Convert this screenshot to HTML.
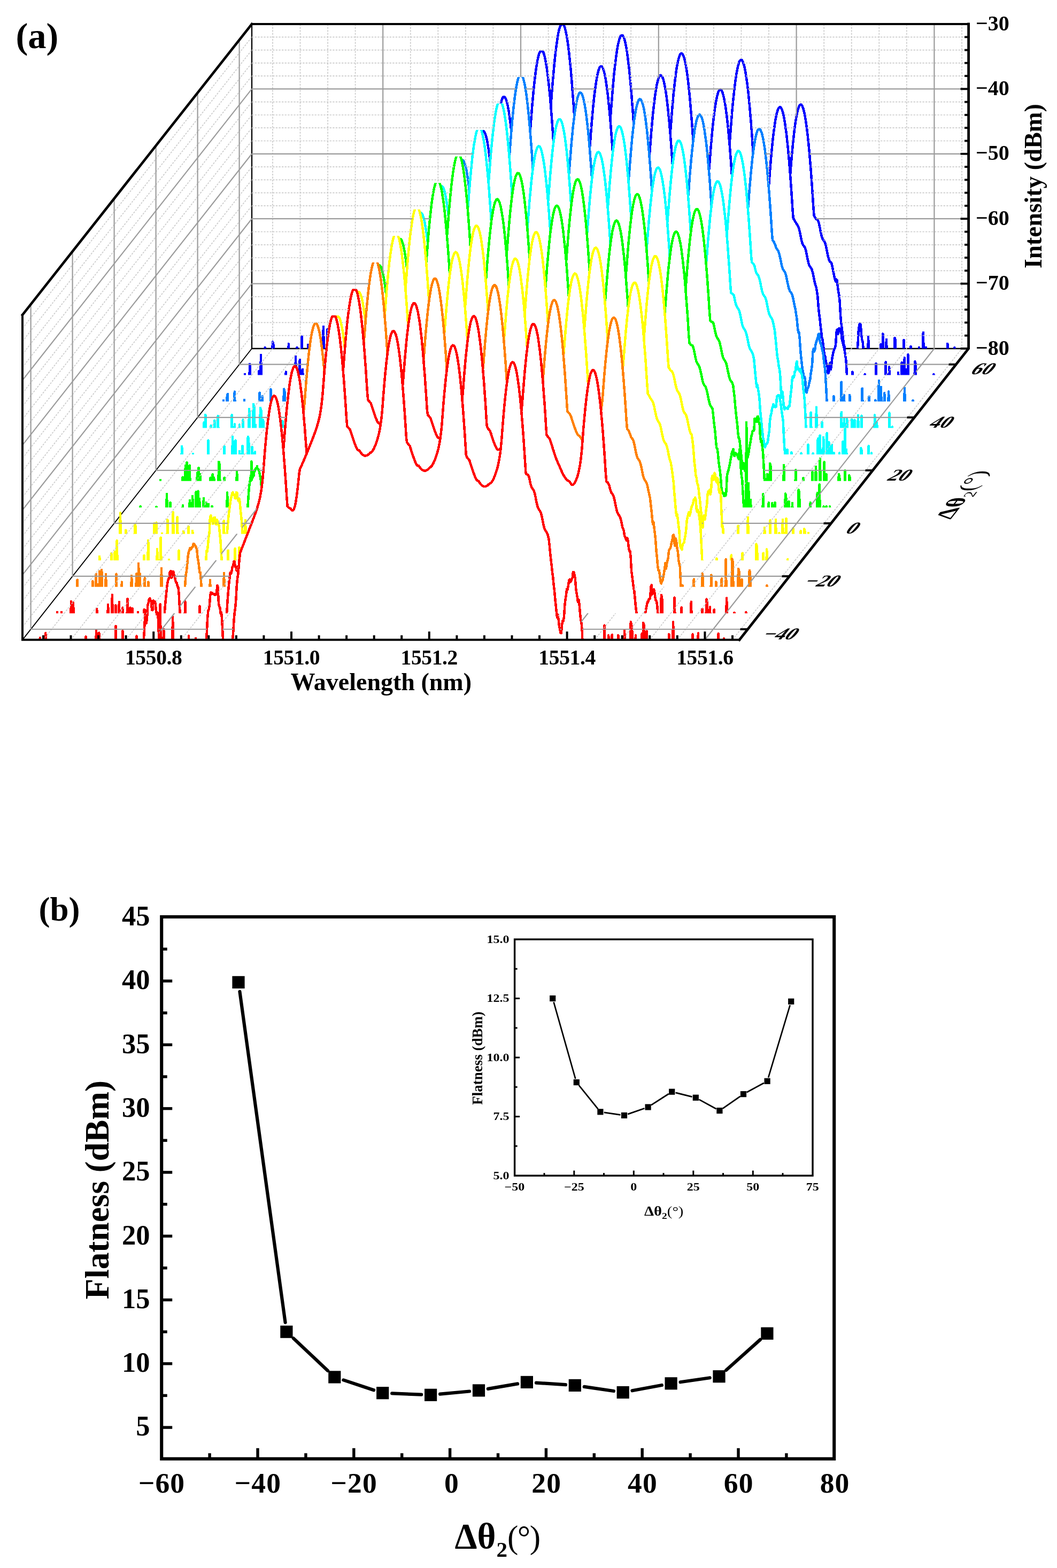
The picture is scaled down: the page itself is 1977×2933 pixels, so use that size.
<!DOCTYPE html>
<html><head><meta charset="utf-8"><title>Figure</title>
<style>html,body{margin:0;padding:0;background:#fff}svg{display:block}</style>
</head><body>
<svg width="1977" height="2933" viewBox="0 0 1977 2933">
<defs>
<clipPath id="c0"><rect x="0" y="589.80" width="1977" height="607.00"/></clipPath>
<path id="p0" d="M42.3,1221.1 73.5,1221.1 74.8,1192.9 76.1,1221.1 83.9,1221.1 85.2,1184.2 86.5,1221.1 159.3,1221.1 160.6,1190.6 161.9,1221.1 178.8,1221.1 180.1,1178.0 181.4,1221.1 184.0,1221.1 185.3,1183.7 186.6,1221.1 215.2,1221.1 216.5,1171.1 217.8,1221.1 228.2,1221.1 229.5,1180.3 230.8,1221.1 254.2,1221.1 255.5,1189.5 256.8,1221.1 267.2,1221.1 268.5,1201.4 269.8,1181.8 271.1,1154.7 272.4,1141.4 273.7,1165.8 275.0,1157.7 276.3,1132.3 277.6,1128.0 278.9,1120.9 280.2,1119.3 281.5,1124.1 282.8,1123.8 284.1,1141.2 285.4,1141.3 286.7,1123.5 288.0,1124.7 289.3,1124.8 290.6,1128.2 291.9,1142.3 293.2,1149.3 294.5,1145.8 295.8,1157.6 297.1,1190.7 298.4,1208.5 299.7,1129.8 301.0,1221.1 304.9,1221.1 306.2,1176.8 307.5,1221.1 321.8,1221.1 323.1,1153.9 324.4,1221.1 351.7,1221.1 353.0,1189.5 354.3,1221.1 364.7,1221.1 366.0,1194.1 367.3,1221.1 382.9,1221.1 384.2,1218.4 385.5,1203.9 386.8,1182.9 388.1,1156.9 389.4,1142.5 390.7,1139.4 392.0,1130.3 393.3,1112.8 394.6,1107.9 395.9,1111.3 397.2,1109.2 398.5,1111.2 399.8,1110.8 401.1,1113.0 402.4,1113.0 403.7,1110.7 405.0,1111.6 406.3,1095.0 407.6,1098.0 408.9,1128.6 410.2,1134.8 411.5,1137.3 412.8,1148.0 414.1,1145.6 415.4,1161.9 416.7,1189.3 418.0,1211.9 419.3,1221.1 431.0,1221.1 432.3,1214.5 433.6,1199.4 434.9,1198.4 436.2,1183.3 437.5,1160.6 438.8,1145.5 440.1,1136.9 441.4,1121.7 442.7,1097.0 444.0,1081.9 445.3,1074.6 446.6,1059.7 447.9,1044.7 449.2,1033.5 450.5,1030.6 451.8,1027.1 453.1,1023.7 454.4,1020.4 455.7,1017.1 457.0,1013.8 458.3,1010.5 459.6,1007.2 460.9,1003.8 462.2,1000.5 463.5,997.2 464.8,993.9 466.1,990.5 467.4,987.2 468.7,983.9 470.0,980.5 471.3,977.1 472.6,973.7 473.9,970.3 475.2,966.9 476.5,963.3 477.8,959.7 479.1,956.0 480.4,952.1 481.7,948.0 483.0,943.7 484.3,938.9 485.6,933.5 486.9,927.3 488.2,920.1 489.5,911.3 490.8,900.5 492.1,886.7 493.4,869.6 494.7,852.9 496.0,837.3 497.3,822.9 498.6,809.6 499.9,797.5 501.2,786.6 502.5,776.8 503.8,768.2 505.1,760.7 506.4,754.4 507.7,749.3 509.0,745.3 510.3,742.5 511.6,740.8 512.9,740.3 514.2,741.0 515.5,742.8 516.8,745.8 518.1,750.0 519.4,755.3 520.7,761.8 522.0,769.4 523.3,778.2 524.6,788.2 525.9,799.3 527.2,811.6 528.5,825.0 529.8,839.6 531.1,855.3 532.4,872.2 533.7,890.2 535.0,909.3 536.3,929.4 537.6,947.3 538.9,948.4 540.2,949.4 541.5,950.2 542.8,950.7 544.1,952.1 545.4,953.9 546.7,954.8 548.0,954.7 549.3,953.2 550.6,950.1 551.9,945.4 553.2,938.9 554.5,930.7 555.8,920.9 557.1,909.9 558.4,897.8 559.7,884.9 561.0,877.2 562.3,874.5 563.6,871.6 564.9,868.7 566.2,865.8 567.5,862.8 568.8,859.8 570.1,856.7 571.4,853.6 572.7,850.5 574.0,847.3 575.3,844.1 576.6,840.9 577.9,837.7 579.2,834.4 580.5,831.2 581.8,827.9 583.1,824.7 584.4,821.3 585.7,818.0 587.0,814.5 588.3,811.0 589.6,807.4 590.9,803.7 592.2,799.8 593.5,795.6 594.8,791.2 596.1,786.3 597.4,780.7 598.7,774.4 600.0,766.8 601.3,757.6 602.6,746.2 603.9,731.7 605.2,714.3 606.5,697.8 607.8,682.5 609.1,668.3 610.4,655.3 611.7,643.5 613.0,632.8 614.3,623.3 615.6,615.0 616.9,607.8 618.2,601.7 619.5,596.9 620.8,593.2 622.1,591.3 623.4,591.3 624.7,591.3 626.0,591.3 627.3,592.0 628.6,595.3 629.9,599.7 631.2,605.3 632.5,612.1 633.8,620.0 635.1,629.0 636.4,639.3 637.7,650.6 639.0,663.2 640.3,676.9 641.6,691.8 642.9,707.8 644.2,725.0 645.5,743.4 646.8,762.9 648.1,783.5 649.4,797.4 650.7,799.0 652.0,800.5 653.3,802.1 654.6,803.6 655.9,807.1 657.2,811.2 658.5,815.2 659.8,819.1 661.1,823.0 662.4,826.8 663.7,830.3 665.0,833.7 666.3,836.7 667.6,839.2 668.9,841.2 670.2,842.3 671.5,842.3 672.8,843.8 674.1,845.7 675.4,847.5 676.7,848.9 678.0,850.2 679.3,851.1 680.6,851.9 681.9,852.3 683.2,852.5 684.5,852.4 685.8,852.1 687.1,851.5 688.4,850.7 689.7,849.6 691.0,848.3 692.3,846.8 693.6,846.6 694.9,845.7 696.2,844.2 697.5,842.3 698.8,840.0 700.1,837.4 701.4,834.4 702.7,831.2 704.0,827.6 705.3,823.7 706.6,819.4 707.9,814.6 709.2,809.0 710.5,802.5 711.8,794.7 713.1,785.1 714.4,773.1 715.7,757.7 717.0,740.3 718.3,724.1 719.6,709.1 720.9,695.2 722.2,682.5 723.5,670.9 724.8,660.5 726.1,651.3 727.4,643.2 728.7,636.3 730.0,630.5 731.3,625.9 732.6,622.5 733.9,620.2 735.2,619.1 736.5,619.1 737.8,620.3 739.1,622.7 740.4,626.2 741.7,630.9 743.0,636.7 744.3,643.8 745.6,651.9 746.9,661.3 748.2,671.8 749.5,683.4 750.8,696.2 752.1,710.2 753.4,725.4 754.7,741.7 756.0,759.1 757.3,777.7 758.6,797.5 759.9,818.5 761.2,827.8 762.5,829.3 763.8,830.9 765.1,832.4 766.4,834.0 767.7,838.0 769.0,842.1 770.3,846.1 771.6,850.0 772.9,853.8 774.2,857.5 775.5,861.0 776.8,864.2 778.1,867.1 779.4,869.4 780.7,871.0 782.0,871.7 783.3,871.3 784.6,873.3 785.9,875.1 787.2,876.6 788.5,878.0 789.8,879.0 791.1,879.8 792.4,880.4 793.7,880.6 795.0,880.6 796.3,880.4 797.6,879.9 798.9,879.1 800.2,878.2 801.5,877.0 802.8,875.5 804.1,874.3 805.4,873.7 806.7,872.5 808.0,870.9 809.3,868.8 810.6,866.3 811.9,863.6 813.2,860.5 814.5,857.2 815.8,853.5 817.1,849.5 818.4,845.1 819.7,840.1 821.0,834.3 822.3,827.5 823.6,819.4 824.9,809.3 826.2,796.6 827.5,780.3 828.8,763.2 830.1,747.3 831.4,732.5 832.7,718.9 834.0,706.4 835.3,695.1 836.6,685.0 837.9,676.0 839.2,668.2 840.5,661.5 841.8,656.0 843.1,651.7 844.4,648.5 845.7,646.5 847.0,645.7 848.3,646.0 849.6,647.5 850.9,650.1 852.2,653.9 853.5,658.9 854.8,665.0 856.1,672.2 857.4,680.7 858.7,690.3 860.0,701.1 861.3,713.0 862.6,726.1 863.9,740.3 865.2,755.7 866.5,772.3 867.8,790.0 869.1,808.9 870.4,829.0 871.7,850.2 873.0,854.8 874.3,856.4 875.6,858.0 876.9,859.5 878.2,861.6 879.5,865.7 880.8,869.7 882.1,873.7 883.4,877.6 884.7,881.5 886.0,885.2 887.3,888.7 888.6,891.9 889.9,894.7 891.2,897.1 892.5,898.7 893.8,899.5 895.1,899.8 896.4,901.9 897.7,903.8 899.0,905.4 900.3,906.8 901.6,908.0 902.9,908.9 904.2,909.6 905.5,909.9 906.8,910.1 908.1,909.9 909.4,909.5 910.7,908.9 912.0,908.0 913.3,906.9 914.6,905.5 915.9,904.7 917.2,904.2 918.5,903.1 919.8,901.5 921.1,899.4 922.4,897.0 923.7,894.2 925.0,891.2 926.3,887.8 927.6,884.1 928.9,880.0 930.2,875.5 931.5,870.3 932.8,864.4 934.1,857.3 935.4,848.8 936.7,838.2 938.0,824.7 939.3,807.8 940.6,791.0 941.9,775.3 943.2,760.8 944.5,747.5 945.8,735.3 947.1,724.2 948.4,714.4 949.7,705.7 951.0,698.1 952.3,691.7 953.6,686.5 954.9,682.4 956.2,679.5 957.5,677.8 958.8,677.2 960.1,677.8 961.4,679.5 962.7,682.4 964.0,686.5 965.3,691.7 966.6,698.1 967.9,705.7 969.2,714.4 970.5,724.2 971.8,735.3 973.1,747.5 974.4,760.8 975.7,775.3 977.0,791.0 978.3,807.8 979.6,825.8 980.9,845.0 982.2,865.3 983.5,885.2 984.8,886.8 986.1,887.6 987.4,888.3 988.7,890.0 990.0,894.2 991.3,900.7 992.6,906.3 993.9,910.4 995.2,912.9 996.5,914.6 997.8,916.5 999.1,919.5 1000.4,924.0 1001.7,930.0 1003.0,936.6 1004.3,942.9 1005.6,947.9 1006.9,951.3 1008.2,953.4 1009.5,955.1 1010.8,957.3 1012.1,960.8 1013.4,966.0 1014.7,972.3 1016.0,978.9 1017.3,984.8 1018.6,989.2 1019.9,992.0 1021.2,993.8 1022.5,995.6 1023.8,998.2 1025.1,1002.4 1026.4,1008.0 1027.7,1019.5 1029.0,1033.5 1030.3,1045.8 1031.6,1056.7 1032.9,1069.1 1034.2,1078.5 1035.5,1092.8 1036.8,1102.9 1038.1,1117.9 1039.4,1130.6 1040.7,1142.9 1042.0,1155.0 1043.3,1149.7 1044.6,1157.9 1045.9,1171.2 1047.2,1177.0 1048.5,1183.7 1049.8,1184.3 1051.1,1169.1 1052.4,1161.4 1053.7,1162.2 1055.0,1153.3 1056.3,1132.6 1057.6,1120.7 1058.9,1112.9 1060.2,1101.6 1061.5,1103.0 1062.8,1096.2 1064.1,1086.2 1065.4,1083.8 1066.7,1089.1 1068.0,1087.5 1069.3,1083.5 1070.6,1081.1 1071.9,1069.9 1073.2,1069.9 1074.5,1075.8 1075.8,1081.1 1077.1,1099.7 1078.4,1108.8 1079.7,1116.8 1081.0,1126.1 1082.3,1121.6 1083.6,1130.6 1084.9,1147.0 1086.2,1159.0 1087.5,1165.0 1088.8,1180.9 1090.1,1216.5 1091.4,1221.1 1129.1,1221.1 1130.4,1169.6 1131.7,1221.1 1136.9,1221.1 1138.2,1188.4 1139.5,1221.1 1143.4,1221.1 1144.7,1187.4 1146.0,1221.1 1155.1,1221.1 1156.4,1188.4 1157.7,1221.1 1166.8,1221.1 1168.1,1179.5 1169.4,1221.1 1178.5,1221.1 1179.8,1163.3 1181.1,1168.1 1182.4,1181.5 1183.7,1221.1 1187.6,1221.1 1188.9,1188.4 1190.2,1221.1 1199.3,1221.1 1200.6,1185.4 1201.9,1221.1 1203.2,1164.7 1204.5,1169.5 1205.8,1221.1 1208.4,1221.1 1209.7,1180.5 1211.0,1221.1 1250.0,1221.1 1251.3,1186.4 1252.6,1221.1 1257.8,1221.1 1259.1,1163.3 1260.4,1221.1 1294.2,1221.1 1295.5,1186.4 1296.8,1221.1 1304.6,1221.1 1305.9,1184.4 1307.2,1221.1 1342.3,1221.1 1343.6,1185.4 1344.9,1221.1 1352.7,1221.1 1354.0,1194.3 1355.3,1221.1 1382.6,1221.1 L1382.6,1226.8 L42.3,1226.8Z"/>
<mask id="m0" maskUnits="userSpaceOnUse" x="0" y="0" width="1977" height="1300"><rect x="0" y="0" width="1977" height="1300" fill="#fff"/><use href="#p0" fill="#000" clip-path="url(#c0)"/></mask>
<clipPath id="c1"><rect x="0" y="540.27" width="1977" height="607.00"/></clipPath>
<path id="p1" d="M81.1,1171.6 105.8,1171.6 107.1,1145.2 108.4,1171.6 113.6,1171.6 114.9,1145.2 116.2,1171.6 131.8,1171.6 133.1,1125.2 134.4,1171.6 135.8,1171.6 137.0,1127.5 138.3,1171.6 179.9,1171.6 181.2,1139.0 182.6,1171.6 200.8,1171.6 202.1,1130.9 203.3,1171.6 208.6,1171.6 209.9,1112.6 211.1,1171.6 215.1,1171.6 216.4,1132.1 217.6,1171.6 221.6,1171.6 222.9,1125.9 224.1,1171.6 228.1,1171.6 229.4,1136.7 230.6,1171.6 237.1,1171.6 238.4,1119.9 239.8,1171.6 242.4,1171.6 243.6,1136.7 244.9,1171.6 246.2,1171.6 247.6,1138.3 248.9,1171.6 256.6,1171.6 257.9,1145.2 259.2,1171.6 268.4,1171.6 269.6,1140.1 270.9,1171.6 306.1,1171.6 307.4,1154.9 308.6,1135.3 309.9,1122.0 311.2,1108.7 312.6,1095.1 313.9,1086.9 315.1,1083.9 316.4,1079.6 317.8,1069.8 319.1,1068.1 320.4,1080.7 321.6,1080.4 322.9,1069.0 324.2,1069.1 325.6,1076.2 326.9,1077.4 328.1,1086.1 329.4,1089.6 330.8,1090.2 332.1,1097.2 333.4,1098.2 334.6,1110.0 335.9,1135.0 337.2,1152.8 338.6,1171.6 345.1,1171.6 346.3,1125.2 347.6,1171.6 372.3,1171.6 373.6,1133.7 374.9,1171.6 421.8,1171.6 423.1,1169.9 424.3,1144.4 425.6,1123.5 426.9,1106.8 428.2,1092.4 429.6,1080.4 430.8,1071.3 432.1,1072.9 433.4,1067.9 434.8,1059.8 436.1,1057.8 437.3,1050.5 438.6,1050.1 439.9,1059.9 441.2,1059.9 442.6,1067.3 443.8,1068.1 445.1,1059.5 446.4,1062.4 447.8,1054.4 449.1,1060.6 450.3,1076.0 451.6,1086.7 452.9,1097.6 454.2,1113.9 455.6,1129.6 456.8,1152.2 458.1,1171.6 469.8,1171.6 471.1,1168.6 472.4,1153.4 473.8,1151.4 475.1,1136.2 476.3,1100.5 477.6,1085.3 478.9,1086.1 480.2,1070.9 481.6,1050.6 482.8,1035.4 484.1,1027.6 485.4,1009.7 486.8,988.4 488.1,978.0 489.3,974.8 490.6,971.5 491.9,968.1 493.2,964.8 494.6,961.5 495.8,958.2 497.1,954.9 498.4,951.6 499.8,948.2 501.1,944.9 502.3,941.6 503.6,938.3 504.9,934.9 506.2,931.6 507.6,928.3 508.8,924.9 510.1,921.5 511.4,918.1 512.8,914.7 514.1,911.3 515.4,907.7 516.6,904.1 518.0,900.4 519.2,896.5 520.6,892.4 521.9,888.1 523.1,883.3 524.5,877.9 525.8,871.7 527.1,864.5 528.4,855.7 529.6,844.9 531.0,831.1 532.2,814.0 533.6,797.3 534.9,781.7 536.1,767.3 537.5,754.0 538.8,741.9 540.1,731.0 541.4,721.2 542.6,712.6 544.0,705.1 545.2,698.8 546.6,693.7 547.9,689.7 549.1,686.9 550.5,685.2 551.8,684.7 553.1,685.4 554.4,687.2 555.6,690.2 557.0,694.4 558.2,699.7 559.6,706.2 560.9,713.8 562.1,722.6 563.5,732.6 564.8,743.7 566.1,756.0 567.4,769.4 568.6,784.0 570.0,799.8 571.2,816.6 572.6,834.7 573.9,853.8 575.1,873.9 576.5,891.8 577.8,893.0 579.1,894.1 580.4,894.9 581.6,895.5 583.0,897.0 584.2,899.1 585.6,900.3 586.9,900.5 588.1,899.5 589.5,897.0 590.8,892.8 592.1,886.8 593.4,879.1 594.6,869.9 596.0,859.2 597.2,847.4 598.5,834.7 599.9,827.2 601.1,824.5 602.5,821.7 603.8,818.9 605.0,816.0 606.4,813.0 607.6,810.0 609.0,807.0 610.2,803.9 611.5,800.8 612.9,797.6 614.1,794.5 615.5,791.3 616.8,788.1 618.0,784.8 619.4,781.6 620.6,778.4 622.0,775.1 623.2,771.8 624.5,768.4 625.9,765.0 627.1,761.5 628.5,757.9 629.8,754.1 631.0,750.2 632.4,746.1 633.6,741.6 635.0,736.7 636.2,731.2 637.5,724.8 638.9,717.3 640.1,708.1 641.5,696.7 642.8,682.1 644.0,664.8 645.4,648.3 646.6,633.0 648.0,618.8 649.2,605.8 650.5,594.0 651.9,583.3 653.1,573.8 654.5,565.4 655.8,558.2 657.0,552.2 658.4,547.3 659.6,543.6 661.0,541.7 662.2,541.7 663.5,541.7 664.9,541.7 666.1,542.5 667.5,545.8 668.8,550.2 670.0,555.8 671.4,562.5 672.6,570.4 674.0,579.5 675.2,589.7 676.5,601.1 677.9,613.7 679.1,627.4 680.5,642.2 681.8,658.3 683.0,675.5 684.4,693.8 685.6,713.3 687.0,734.0 688.2,747.9 689.5,749.5 690.9,751.0 692.1,752.6 693.5,754.1 694.8,757.6 696.0,761.6 697.4,765.6 698.6,769.6 700.0,773.4 701.2,777.2 702.5,780.7 703.9,784.0 705.1,787.0 706.5,789.5 707.8,791.3 709.0,792.3 710.4,792.2 711.6,793.6 713.0,795.5 714.2,797.1 715.5,798.5 716.9,799.6 718.1,800.5 719.5,801.2 720.8,801.5 722.0,801.6 723.4,801.5 724.6,801.0 726.0,800.4 727.2,799.5 728.5,798.4 729.9,797.0 731.1,795.4 732.5,795.1 733.8,794.1 735.0,792.5 736.4,790.6 737.6,788.2 739.0,785.5 740.2,782.6 741.5,779.3 742.9,775.7 744.1,771.8 745.5,767.5 746.8,762.6 748.0,757.1 749.4,750.5 750.6,742.7 752.0,733.1 753.2,721.1 754.5,705.7 755.9,688.4 757.1,672.2 758.5,657.1 759.8,643.2 761.0,630.5 762.4,619.0 763.6,608.6 765.0,599.3 766.2,591.2 767.5,584.3 768.9,578.5 770.1,573.9 771.5,570.5 772.8,568.2 774.0,567.1 775.4,567.1 776.6,568.4 778.0,570.7 779.2,574.3 780.5,578.9 781.9,584.8 783.1,591.8 784.5,600.0 785.8,609.3 787.0,619.8 788.4,631.5 789.6,644.3 791.0,658.3 792.2,673.4 793.5,689.7 794.9,707.2 796.1,725.8 797.5,745.6 798.8,766.5 800.0,775.8 801.4,777.4 802.6,778.9 804.0,780.5 805.2,782.0 806.5,786.1 807.9,790.1 809.1,794.1 810.5,798.0 811.8,801.8 813.0,805.5 814.4,808.9 815.6,812.1 817.0,814.9 818.2,817.1 819.5,818.7 820.9,819.3 822.1,818.7 823.5,820.6 824.8,822.3 826.0,823.8 827.4,825.0 828.6,826.0 830.0,826.7 831.2,827.2 832.5,827.4 833.9,827.3 835.1,827.0 836.5,826.4 837.8,825.5 839.0,824.5 840.4,823.2 841.6,821.7 843.0,820.4 844.2,819.7 845.5,818.5 846.9,816.7 848.1,814.6 849.5,812.1 850.8,809.3 852.0,806.2 853.4,802.9 854.6,799.2 856.0,795.2 857.2,790.7 858.5,785.7 859.9,779.9 861.1,773.2 862.5,765.0 863.8,754.9 865.0,742.2 866.4,725.9 867.6,708.8 869.0,692.9 870.2,678.1 871.5,664.5 872.9,652.0 874.1,640.7 875.5,630.6 876.8,621.6 878.0,613.8 879.4,607.1 880.6,601.7 882.0,597.3 883.2,594.1 884.5,592.1 885.9,591.3 887.1,591.6 888.5,593.1 889.8,595.7 891.0,599.5 892.4,604.5 893.6,610.6 895.0,617.9 896.2,626.3 897.5,635.9 898.9,646.7 900.1,658.6 901.5,671.7 902.8,685.9 904.0,701.3 905.4,717.9 906.6,735.6 908.0,754.5 909.2,774.6 910.5,795.8 911.9,800.4 913.1,802.0 914.5,803.5 915.8,805.1 917.0,807.2 918.4,811.2 919.6,815.2 921.0,819.2 922.2,823.0 923.5,826.7 924.9,830.2 926.1,833.5 927.5,836.4 928.8,838.8 930.0,840.5 931.4,841.4 932.6,841.1 934.0,840.4 935.2,842.0 936.5,843.4 937.9,844.5 939.1,845.3 940.5,845.9 941.8,846.2 943.0,846.2 944.4,846.0 945.6,845.6 947.0,844.9 948.2,843.9 949.5,842.7 950.9,841.4 952.1,839.8 953.5,838.0 954.8,836.6 956.0,835.4 957.4,833.8 958.6,831.7 960.0,829.3 961.2,826.6 962.5,823.6 963.9,820.3 965.1,816.8 966.5,813.0 967.8,808.9 969.0,804.3 970.4,799.1 971.6,793.1 973.0,786.0 974.2,777.4 975.5,766.8 976.9,753.4 978.1,736.4 979.5,719.6 980.8,703.9 982.0,689.4 983.4,676.1 984.6,663.9 986.0,652.9 987.2,643.0 988.5,634.3 989.9,626.7 991.1,620.3 992.5,615.1 993.8,611.1 995.0,608.2 996.4,606.4 997.6,605.8 999.0,606.4 1000.2,608.2 1001.5,611.1 1002.9,615.1 1004.1,620.3 1005.5,626.7 1006.8,634.3 1008.0,643.0 1009.4,652.9 1010.6,663.9 1012.0,676.1 1013.2,689.4 1014.5,704.0 1015.9,719.6 1017.1,736.5 1018.5,754.5 1019.8,773.6 1021.0,793.9 1022.4,813.8 1023.6,815.4 1025.0,817.0 1026.2,818.6 1027.5,820.1 1028.9,822.9 1030.2,827.0 1031.5,831.1 1032.8,835.2 1034.0,839.2 1035.4,843.2 1036.7,847.2 1038.0,851.1 1039.2,854.9 1040.5,858.5 1041.9,861.9 1043.2,865.0 1044.5,867.7 1045.8,870.4 1047.0,873.6 1048.4,876.8 1049.7,879.7 1051.0,882.6 1052.2,885.3 1053.5,887.8 1054.9,890.1 1056.2,892.2 1057.5,894.1 1058.8,895.8 1060.0,897.2 1061.4,898.4 1062.7,899.3 1064.0,900.0 1065.2,900.4 1066.5,902.7 1067.9,905.1 1069.2,906.5 1070.5,907.0 1071.8,906.7 1073.0,905.7 1074.4,904.1 1075.7,902.0 1077.0,899.3 1078.2,896.2 1079.6,892.5 1080.9,888.2 1082.2,883.1 1083.5,877.1 1084.8,869.9 1086.1,861.1 1087.4,850.0 1088.7,835.8 1090.0,818.6 1091.2,802.0 1092.6,786.7 1093.9,772.4 1095.2,759.3 1096.5,747.4 1097.8,736.7 1099.1,727.1 1100.4,718.6 1101.7,711.3 1103.0,705.2 1104.2,700.3 1105.6,696.5 1106.9,693.8 1108.2,692.4 1109.5,692.1 1110.8,692.9 1112.1,694.9 1113.4,698.1 1114.7,702.4 1116.0,707.9 1117.3,714.6 1118.6,722.4 1119.9,731.4 1121.2,741.5 1122.5,752.8 1123.8,765.3 1125.1,778.9 1126.4,793.7 1127.7,809.6 1129.0,826.7 1130.3,845.0 1131.6,864.4 1132.9,885.0 1134.2,900.4 1135.5,901.8 1136.8,902.7 1138.1,904.6 1139.4,907.7 1140.7,913.1 1142.0,918.1 1143.3,921.2 1144.6,923.1 1145.9,924.8 1147.2,927.3 1148.5,931.2 1149.8,936.6 1151.1,943.1 1152.4,949.6 1153.7,955.2 1155.0,959.3 1156.3,961.9 1157.6,963.6 1158.9,965.4 1160.2,968.4 1161.5,972.9 1162.8,978.9 1164.1,985.7 1165.4,988.5 1166.7,992.4 1168.0,1001.9 1169.3,1004.1 1170.6,1008.2 1171.9,1010.7 1173.2,1006.3 1174.5,1010.9 1175.8,1023.3 1177.1,1030.1 1178.4,1030.7 1179.7,1042.4 1181.0,1067.9 1182.3,1076.9 1183.6,1088.0 1184.9,1097.8 1186.2,1104.9 1187.5,1117.7 1188.8,1132.6 1190.1,1143.5 1191.4,1152.6 1192.7,1162.7 1194.0,1167.7 1195.3,1171.6 1204.4,1171.6 1205.7,1165.8 1207.0,1147.3 1208.3,1139.6 1209.6,1132.9 1210.9,1126.2 1212.2,1126.1 1213.5,1120.6 1214.8,1120.8 1216.1,1118.9 1217.4,1097.3 1218.7,1094.1 1220.0,1111.5 1221.3,1109.2 1222.6,1102.5 1223.9,1105.2 1225.2,1115.3 1226.5,1122.7 1227.8,1124.1 1229.1,1131.4 1230.4,1148.0 1231.7,1157.8 1233.0,1166.7 1234.3,1171.6 1235.6,1171.6 1236.9,1112.7 1238.2,1117.6 1239.5,1171.6 1260.3,1171.6 1261.6,1117.6 1262.9,1171.6 1273.3,1171.6 1274.6,1136.4 1275.9,1171.6 1291.5,1171.6 1292.8,1125.6 1294.1,1171.6 1312.3,1171.6 1313.6,1138.8 1314.9,1171.6 1320.1,1171.6 1321.4,1120.6 1322.7,1125.5 1324.0,1171.6 1326.6,1171.6 1327.9,1135.4 1329.2,1171.6 1334.4,1171.6 1335.7,1140.4 1337.0,1171.6 1357.8,1171.6 1359.1,1118.6 1360.4,1171.6 1372.1,1171.6 1373.4,1145.8 1374.7,1171.6 1394.2,1171.6 1395.5,1145.3 1396.8,1171.6 1421.5,1171.6 L1421.5,1177.3 L81.1,1177.3Z"/>
<mask id="m1" maskUnits="userSpaceOnUse" x="0" y="0" width="1977" height="1300"><rect x="0" y="0" width="1977" height="1300" fill="#fff"/><use href="#p1" fill="#000" clip-path="url(#c1)"/></mask>
<clipPath id="c2"><rect x="0" y="490.75" width="1977" height="607.00"/></clipPath>
<path id="p2" d="M120.0,1122.0 143.4,1122.0 144.7,1084.7 146.0,1122.0 172.0,1122.0 173.3,1087.0 174.6,1122.0 178.5,1122.0 179.8,1073.7 181.1,1122.0 185.0,1122.0 186.3,1068.7 187.6,1122.0 188.9,1122.0 190.2,1065.9 191.5,1122.0 196.7,1122.0 198.0,1073.7 199.3,1122.0 216.2,1122.0 217.5,1073.7 218.8,1122.0 226.6,1122.0 227.9,1088.6 229.2,1122.0 244.8,1122.0 246.1,1076.7 247.4,1122.0 253.9,1122.0 255.2,1073.2 256.5,1122.0 257.8,1122.0 259.1,1053.7 260.4,1122.0 261.7,1073.2 263.0,1122.0 269.5,1122.0 270.8,1081.3 272.1,1122.0 276.0,1122.0 277.3,1088.6 278.6,1122.0 300.7,1122.0 302.0,1062.9 303.3,1122.0 344.9,1122.0 346.2,1094.5 347.5,1074.9 348.8,1069.5 350.1,1056.3 351.4,1041.9 352.7,1033.8 354.0,1029.4 355.3,1025.1 356.6,1028.0 357.9,1026.3 359.2,1023.1 360.5,1022.9 361.8,1017.2 363.1,1017.3 364.4,1020.1 365.7,1021.3 367.0,1024.7 368.3,1028.2 369.6,1042.7 370.9,1049.7 372.2,1059.6 373.5,1071.3 374.8,1070.7 376.1,1088.5 377.4,1108.9 378.7,1122.0 391.7,1122.0 393.0,1084.7 394.3,1122.0 417.7,1122.0 419.0,1072.1 420.3,1122.0 461.9,1122.0 463.2,1100.1 464.5,1079.2 465.8,1070.4 467.1,1056.0 468.4,1035.2 469.7,1026.1 471.0,1016.9 472.3,1011.9 473.6,1009.9 474.9,1007.8 476.2,1016.3 477.5,1015.9 478.8,1003.6 480.1,1003.6 481.4,1006.0 482.7,1006.9 484.0,1014.7 485.3,1017.6 486.6,1018.8 487.9,1024.9 489.2,1020.4 490.5,1031.0 491.8,1057.8 493.1,1073.9 494.4,1091.3 495.7,1113.1 497.0,1122.0 506.1,1122.0 507.4,1121.1 508.7,1106.0 510.0,1094.8 511.3,1079.7 512.6,1068.6 513.9,1053.5 515.2,1031.3 516.5,1016.1 517.8,997.1 519.1,982.0 520.4,962.4 521.7,950.0 523.0,939.1 524.3,924.9 525.6,909.7 526.9,898.2 528.2,894.9 529.5,891.6 530.8,888.3 532.1,885.0 533.4,881.6 534.7,878.3 536.0,875.0 537.3,871.7 538.6,868.4 539.9,865.0 541.2,861.7 542.5,858.4 543.8,855.1 545.1,851.7 546.4,848.4 547.7,845.0 549.0,841.7 550.3,838.3 551.6,834.8 552.9,831.4 554.2,827.9 555.5,824.2 556.8,820.5 558.1,816.7 559.4,812.6 560.7,808.2 562.0,803.4 563.3,798.0 564.6,791.9 565.9,784.6 567.2,775.9 568.5,765.0 569.8,751.3 571.1,734.2 572.4,717.4 573.7,701.8 575.0,687.4 576.3,674.1 577.6,662.0 578.9,651.1 580.2,641.3 581.5,632.7 582.8,625.2 584.1,618.9 585.4,613.8 586.7,609.8 588.0,607.0 589.3,605.4 590.6,604.9 591.9,605.5 593.2,607.4 594.5,610.4 595.8,614.5 597.1,619.8 598.4,626.3 599.7,633.9 601.0,642.7 602.3,652.7 603.6,663.8 604.9,676.1 606.2,689.5 607.5,704.1 608.8,719.9 610.1,736.8 611.4,754.8 612.7,774.0 614.0,794.3 615.3,812.4 616.6,813.7 617.9,815.0 619.2,816.1 620.5,817.1 621.8,819.1 623.1,821.9 624.4,824.2 625.7,825.8 627.0,826.4 628.3,825.8 629.6,823.9 630.9,820.3 632.2,815.0 633.5,807.9 634.8,799.2 636.1,789.0 637.4,777.6 638.7,770.8 640.0,768.4 641.3,766.0 642.6,763.4 643.9,760.7 645.2,758.0 646.5,755.2 647.8,752.3 649.1,749.3 650.4,746.4 651.7,743.3 653.0,740.3 654.3,737.2 655.6,734.0 656.9,730.9 658.2,727.7 659.5,724.5 660.8,721.3 662.1,718.1 663.4,714.7 664.7,711.3 666.0,707.9 667.3,704.3 668.6,700.6 669.9,696.7 671.2,692.6 672.5,688.1 673.8,683.2 675.1,677.7 676.4,671.3 677.7,663.8 679.0,654.6 680.3,643.1 681.6,628.6 682.9,611.2 684.2,594.7 685.5,579.4 686.8,565.3 688.1,552.3 689.4,540.4 690.7,529.8 692.0,520.2 693.3,511.9 694.6,504.7 695.9,498.7 697.2,493.8 698.5,490.1 699.8,487.6 701.1,486.2 702.4,485.9 703.7,486.9 705.0,489.0 706.3,492.2 707.6,496.7 708.9,502.2 710.2,509.0 711.5,516.9 712.8,526.0 714.1,536.2 715.4,547.6 716.7,560.1 718.0,573.8 719.3,588.7 720.6,604.7 721.9,621.9 723.2,640.3 724.5,659.8 725.8,680.5 727.1,694.4 728.4,695.9 729.7,697.5 731.0,699.0 732.3,700.6 733.6,704.1 734.9,708.1 736.2,712.2 737.5,716.1 738.8,720.0 740.1,723.8 741.4,727.4 742.7,730.9 744.0,734.0 745.3,736.7 746.6,738.8 747.9,740.1 749.2,740.5 750.5,742.2 751.8,744.2 753.1,746.1 754.4,747.8 755.7,749.2 757.0,750.3 758.3,751.2 759.6,751.9 760.9,752.2 762.2,752.3 763.5,752.2 764.8,751.8 766.1,751.1 767.4,750.2 768.7,749.1 770.0,747.7 771.3,747.7 772.6,747.0 773.9,745.7 775.2,744.0 776.5,741.8 777.8,739.2 779.1,736.4 780.4,733.2 781.7,729.7 783.0,725.8 784.3,721.5 785.6,716.7 786.9,711.1 788.2,704.6 789.5,696.8 790.8,687.2 792.1,675.2 793.4,659.8 794.7,642.5 796.0,626.3 797.3,611.2 798.6,597.4 799.9,584.6 801.2,573.1 802.5,562.7 803.8,553.4 805.1,545.3 806.4,538.4 807.7,532.7 809.0,528.1 810.3,524.6 811.6,522.3 812.9,521.2 814.2,521.3 815.5,522.5 816.8,524.8 818.1,528.4 819.4,533.1 820.7,538.9 822.0,545.9 823.3,554.1 824.6,563.4 825.9,573.9 827.2,585.6 828.5,598.4 829.8,612.4 831.1,627.5 832.4,643.8 833.7,661.3 835.0,679.9 836.3,699.7 837.6,720.6 838.9,729.9 840.2,731.5 841.5,733.0 842.8,734.5 844.1,736.1 845.4,740.1 846.7,744.1 848.0,748.1 849.3,751.9 850.6,755.6 851.9,759.2 853.2,762.5 854.5,765.4 855.8,767.9 857.1,769.7 858.4,770.7 859.7,770.5 861.0,769.1 862.3,770.6 863.6,772.0 864.9,773.0 866.2,773.8 867.5,774.4 868.8,774.7 870.1,774.7 871.4,774.5 872.7,774.0 874.0,773.3 875.3,772.3 876.6,771.1 877.9,769.7 879.2,768.1 880.5,766.3 881.8,764.6 883.1,763.5 884.4,761.9 885.7,759.8 887.0,757.4 888.3,754.7 889.6,751.8 890.9,748.6 892.2,745.1 893.5,741.4 894.8,737.3 896.1,732.8 897.4,727.8 898.7,722.0 900.0,715.2 901.3,707.0 902.6,696.9 903.9,684.2 905.2,667.9 906.5,650.8 907.8,634.9 909.1,620.1 910.4,606.5 911.7,594.0 913.0,582.7 914.3,572.6 915.6,563.6 916.9,555.8 918.2,549.1 919.5,543.6 920.8,539.3 922.1,536.1 923.4,534.1 924.7,533.3 926.0,533.6 927.3,535.1 928.6,537.7 929.9,541.5 931.2,546.4 932.5,552.6 933.8,559.8 935.1,568.3 936.4,577.9 937.7,588.6 939.0,600.6 940.3,613.7 941.6,627.9 942.9,643.3 944.2,659.9 945.5,677.6 946.8,696.5 948.1,716.5 949.4,737.7 950.7,742.4 952.0,744.0 953.3,745.5 954.6,747.1 955.9,749.2 957.2,753.3 958.5,757.3 959.8,761.3 961.1,765.2 962.4,769.0 963.7,772.7 965.0,776.1 966.3,779.3 967.6,782.0 968.9,784.3 970.2,785.8 971.5,786.3 972.8,786.4 974.1,788.4 975.4,790.2 976.7,791.7 978.0,793.0 979.3,794.0 980.6,794.8 981.9,795.4 983.2,795.6 984.5,795.6 985.8,795.3 987.1,794.8 988.4,794.1 989.7,793.1 991.0,791.8 992.3,790.4 993.6,789.5 994.9,788.8 996.2,787.6 997.5,785.8 998.8,783.7 1000.1,781.2 1001.4,778.4 1002.7,775.3 1004.0,771.9 1005.3,768.1 1006.6,764.0 1007.9,759.5 1009.2,754.3 1010.5,748.4 1011.8,741.3 1013.1,732.7 1014.4,722.1 1015.7,708.7 1017.0,691.8 1018.3,674.9 1019.6,659.3 1020.9,644.8 1022.2,631.4 1023.5,619.2 1024.8,608.2 1026.1,598.3 1027.4,589.6 1028.7,582.1 1030.0,575.7 1031.3,570.4 1032.6,566.4 1033.9,563.5 1035.2,561.7 1036.5,561.2 1037.8,561.7 1039.1,563.5 1040.4,566.4 1041.7,570.4 1043.0,575.7 1044.3,582.1 1045.6,589.6 1046.9,598.3 1048.2,608.2 1049.5,619.2 1050.8,631.4 1052.1,644.8 1053.4,659.3 1054.7,675.0 1056.0,691.8 1057.3,709.8 1058.6,728.9 1059.9,749.3 1061.2,769.2 1062.5,770.7 1063.8,772.3 1065.1,773.8 1066.4,775.4 1067.7,778.1 1069.0,782.1 1070.3,786.2 1071.6,790.2 1072.9,794.1 1074.2,797.9 1075.5,801.5 1076.8,805.0 1078.1,808.2 1079.4,811.0 1080.7,813.2 1082.0,814.7 1083.3,815.3 1084.6,816.1 1085.9,818.2 1087.2,820.1 1088.5,821.7 1089.8,823.1 1091.1,824.3 1092.4,825.2 1093.7,825.8 1095.0,826.2 1096.3,826.3 1097.6,826.1 1098.9,825.7 1100.2,825.0 1101.5,824.1 1102.8,823.0 1104.1,821.6 1105.4,821.2 1106.7,820.6 1108.0,819.4 1109.3,817.7 1110.6,815.5 1111.9,813.0 1113.2,810.2 1114.5,807.1 1115.8,803.7 1117.1,799.9 1118.4,795.7 1119.7,791.1 1121.0,785.8 1122.3,779.6 1123.6,772.2 1124.9,763.3 1126.2,752.1 1127.5,737.8 1128.8,720.6 1130.1,704.0 1131.4,688.6 1132.7,674.4 1134.0,661.3 1135.3,649.3 1136.6,638.6 1137.9,629.0 1139.2,620.5 1140.5,613.3 1141.8,607.1 1143.1,602.2 1144.4,598.4 1145.7,595.8 1147.0,594.3 1148.3,594.0 1149.6,594.8 1150.9,596.8 1152.2,600.0 1153.5,604.3 1154.8,609.8 1156.1,616.5 1157.4,624.3 1158.7,633.3 1160.0,643.4 1161.3,654.7 1162.6,667.2 1163.9,680.8 1165.2,695.6 1166.5,711.5 1167.8,728.6 1169.1,746.9 1170.4,766.3 1171.7,786.9 1173.0,802.3 1174.3,803.8 1175.6,805.5 1176.9,808.2 1178.2,811.2 1179.5,815.3 1180.8,818.2 1182.1,819.9 1183.4,821.8 1184.7,824.7 1186.0,829.3 1187.3,835.2 1188.6,841.8 1189.9,848.1 1191.2,853.2 1192.5,856.6 1193.8,858.8 1195.1,860.4 1196.4,862.6 1197.7,866.1 1199.0,871.2 1200.3,877.6 1201.6,884.2 1202.9,890.1 1204.2,894.5 1205.5,897.4 1206.8,899.2 1208.1,901.0 1209.4,903.6 1210.7,907.7 1212.0,913.4 1213.3,920.0 1214.6,926.4 1215.9,931.5 1217.2,944.0 1218.5,954.8 1219.8,968.9 1221.1,980.4 1222.4,976.6 1223.7,988.6 1225.0,998.3 1226.3,1012.0 1227.6,1031.3 1228.9,1043.0 1230.2,1058.9 1231.5,1066.9 1232.8,1066.8 1234.1,1076.5 1235.4,1087.6 1236.7,1091.5 1238.0,1087.2 1239.3,1085.5 1240.6,1079.0 1241.9,1072.9 1243.2,1063.3 1244.5,1053.1 1245.8,1063.8 1247.1,1054.8 1248.4,1048.8 1249.7,1043.9 1251.0,1030.5 1252.3,1027.6 1253.6,1026.0 1254.9,1022.0 1256.2,1013.8 1257.5,1009.5 1258.8,1001.1 1260.1,1000.4 1261.4,1016.5 1262.7,1021.1 1264.0,1007.5 1265.3,1014.2 1266.6,1025.9 1267.9,1032.1 1269.2,1047.6 1270.5,1055.0 1271.8,1060.2 1273.1,1089.0 1274.4,1115.5 1275.7,1122.0 1277.0,1095.3 1278.3,1122.0 1296.5,1122.0 1297.8,1083.5 1299.1,1122.0 1312.1,1122.0 1313.4,1072.6 1314.7,1077.5 1316.0,1122.0 1329.0,1122.0 1330.3,1075.6 1331.6,1122.0 1338.1,1122.0 1339.4,1088.4 1340.7,1122.0 1348.5,1122.0 1349.8,1082.5 1351.1,1122.0 1356.3,1122.0 1357.6,1046.3 1358.9,1122.0 1368.0,1122.0 1369.3,1045.5 1370.6,1050.4 1371.9,1122.0 1379.7,1122.0 1381.0,1063.7 1382.3,1068.6 1383.6,1122.0 1386.2,1122.0 1387.5,1083.5 1388.8,1122.0 1400.5,1122.0 1401.8,1066.7 1403.1,1071.5 1404.4,1122.0 1433.0,1122.0 1434.3,1095.3 1435.6,1122.0 1460.3,1122.0 L1460.3,1127.7 L120.0,1127.7Z"/>
<mask id="m2" maskUnits="userSpaceOnUse" x="0" y="0" width="1977" height="1300"><rect x="0" y="0" width="1977" height="1300" fill="#fff"/><use href="#p2" fill="#000" clip-path="url(#c2)"/></mask>
<clipPath id="c3"><rect x="0" y="441.22" width="1977" height="607.00"/></clipPath>
<path id="p3" d="M158.9,1072.5 184.9,1072.5 186.2,1041.1 187.5,1072.5 207.0,1072.5 208.3,1035.4 209.6,1072.5 213.5,1072.5 214.8,1031.9 216.1,1072.5 217.4,1072.5 218.7,1010.8 220.0,1072.5 268.1,1072.5 269.4,1038.8 270.7,1072.5 275.9,1072.5 277.2,1010.8 278.5,1072.5 292.8,1072.5 294.1,1026.9 295.4,1072.5 299.2,1072.5 300.6,1005.5 301.9,1072.5 314.9,1072.5 316.2,1046.8 317.5,1072.5 333.1,1072.5 334.4,1029.6 335.7,1072.5 383.8,1072.5 385.1,1049.8 386.4,1030.2 387.7,1031.6 389.0,1018.4 390.2,1005.4 391.6,997.3 392.9,968.3 394.2,964.0 395.5,971.7 396.8,970.0 398.1,979.5 399.4,979.2 400.7,967.8 402.0,967.9 403.2,980.0 404.6,981.1 405.9,972.3 407.2,975.7 408.5,977.8 409.8,984.8 411.1,998.7 412.4,1010.5 413.7,1033.5 415.0,1051.3 416.3,1069.0 417.6,1072.5 425.4,1072.5 426.7,1029.6 428.0,1072.5 438.4,1072.5 439.7,1026.2 441.0,1072.5 446.2,1072.5 447.5,1023.9 448.8,1072.5 451.4,1072.5 452.7,1031.9 454.0,1072.5 500.8,1072.5 502.1,1048.9 503.4,1028.0 504.7,1010.5 506.0,996.1 507.3,980.6 508.6,971.5 509.9,961.0 511.2,956.0 512.5,954.0 513.8,952.0 515.0,956.7 516.4,956.3 517.7,960.1 519.0,960.1 520.2,958.7 521.5,959.5 522.9,965.1 524.2,968.1 525.5,964.8 526.8,971.0 528.0,991.5 529.4,1002.2 530.7,995.7 532.0,1012.1 533.2,1034.0 534.5,1057.0 535.9,1072.5 551.5,1072.5 552.8,1060.7 554.0,1031.3 555.4,1016.2 556.7,1008.2 558.0,993.0 559.2,991.4 560.5,976.2 561.9,962.1 563.2,946.9 564.5,922.9 565.8,908.7 567.0,898.4 568.4,886.0 569.7,881.1 571.0,878.2 572.2,874.9 573.5,871.6 574.9,868.3 576.2,865.0 577.5,861.6 578.8,858.3 580.0,855.0 581.4,851.7 582.7,848.4 584.0,845.0 585.2,841.7 586.5,838.4 587.9,835.0 589.2,831.7 590.5,828.3 591.8,824.9 593.0,821.5 594.4,818.0 595.7,814.5 597.0,810.9 598.2,807.1 599.5,803.2 600.9,799.1 602.2,794.7 603.5,789.9 604.8,784.5 606.0,778.2 607.4,770.9 608.7,762.0 610.0,751.0 611.2,736.9 612.5,719.7 613.9,703.1 615.2,687.6 616.5,673.2 617.8,660.1 619.0,648.0 620.4,637.2 621.7,627.5 623.0,619.0 624.2,611.6 625.5,605.4 626.9,600.3 628.2,596.5 629.5,593.7 630.8,592.2 632.0,591.8 633.4,592.5 634.7,594.4 636.0,597.5 637.2,601.8 638.5,607.2 639.9,613.7 641.2,621.5 642.5,630.4 643.8,640.4 645.0,651.6 646.4,664.0 647.7,677.5 649.0,692.2 650.2,708.0 651.5,724.9 652.9,742.9 654.2,762.0 655.5,781.9 656.8,797.8 658.1,798.5 659.4,799.0 660.7,799.1 662.0,798.7 663.2,799.0 664.6,799.1 665.9,797.9 667.2,795.2 668.5,790.8 669.8,784.6 671.1,776.8 672.4,767.3 673.7,756.6 675.0,744.7 676.2,731.9 677.6,724.3 678.9,721.6 680.2,718.8 681.5,715.9 682.8,713.0 684.1,710.0 685.4,707.0 686.7,704.0 688.0,700.9 689.2,697.8 690.6,694.6 691.9,691.5 693.2,688.3 694.5,685.0 695.8,681.8 697.1,678.5 698.4,675.3 699.7,672.0 701.0,668.6 702.2,665.3 703.6,661.9 704.9,658.4 706.2,654.8 707.5,651.1 708.8,647.2 710.1,643.0 711.4,638.6 712.7,633.7 714.0,628.2 715.2,621.8 716.6,614.2 717.9,605.1 719.2,593.6 720.5,579.1 721.8,561.7 723.1,545.2 724.4,529.9 725.7,515.7 727.0,502.7 728.2,490.9 729.6,480.2 730.9,470.7 732.2,462.4 733.5,455.2 734.8,449.1 736.1,444.3 737.4,440.6 738.7,438.0 740.0,436.6 741.2,436.4 742.6,437.4 743.9,439.5 745.2,442.7 746.5,447.1 747.8,452.7 749.1,459.5 750.4,467.4 751.7,476.4 753.0,486.7 754.2,498.1 755.6,510.6 756.9,524.3 758.2,539.2 759.5,555.2 760.8,572.4 762.1,590.8 763.4,610.3 764.7,630.9 766.0,644.8 767.2,646.4 768.6,648.0 769.9,649.5 771.2,651.1 772.5,654.6 773.8,658.6 775.1,662.6 776.4,666.6 777.7,670.5 779.0,674.3 780.2,677.9 781.6,681.3 782.9,684.4 784.2,687.1 785.5,689.3 786.8,690.6 788.1,691.0 789.4,692.6 790.7,694.7 792.0,696.6 793.2,698.2 794.6,699.6 795.9,700.8 797.2,701.7 798.5,702.3 799.8,702.7 801.1,702.8 802.4,702.7 803.7,702.2 805.0,701.6 806.2,700.7 807.6,699.6 808.9,698.2 810.2,698.2 811.5,697.5 812.8,696.2 814.1,694.4 815.4,692.3 816.7,689.7 818.0,686.8 819.2,683.6 820.6,680.1 821.9,676.3 823.2,672.0 824.5,667.1 825.8,661.6 827.1,655.1 828.4,647.3 829.7,637.7 831.0,625.7 832.2,610.3 833.6,593.0 834.9,576.8 836.2,561.7 837.5,547.8 838.8,535.1 840.1,523.5 841.4,513.1 842.7,503.9 844.0,495.8 845.2,488.9 846.6,483.1 847.9,478.5 849.2,475.1 850.5,472.8 851.8,471.7 853.1,471.7 854.4,472.9 855.7,475.3 857.0,478.8 858.2,483.5 859.6,489.4 860.9,496.4 862.2,504.6 863.5,513.9 864.8,524.4 866.1,536.1 867.4,548.9 868.7,562.8 870.0,578.0 871.2,594.3 872.6,611.7 873.9,630.4 875.2,650.1 876.5,671.1 877.8,680.4 879.1,681.9 880.4,683.5 881.7,685.0 883.0,686.5 884.2,690.6 885.6,694.6 886.9,698.5 888.2,702.4 889.5,706.1 890.8,709.7 892.1,713.0 893.4,715.9 894.7,718.4 896.0,720.2 897.2,721.1 898.6,721.0 899.9,719.5 901.2,721.1 902.5,722.4 903.8,723.5 905.1,724.3 906.4,724.9 907.7,725.2 909.0,725.2 910.2,725.0 911.6,724.5 912.9,723.7 914.2,722.8 915.5,721.6 916.8,720.2 918.1,718.6 919.4,716.8 920.7,715.1 922.0,714.0 923.2,712.3 924.6,710.3 925.9,707.9 927.2,705.2 928.5,702.3 929.8,699.1 931.1,695.6 932.4,691.9 933.7,687.8 935.0,683.3 936.2,678.2 937.6,672.5 938.9,665.7 940.2,657.5 941.5,647.4 942.8,634.7 944.1,618.4 945.4,601.3 946.7,585.3 948.0,570.6 949.2,556.9 950.6,544.5 951.9,533.2 953.2,523.0 954.5,514.1 955.8,506.2 957.1,499.6 958.4,494.1 959.7,489.8 961.0,486.6 962.2,484.6 963.6,483.7 964.9,484.1 966.2,485.5 967.5,488.2 968.8,492.0 970.1,496.9 971.4,503.0 972.7,510.3 974.0,518.8 975.2,528.4 976.6,539.1 977.9,551.0 979.2,564.1 980.5,578.4 981.8,593.8 983.1,610.4 984.4,628.1 985.7,647.0 987.0,667.0 988.2,688.2 989.6,692.9 990.9,694.5 992.2,696.0 993.5,697.6 994.8,699.7 996.1,703.7 997.4,707.8 998.7,711.8 1000.0,715.7 1001.2,719.5 1002.6,723.1 1003.9,726.6 1005.2,729.7 1006.5,732.5 1007.8,734.7 1009.1,736.2 1010.4,736.8 1011.7,736.9 1013.0,738.9 1014.2,740.6 1015.6,742.2 1016.9,743.5 1018.2,744.5 1019.5,745.3 1020.8,745.8 1022.1,746.1 1023.4,746.1 1024.7,745.8 1026.0,745.3 1027.2,744.5 1028.6,743.5 1029.8,742.3 1031.2,740.9 1032.5,739.9 1033.8,739.3 1035.1,738.0 1036.3,736.3 1037.7,734.1 1039.0,731.6 1040.2,728.8 1041.6,725.7 1042.8,722.3 1044.2,718.6 1045.5,714.5 1046.8,710.0 1048.1,704.8 1049.3,698.8 1050.7,691.8 1052.0,683.2 1053.2,672.6 1054.6,659.2 1055.8,642.2 1057.2,625.4 1058.5,609.7 1059.8,595.2 1061.1,581.9 1062.3,569.7 1063.7,558.7 1065.0,548.8 1066.2,540.1 1067.6,532.5 1068.8,526.1 1070.2,520.9 1071.5,516.9 1072.8,514.0 1074.1,512.2 1075.3,511.6 1076.7,512.2 1078.0,514.0 1079.2,516.9 1080.6,520.9 1081.8,526.1 1083.2,532.5 1084.5,540.1 1085.8,548.8 1087.1,558.7 1088.3,569.7 1089.7,581.9 1091.0,595.2 1092.2,609.8 1093.6,625.4 1094.8,642.3 1096.2,660.3 1097.5,679.4 1098.8,699.7 1100.1,719.6 1101.3,721.2 1102.7,722.7 1104.0,724.3 1105.2,725.8 1106.6,728.5 1107.8,732.5 1109.2,736.5 1110.5,740.4 1111.8,744.3 1113.1,748.0 1114.3,751.5 1115.7,754.7 1117.0,757.6 1118.2,759.9 1119.6,761.6 1120.8,762.3 1122.2,761.9 1123.5,762.0 1124.8,763.6 1126.1,765.0 1127.3,766.1 1128.7,766.9 1130.0,767.5 1131.2,767.9 1132.6,768.0 1133.8,767.8 1135.2,767.3 1136.5,766.6 1137.8,765.7 1139.1,764.6 1140.3,763.2 1141.7,761.6 1143.0,759.9 1144.2,758.8 1145.6,757.6 1146.8,755.9 1148.2,753.8 1149.5,751.3 1150.8,748.6 1152.1,745.6 1153.3,742.3 1154.7,738.7 1156.0,734.9 1157.2,730.6 1158.6,725.9 1159.8,720.6 1161.2,714.4 1162.5,707.0 1163.8,698.0 1165.1,686.8 1166.3,672.5 1167.7,655.3 1169.0,638.7 1170.2,623.3 1171.6,609.0 1172.8,596.0 1174.2,584.0 1175.5,573.3 1176.8,563.7 1178.1,555.2 1179.3,548.0 1180.7,541.8 1182.0,536.9 1183.2,533.1 1184.6,530.4 1185.8,529.0 1187.2,528.7 1188.5,529.5 1189.8,531.5 1191.1,534.7 1192.3,539.0 1193.7,544.5 1195.0,551.2 1196.2,559.0 1197.6,568.0 1198.8,578.1 1200.2,589.4 1201.5,601.9 1202.8,615.5 1204.1,630.3 1205.3,646.2 1206.7,663.3 1208.0,681.6 1209.2,701.0 1210.6,721.6 1211.8,737.0 1213.2,738.6 1214.5,741.0 1215.8,743.6 1217.1,745.6 1218.3,747.8 1219.7,749.5 1221.0,751.7 1222.2,755.2 1223.6,760.4 1224.8,766.7 1226.2,773.3 1227.5,779.2 1228.8,783.6 1230.1,786.5 1231.3,788.4 1232.7,790.1 1234.0,792.7 1235.2,796.9 1236.6,802.5 1237.8,809.1 1239.2,815.5 1240.5,820.9 1241.8,824.8 1243.1,827.1 1244.3,828.8 1245.7,830.8 1247.0,834.0 1248.2,838.7 1249.6,844.8 1250.8,851.5 1252.2,857.6 1253.5,862.4 1254.8,865.7 1256.1,874.3 1257.3,882.6 1258.7,893.0 1260.0,904.2 1261.2,921.9 1262.6,937.1 1263.8,951.8 1265.2,964.6 1266.5,961.9 1267.8,971.4 1269.1,983.2 1270.3,990.9 1271.7,1016.4 1273.0,1024.4 1274.2,1022.5 1275.6,1028.4 1276.8,1017.4 1278.2,1016.1 1279.5,1015.1 1280.8,1006.7 1282.1,1000.7 1283.3,990.6 1284.7,973.5 1286.0,966.5 1287.2,962.4 1288.6,958.2 1289.8,964.5 1291.2,959.7 1292.5,952.7 1293.8,946.9 1295.1,945.2 1296.3,941.8 1297.7,934.1 1299.0,935.5 1300.2,930.7 1301.6,935.4 1302.8,953.1 1304.2,957.8 1305.5,953.6 1306.8,958.5 1308.1,968.0 1309.3,976.7 1310.7,995.2 1312.0,1022.3 1313.2,1045.9 1314.6,1071.1 1315.8,1072.5 1339.2,1072.5 1340.6,1044.7 1341.8,1072.5 1366.6,1072.5 1367.8,1038.4 1369.2,1072.5 1387.3,1072.5 1388.7,1034.5 1390.0,1072.5 1413.3,1072.5 1414.7,1017.7 1416.0,1022.5 1417.2,1072.5 1426.3,1072.5 1427.7,1034.5 1429.0,1072.5 1432.8,1072.5 1434.2,1027.5 1435.5,1072.5 1471.8,1072.5 1473.2,1046.3 1474.5,1072.5 1499.2,1072.5 L1499.2,1078.2 L158.9,1078.2Z"/>
<mask id="m3" maskUnits="userSpaceOnUse" x="0" y="0" width="1977" height="1300"><rect x="0" y="0" width="1977" height="1300" fill="#fff"/><use href="#p3" fill="#000" clip-path="url(#c3)"/></mask>
<clipPath id="c4"><rect x="0" y="391.69" width="1977" height="607.00"/></clipPath>
<path id="p4" d="M197.7,1023.0 223.7,1023.0 225.0,959.3 226.3,1023.0 234.1,1023.0 235.4,991.5 236.7,1023.0 251.0,1023.0 252.3,980.0 253.6,984.8 254.9,1023.0 287.4,1023.0 288.7,978.8 290.0,1023.0 291.3,1023.0 292.6,977.7 293.9,1023.0 301.7,1023.0 303.0,997.7 304.3,1023.0 312.1,1023.0 313.4,972.4 314.7,1023.0 322.5,1023.0 323.8,958.2 325.1,1023.0 330.3,1023.0 331.6,967.4 332.9,1023.0 342.0,1023.0 343.3,993.8 344.6,1023.0 351.1,1023.0 352.4,984.6 353.7,1023.0 358.9,1023.0 360.2,993.1 361.5,1023.0 394.0,1023.0 395.3,973.1 396.6,1023.0 401.8,1023.0 403.1,973.1 404.4,1023.0 407.0,1023.0 408.3,983.4 409.6,1023.0 417.4,1023.0 418.7,974.2 420.0,1023.0 422.6,1023.0 423.9,1010.8 425.2,991.2 426.5,975.6 427.8,962.3 429.1,951.5 430.4,943.3 431.7,933.3 433.0,929.0 434.3,922.4 435.6,920.8 436.9,925.6 438.2,925.3 439.5,932.2 440.8,932.3 442.1,920.9 443.4,922.1 444.7,933.4 446.0,936.9 447.3,932.4 448.6,939.4 449.9,955.0 451.2,966.7 452.5,982.2 453.8,999.9 455.1,1023.0 457.7,1023.0 459.0,973.1 460.3,1023.0 539.6,1023.0 540.9,997.4 542.2,976.4 543.5,965.1 544.8,950.7 546.1,919.1 547.4,910.0 548.7,915.0 550.0,910.0 551.3,921.0 552.6,918.9 553.9,914.6 555.2,914.2 556.5,904.6 557.8,904.6 559.1,897.6 560.4,898.5 561.7,907.6 563.0,910.5 564.3,924.5 565.6,930.7 566.9,930.7 568.2,941.4 569.5,958.7 570.8,975.1 572.1,994.3 573.4,1017.3 574.7,1023.0 590.3,1023.0 591.6,1015.9 592.9,1001.9 594.2,986.7 595.5,960.8 596.8,945.6 598.1,943.7 599.4,928.5 600.7,905.2 602.0,890.0 603.3,885.2 604.6,868.7 605.9,854.5 607.2,841.4 608.5,836.3 609.8,832.7 611.1,829.1 612.4,825.7 613.7,822.4 615.0,819.1 616.3,815.8 617.6,812.4 618.9,809.1 620.2,805.8 621.5,802.5 622.8,799.2 624.1,795.8 625.4,792.5 626.7,789.1 628.0,785.8 629.3,782.4 630.6,779.0 631.9,775.6 633.2,772.1 634.5,768.6 635.8,765.0 637.1,761.2 638.4,757.4 639.7,753.2 641.0,748.8 642.3,744.0 643.6,738.6 644.9,732.4 646.2,725.0 647.5,716.1 648.8,705.1 650.1,691.1 651.4,673.8 652.7,657.2 654.0,641.7 655.3,627.3 656.6,614.2 657.9,602.2 659.2,591.3 660.5,581.6 661.8,573.1 663.1,565.7 664.4,559.5 665.7,554.5 667.0,550.6 668.3,547.8 669.6,546.3 670.9,545.9 672.2,546.6 673.5,548.6 674.8,551.6 676.1,555.9 677.4,561.3 678.7,567.9 680.0,575.6 681.3,584.5 682.6,594.5 683.9,605.7 685.2,618.1 686.5,631.6 687.8,646.3 689.1,662.1 690.4,679.0 691.7,697.0 693.0,716.0 694.3,735.9 695.6,751.7 696.9,752.4 698.2,752.8 699.5,752.8 700.8,752.3 702.1,752.4 703.4,752.3 704.7,750.8 706.0,747.8 707.3,743.1 708.6,736.6 709.9,728.4 711.2,718.7 712.5,707.7 713.8,695.7 715.1,682.7 716.4,675.1 717.7,672.3 719.0,669.5 720.3,666.6 721.6,663.7 722.9,660.7 724.2,657.6 725.5,654.6 726.8,651.5 728.1,648.3 729.4,645.2 730.7,642.0 732.0,638.8 733.3,635.6 734.6,632.3 735.9,629.1 737.2,625.8 738.5,622.5 739.8,619.1 741.1,615.8 742.4,612.4 743.7,608.9 745.0,605.3 746.3,601.5 747.6,597.6 748.9,593.5 750.2,589.1 751.5,584.2 752.8,578.6 754.1,572.3 755.4,564.7 756.7,555.5 758.0,544.1 759.3,529.5 760.6,512.2 761.9,495.7 763.2,480.4 764.5,466.2 765.8,453.2 767.1,441.4 768.4,430.7 769.7,421.2 771.0,412.8 772.3,405.6 773.6,399.6 774.9,394.8 776.2,391.0 777.5,388.5 778.8,387.1 780.1,386.9 781.4,387.8 782.7,389.9 784.0,393.2 785.3,397.6 786.6,403.2 787.9,409.9 789.2,417.8 790.5,426.9 791.8,437.1 793.1,448.5 794.4,461.1 795.7,474.8 797.0,489.7 798.3,505.7 799.6,522.9 800.9,541.2 802.2,560.8 803.5,581.4 804.8,595.3 806.1,596.9 807.4,598.4 808.7,600.0 810.0,601.5 811.3,605.0 812.6,609.1 813.9,613.1 815.2,617.1 816.5,621.0 817.8,624.8 819.1,628.4 820.4,631.8 821.7,634.9 823.0,637.6 824.3,639.7 825.6,641.1 826.9,641.4 828.2,643.1 829.5,645.2 830.8,647.1 832.1,648.7 833.4,650.1 834.7,651.3 836.0,652.2 837.3,652.8 838.6,653.2 839.9,653.3 841.2,653.1 842.5,652.7 843.8,652.1 845.1,651.2 846.4,650.0 847.7,648.7 849.0,648.7 850.3,648.0 851.6,646.7 852.9,644.9 854.2,642.7 855.5,640.2 856.8,637.3 858.1,634.1 859.4,630.6 860.7,626.7 862.0,622.4 863.3,617.6 864.6,612.1 865.9,605.6 867.2,597.8 868.5,588.2 869.8,576.2 871.1,560.8 872.4,543.4 873.7,527.2 875.0,512.2 876.3,498.3 877.6,485.6 878.9,474.0 880.2,463.6 881.5,454.4 882.8,446.3 884.1,439.4 885.4,433.6 886.7,429.0 888.0,425.6 889.3,423.3 890.6,422.2 891.9,422.2 893.2,423.4 894.5,425.8 895.8,429.3 897.1,434.0 898.4,439.9 899.7,446.9 901.0,455.0 902.3,464.4 903.6,474.9 904.9,486.5 906.2,499.3 907.5,513.3 908.8,528.5 910.1,544.8 911.4,562.2 912.7,580.8 914.0,600.6 915.3,621.5 916.6,630.9 917.9,632.4 919.2,634.0 920.5,635.5 921.8,637.0 923.1,641.1 924.4,645.1 925.7,649.0 927.0,652.9 928.3,656.6 929.6,660.1 930.9,663.4 932.2,666.4 933.5,668.8 934.8,670.7 936.1,671.6 937.4,671.5 938.7,670.0 940.0,671.6 941.3,672.9 942.6,674.0 943.9,674.8 945.2,675.3 946.5,675.6 947.8,675.7 949.1,675.4 950.4,674.9 951.7,674.2 953.0,673.2 954.3,672.0 955.6,670.6 956.9,669.0 958.2,667.3 959.5,665.6 960.8,664.4 962.1,662.8 963.4,660.8 964.7,658.4 966.0,655.7 967.3,652.7 968.6,649.5 969.9,646.1 971.2,642.3 972.5,638.3 973.8,633.8 975.1,628.7 976.4,622.9 977.7,616.1 979.0,607.9 980.3,597.8 981.6,585.1 982.9,568.8 984.2,551.7 985.5,535.8 986.8,521.0 988.1,507.4 989.4,495.0 990.7,483.7 992.0,473.5 993.3,464.5 994.6,456.7 995.9,450.1 997.2,444.6 998.5,440.2 999.8,437.1 1001.1,435.1 1002.4,434.2 1003.7,434.5 1005.0,436.0 1006.3,438.6 1007.6,442.4 1008.9,447.4 1010.2,453.5 1011.5,460.8 1012.8,469.2 1014.1,478.8 1015.4,489.6 1016.7,501.5 1018.0,514.6 1019.3,528.9 1020.6,544.3 1021.9,560.8 1023.2,578.6 1024.5,597.4 1025.8,617.5 1027.1,638.7 1028.4,643.4 1029.7,644.9 1031.0,646.5 1032.3,648.0 1033.6,650.2 1034.9,654.2 1036.2,658.3 1037.5,662.2 1038.8,666.1 1040.1,670.0 1041.4,673.6 1042.7,677.1 1044.0,680.3 1045.3,683.1 1046.6,685.4 1047.9,686.9 1049.2,687.5 1050.5,687.7 1051.8,689.7 1053.1,691.5 1054.4,693.1 1055.7,694.4 1057.0,695.5 1058.3,696.3 1059.6,696.9 1060.9,697.2 1062.2,697.2 1063.5,697.0 1064.8,696.5 1066.1,695.8 1067.4,694.9 1068.7,693.7 1070.0,692.3 1071.3,691.4 1072.6,690.8 1073.9,689.6 1075.2,687.9 1076.5,685.7 1077.8,683.3 1079.1,680.5 1080.4,677.4 1081.7,674.0 1083.0,670.3 1084.3,666.2 1085.6,661.6 1086.9,656.5 1088.2,650.5 1089.5,643.5 1090.8,634.9 1092.1,624.3 1093.4,610.8 1094.7,593.9 1096.0,577.1 1097.3,561.4 1098.6,546.9 1099.9,533.6 1101.2,521.4 1102.5,510.3 1103.8,500.5 1105.1,491.8 1106.4,484.2 1107.7,477.8 1109.0,472.6 1110.3,468.5 1111.6,465.6 1112.9,463.9 1114.2,463.3 1115.5,463.9 1116.8,465.6 1118.1,468.5 1119.4,472.6 1120.7,477.8 1122.0,484.2 1123.3,491.8 1124.6,500.5 1125.9,510.3 1127.2,521.4 1128.5,533.6 1129.8,546.9 1131.1,561.4 1132.4,577.1 1133.7,594.0 1135.0,611.9 1136.3,631.1 1137.6,651.4 1138.9,671.3 1140.2,672.9 1141.5,674.4 1142.8,676.0 1144.1,677.5 1145.4,680.2 1146.7,684.2 1148.0,688.2 1149.3,692.1 1150.6,695.9 1151.9,699.6 1153.2,703.1 1154.5,706.3 1155.8,709.2 1157.1,711.5 1158.4,713.1 1159.7,713.8 1161.0,713.3 1162.3,713.3 1163.6,714.8 1164.9,716.2 1166.2,717.3 1167.5,718.1 1168.8,718.6 1170.1,718.9 1171.4,719.0 1172.7,718.7 1174.0,718.3 1175.3,717.5 1176.6,716.6 1177.9,715.4 1179.2,714.0 1180.5,712.4 1181.8,710.6 1183.1,709.5 1184.4,708.2 1185.7,706.5 1187.0,704.3 1188.3,701.9 1189.6,699.1 1190.9,696.1 1192.2,692.8 1193.5,689.2 1194.8,685.4 1196.1,681.1 1197.4,676.4 1198.7,671.1 1200.0,664.8 1201.3,657.5 1202.6,648.5 1203.9,637.3 1205.2,623.0 1206.5,605.7 1207.8,589.2 1209.1,573.8 1210.4,559.5 1211.7,546.4 1213.0,534.5 1214.3,523.7 1215.6,514.1 1216.9,505.7 1218.2,498.4 1219.5,492.3 1220.8,487.3 1222.1,483.6 1223.4,480.9 1224.7,479.4 1226.0,479.1 1227.3,480.0 1228.6,482.0 1229.9,485.2 1231.2,489.5 1232.5,495.0 1233.8,501.6 1235.1,509.5 1236.4,518.4 1237.7,528.6 1239.0,539.9 1240.3,552.3 1241.6,566.0 1242.9,580.7 1244.2,596.7 1245.5,613.8 1246.8,632.1 1248.1,651.5 1249.4,672.1 1250.7,687.5 1252.0,689.2 1253.3,691.7 1254.6,693.5 1255.9,694.0 1257.2,695.2 1258.5,697.6 1259.8,701.8 1261.1,707.4 1262.4,714.0 1263.7,720.4 1265.0,725.8 1266.3,729.7 1267.6,732.1 1268.9,733.7 1270.2,735.7 1271.5,738.9 1272.8,743.6 1274.1,749.7 1275.4,756.3 1276.7,762.5 1278.0,767.3 1279.3,770.6 1280.6,772.6 1281.9,774.2 1283.2,776.6 1284.5,780.3 1285.8,785.7 1287.1,792.1 1288.4,798.6 1289.7,804.4 1291.0,808.6 1292.3,811.3 1293.6,813.0 1294.9,821.5 1296.2,831.9 1297.5,847.7 1298.8,865.0 1300.1,875.1 1301.4,889.5 1302.7,893.3 1304.0,904.0 1305.3,906.0 1306.6,914.4 1307.9,927.0 1309.2,936.2 1310.5,951.0 1311.8,960.9 1313.1,981.7 1314.4,986.9 1315.7,967.2 1317.0,963.8 1318.3,972.1 1319.6,963.2 1320.9,951.8 1322.2,943.6 1323.5,924.2 1324.8,918.8 1326.1,921.2 1327.4,915.8 1328.7,924.9 1330.0,918.1 1331.3,895.4 1332.6,889.7 1333.9,897.9 1335.2,896.7 1336.5,884.7 1337.8,887.2 1339.1,899.0 1340.4,902.3 1341.7,893.9 1343.0,896.7 1344.3,916.3 1345.6,921.8 1346.9,915.4 1348.2,926.3 1349.5,958.6 1350.8,986.3 1352.1,984.5 1353.4,1009.7 1354.7,1023.0 1379.4,1023.0 1380.7,983.7 1382.0,1023.0 1397.6,1023.0 1398.9,967.7 1400.2,1023.0 1428.8,1023.0 1430.1,987.2 1431.4,1023.0 1439.2,1023.0 1440.5,973.4 1441.8,1023.0 1449.6,1023.0 1450.9,972.2 1452.2,1023.0 1456.1,1023.0 1457.4,997.0 1458.7,1023.0 1462.6,1023.0 1463.9,972.2 1465.2,1023.0 1469.1,1023.0 1470.4,969.9 1471.7,1023.0 1482.1,1023.0 1483.4,988.3 1484.7,1023.0 1496.4,1023.0 1497.7,992.9 1499.0,1023.0 1502.9,1023.0 1504.2,989.5 1505.5,994.3 1506.8,1023.0 1510.7,1023.0 1512.0,997.0 1513.3,1023.0 1538.0,1023.0 L1538.0,1028.7 L197.7,1028.7Z"/>
<mask id="m4" maskUnits="userSpaceOnUse" x="0" y="0" width="1977" height="1300"><rect x="0" y="0" width="1977" height="1300" fill="#fff"/><use href="#p4" fill="#000" clip-path="url(#c4)"/></mask>
<clipPath id="c5"><rect x="0" y="342.16" width="1977" height="607.00"/></clipPath>
<path id="p5" d="M236.6,973.4 261.2,973.4 262.6,947.2 263.9,973.4 291.2,973.4 292.4,947.8 293.8,973.4 310.7,973.4 312.0,923.7 313.2,973.4 317.2,973.4 318.5,939.8 319.8,973.4 340.6,973.4 341.9,945.5 343.2,973.4 353.6,973.4 354.9,935.7 356.2,973.4 358.8,973.4 360.1,927.9 361.4,973.4 365.2,973.4 366.6,920.3 367.9,973.4 369.1,973.4 370.5,918.7 371.8,973.4 373.1,932.9 374.4,973.4 379.6,973.4 380.9,931.8 382.1,973.4 384.8,973.4 386.1,939.8 387.4,973.4 388.6,973.4 390.0,943.2 391.2,973.4 395.1,973.4 396.5,947.2 397.8,973.4 423.8,973.4 425.1,921.4 426.4,973.4 461.5,973.4 462.8,956.7 464.1,937.1 465.4,918.3 466.6,905.1 468.0,897.7 469.2,889.5 470.6,898.3 471.9,894.0 473.1,891.8 474.5,890.1 475.8,880.2 477.1,879.9 478.4,875.7 479.6,875.8 481.0,875.8 482.2,876.9 483.6,878.6 484.9,882.1 486.2,888.5 487.5,895.4 488.8,908.1 490.1,919.9 491.4,927.2 492.7,944.9 494.0,973.4 577.2,973.4 578.5,970.5 579.8,963.8 581.0,942.8 582.4,907.1 583.7,892.8 585.0,890.9 586.2,881.8 587.5,877.3 588.9,872.3 590.2,848.0 591.5,846.0 592.8,841.2 594.0,840.8 595.4,862.7 596.7,862.7 598.0,849.8 599.2,850.7 600.5,856.6 601.9,859.5 603.2,862.3 604.5,868.5 605.8,887.2 607.0,897.9 608.4,909.8 609.7,926.2 611.0,943.3 612.2,966.3 613.5,973.4 629.2,973.4 630.5,970.0 631.8,961.6 633.0,946.4 634.4,923.6 635.7,908.5 637.0,882.7 638.2,867.6 639.5,871.1 640.9,856.0 642.2,822.4 643.5,809.3 644.8,799.4 646.0,789.1 647.4,786.3 648.7,782.9 650.0,779.5 651.2,776.2 652.5,772.9 653.9,769.5 655.2,766.2 656.5,762.9 657.8,759.6 659.0,756.3 660.4,753.0 661.7,749.6 663.0,746.3 664.2,743.0 665.5,739.6 666.9,736.3 668.2,732.9 669.5,729.5 670.8,726.1 672.0,722.6 673.4,719.1 674.7,715.4 676.0,711.7 677.2,707.8 678.5,703.7 679.9,699.3 681.2,694.5 682.5,689.1 683.8,682.8 685.0,675.5 686.4,666.6 687.7,655.5 689.0,641.5 690.2,624.3 691.5,607.7 692.9,592.2 694.2,577.8 695.5,564.6 696.8,552.6 698.0,541.8 699.4,532.1 700.7,523.6 702.0,516.2 703.2,510.0 704.5,504.9 705.9,501.0 707.2,498.3 708.5,496.8 709.8,496.4 711.0,497.1 712.4,499.0 713.7,502.1 715.0,506.4 716.2,511.8 717.5,518.3 718.9,526.1 720.2,534.9 721.5,545.0 722.8,556.2 724.0,568.6 725.4,582.1 726.7,596.7 728.0,612.6 729.2,629.5 730.5,647.5 731.9,666.5 733.2,686.4 734.5,702.2 735.8,702.9 737.0,703.3 738.4,703.3 739.7,702.8 741.0,702.9 742.2,702.8 743.5,701.3 744.9,698.3 746.2,693.6 747.5,687.1 748.8,678.9 750.0,669.2 751.4,658.2 752.7,646.1 754.0,633.2 755.2,625.6 756.5,622.8 757.9,620.0 759.2,617.1 760.5,614.1 761.8,611.1 763.0,608.1 764.4,605.0 765.7,601.9 767.0,598.8 768.2,595.6 769.5,592.5 770.9,589.3 772.2,586.0 773.5,582.8 774.8,579.5 776.0,576.2 777.4,572.9 778.7,569.6 780.0,566.3 781.2,562.8 782.5,559.3 783.9,555.7 785.2,552.0 786.5,548.1 787.8,544.0 789.0,539.5 790.4,534.6 791.7,529.1 793.0,522.7 794.2,515.2 795.5,506.0 796.9,494.6 798.2,480.0 799.5,462.6 800.8,446.2 802.0,430.8 803.4,416.7 804.7,403.7 806.0,391.9 807.2,381.2 808.5,371.7 809.9,363.3 811.2,356.1 812.5,350.1 813.8,345.2 815.0,341.5 816.4,339.0 817.7,337.6 819.0,337.4 820.2,338.3 821.5,340.4 822.9,343.7 824.2,348.1 825.5,353.7 826.8,360.4 828.0,368.3 829.4,377.4 830.7,387.6 832.0,399.0 833.2,411.5 834.5,425.3 835.9,440.1 837.2,456.2 838.5,473.4 839.8,491.7 841.0,511.2 842.4,531.9 843.7,545.8 845.0,547.4 846.2,548.9 847.5,550.5 848.9,552.0 850.2,555.5 851.5,559.6 852.8,563.6 854.0,567.5 855.4,571.4 856.7,575.2 858.0,578.9 859.2,582.3 860.5,585.4 861.9,588.1 863.2,590.2 864.5,591.5 865.8,591.9 867.0,593.6 868.4,595.7 869.7,597.5 871.0,599.2 872.2,600.6 873.5,601.7 874.9,602.6 876.2,603.3 877.5,603.6 878.8,603.8 880.0,603.6 881.4,603.2 882.7,602.5 884.0,601.6 885.2,600.5 886.5,599.1 887.9,599.1 889.2,598.4 890.5,597.2 891.8,595.4 893.0,593.2 894.4,590.6 895.7,587.8 897.0,584.6 898.2,581.1 899.5,577.2 900.9,572.9 902.2,568.1 903.5,562.5 904.8,556.0 906.0,548.2 907.4,538.7 908.7,526.6 910.0,511.2 911.2,493.9 912.5,477.7 913.9,462.7 915.2,448.8 916.5,436.1 917.8,424.5 919.0,414.1 920.4,404.8 921.7,396.8 923.0,389.8 924.2,384.1 925.5,379.5 926.9,376.0 928.2,373.8 929.5,372.6 930.8,372.7 932.0,373.9 933.4,376.3 934.7,379.8 936.0,384.5 937.2,390.3 938.5,397.3 939.9,405.5 941.2,414.8 942.5,425.3 943.8,437.0 945.0,449.8 946.4,463.8 947.7,478.9 949.0,495.2 950.2,512.7 951.5,531.3 952.9,551.1 954.2,572.0 955.5,581.3 956.8,582.9 958.0,584.4 959.4,586.0 960.7,587.5 962.0,591.5 963.2,595.5 964.5,599.5 965.9,603.3 967.2,607.1 968.5,610.6 969.8,613.9 971.0,616.8 972.4,619.3 973.7,621.1 975.0,622.1 976.2,622.0 977.5,620.5 978.9,622.1 980.2,623.4 981.5,624.5 982.8,625.3 984.0,625.8 985.4,626.1 986.7,626.1 988.0,625.9 989.2,625.4 990.5,624.7 991.9,623.7 993.2,622.5 994.5,621.1 995.8,619.5 997.0,617.7 998.4,616.0 999.7,614.9 1001.0,613.3 1002.2,611.2 1003.5,608.8 1004.9,606.1 1006.2,603.2 1007.5,600.0 1008.8,596.5 1010.0,592.8 1011.4,588.7 1012.7,584.2 1014.0,579.2 1015.2,573.4 1016.5,566.6 1017.9,558.4 1019.2,548.3 1020.5,535.6 1021.8,519.3 1023.0,502.2 1024.4,486.3 1025.7,471.5 1027.0,457.9 1028.2,445.4 1029.5,434.1 1030.9,424.0 1032.2,415.0 1033.5,407.2 1034.8,400.5 1036.0,395.0 1037.4,390.7 1038.7,387.5 1040.0,385.5 1041.2,384.7 1042.5,385.0 1043.9,386.5 1045.2,389.1 1046.5,392.9 1047.8,397.9 1049.0,404.0 1050.4,411.3 1051.7,419.7 1053.0,429.3 1054.2,440.1 1055.5,452.0 1056.9,465.1 1058.2,479.3 1059.5,494.7 1060.8,511.3 1062.0,529.0 1063.4,547.9 1064.7,568.0 1066.0,589.2 1067.2,593.8 1068.5,595.4 1069.9,597.0 1071.2,598.5 1072.5,600.6 1073.8,604.7 1075.0,608.7 1076.4,612.7 1077.7,616.6 1079.0,620.4 1080.2,624.1 1081.5,627.5 1082.9,630.7 1084.2,633.5 1085.5,635.7 1086.8,637.2 1088.0,637.7 1089.4,637.8 1090.7,639.8 1092.0,641.6 1093.2,643.1 1094.5,644.4 1095.9,645.5 1097.2,646.2 1098.5,646.8 1099.8,647.0 1101.0,647.0 1102.4,646.8 1103.7,646.2 1105.0,645.5 1106.2,644.5 1107.5,643.3 1108.9,641.8 1110.2,640.9 1111.5,640.2 1112.8,639.0 1114.0,637.2 1115.4,635.1 1116.7,632.6 1118.0,629.8 1119.2,626.7 1120.5,623.3 1121.9,619.6 1123.2,615.5 1124.5,610.9 1125.8,605.7 1127.0,599.8 1128.4,592.7 1129.7,584.2 1131.0,573.5 1132.2,560.1 1133.5,543.2 1134.9,526.4 1136.2,510.7 1137.5,496.2 1138.8,482.8 1140.0,470.6 1141.4,459.6 1142.7,449.7 1144.0,441.0 1145.2,433.5 1146.5,427.1 1147.9,421.9 1149.2,417.8 1150.5,414.9 1151.8,413.2 1153.0,412.6 1154.4,413.2 1155.7,414.9 1157.0,417.8 1158.2,421.9 1159.5,427.1 1160.9,433.5 1162.2,441.0 1163.5,449.7 1164.8,459.6 1166.0,470.6 1167.4,482.8 1168.7,496.2 1170.0,510.7 1171.2,526.4 1172.5,543.2 1173.9,561.2 1175.2,580.4 1176.5,600.7 1177.8,620.6 1179.0,622.1 1180.4,623.7 1181.7,625.2 1183.0,626.8 1184.2,629.5 1185.5,633.5 1186.9,637.5 1188.2,641.4 1189.5,645.3 1190.8,649.0 1192.0,652.6 1193.4,655.9 1194.7,658.8 1196.0,661.2 1197.2,663.0 1198.5,664.0 1199.9,663.8 1201.2,664.1 1202.5,665.8 1203.8,667.3 1205.0,668.5 1206.4,669.5 1207.7,670.3 1209.0,670.7 1210.2,670.9 1211.5,670.9 1212.9,670.5 1214.2,670.0 1215.5,669.2 1216.8,668.1 1218.0,666.9 1219.4,665.4 1220.7,663.7 1222.0,662.8 1223.2,661.7 1224.5,660.1 1225.9,658.1 1227.2,655.7 1228.5,653.0 1229.8,650.0 1231.0,646.8 1232.4,643.2 1233.7,639.4 1235.0,635.2 1236.2,630.5 1237.5,625.1 1238.9,618.9 1240.2,611.6 1241.5,602.6 1242.8,591.4 1244.0,577.1 1245.4,559.8 1246.7,543.3 1248.0,527.9 1249.2,513.6 1250.5,500.5 1251.9,488.6 1253.2,477.9 1254.5,468.3 1255.8,459.8 1257.0,452.5 1258.4,446.4 1259.7,441.5 1261.0,437.7 1262.2,435.0 1263.5,433.6 1264.8,433.2 1266.2,434.1 1267.5,436.1 1268.8,439.3 1270.0,443.6 1271.3,449.1 1272.7,455.8 1274.0,463.6 1275.2,472.5 1276.5,482.7 1277.8,494.0 1279.2,506.4 1280.5,520.1 1281.8,534.9 1283.0,550.8 1284.3,567.9 1285.7,586.2 1287.0,605.6 1288.2,626.2 1289.5,641.6 1290.8,643.4 1292.2,645.2 1293.5,646.0 1294.8,645.9 1296.0,647.7 1297.3,652.1 1298.7,658.2 1300.0,664.9 1301.2,671.0 1302.5,675.9 1303.8,679.1 1305.2,681.1 1306.5,682.8 1307.8,685.1 1309.0,688.9 1310.3,694.2 1311.7,700.6 1313.0,707.2 1314.2,712.9 1315.5,717.1 1316.8,719.8 1318.2,721.6 1319.5,723.4 1320.8,726.2 1322.0,730.6 1323.3,736.4 1324.7,743.0 1326.0,749.4 1327.2,754.6 1328.5,758.2 1329.8,760.4 1331.2,762.1 1332.5,764.2 1333.8,774.2 1335.0,786.6 1336.3,797.1 1337.7,809.0 1339.0,825.3 1340.2,837.1 1341.5,839.4 1342.8,848.3 1344.2,863.6 1345.5,872.9 1346.8,881.9 1348.0,893.2 1349.3,911.1 1350.7,920.8 1352.0,921.6 1353.2,924.1 1354.5,928.0 1355.8,922.6 1357.2,927.3 1358.5,919.2 1359.8,890.6 1361.0,884.1 1362.3,880.2 1363.7,874.4 1365.0,868.7 1366.2,861.2 1367.5,854.4 1368.8,846.7 1370.2,844.2 1371.5,840.2 1372.8,852.6 1374.0,853.0 1375.3,846.9 1376.7,848.6 1378.0,849.9 1379.2,851.0 1380.5,856.2 1381.8,858.7 1383.2,840.5 1384.5,847.9 1385.8,878.1 1387.0,890.3 1388.3,898.5 1389.7,924.9 1391.0,945.8 1392.2,971.0 1393.5,973.4 1394.8,973.4 1396.2,790.2 1397.5,973.4 1398.8,973.4 1400.0,904.2 1401.3,973.4 1402.7,973.4 1404.0,935.2 1405.2,973.4 1426.0,973.4 1427.3,924.0 1428.7,973.4 1436.5,973.4 1437.8,940.1 1439.0,973.4 1443.0,973.4 1444.2,941.2 1445.5,973.4 1448.2,973.4 1449.5,940.1 1450.8,973.4 1467.7,973.4 1469.0,923.6 1470.2,928.4 1471.5,973.4 1474.2,973.4 1475.5,937.8 1476.8,973.4 1480.7,973.4 1482.0,941.2 1483.2,973.4 1492.3,973.4 1493.7,916.0 1495.0,920.9 1496.2,973.4 1514.5,973.4 1515.8,940.1 1517.0,973.4 1527.5,973.4 1528.8,921.7 1530.0,973.4 1531.3,973.4 1532.7,906.1 1534.0,973.4 1539.2,973.4 1540.5,947.4 1541.8,973.4 1544.3,973.4 1545.7,947.0 1547.0,973.4 1550.8,973.4 1552.2,947.4 1553.5,973.4 1576.8,973.4 L1576.8,979.2 L236.6,979.2Z"/>
<mask id="m5" maskUnits="userSpaceOnUse" x="0" y="0" width="1977" height="1300"><rect x="0" y="0" width="1977" height="1300" fill="#fff"/><use href="#p5" fill="#000" clip-path="url(#c5)"/></mask>
<clipPath id="c6"><rect x="0" y="292.64" width="1977" height="607.00"/></clipPath>
<path id="p6" d="M275.4,923.9 298.8,923.9 300.1,898.2 301.4,923.9 340.4,923.9 341.7,892.5 343.0,923.9 345.6,923.9 346.9,870.7 348.2,923.9 349.5,864.9 350.8,923.9 353.4,923.9 354.7,870.7 356.0,923.9 367.7,923.9 369.0,884.4 370.3,923.9 371.6,874.8 372.9,923.9 374.2,886.7 375.5,923.9 392.4,923.9 393.7,893.6 395.0,923.9 396.3,923.9 397.6,887.2 398.9,923.9 400.2,893.6 401.5,923.9 408.0,923.9 409.3,863.8 410.6,868.6 411.9,923.9 418.4,923.9 419.7,893.6 421.0,923.9 441.8,923.9 443.1,881.0 444.4,923.9 469.1,923.9 470.4,863.3 471.7,923.9 479.5,923.9 480.8,871.8 482.1,923.9 499.0,923.9 500.3,918.9 501.6,908.5 502.9,888.9 504.2,876.9 505.5,863.6 506.8,840.6 508.1,832.5 509.4,842.4 510.7,838.1 512.0,840.8 513.3,839.1 514.6,831.0 515.9,830.8 517.2,832.8 518.5,832.9 519.8,821.5 521.1,822.7 522.4,835.9 523.7,839.4 525.0,842.7 526.3,849.7 527.6,866.2 528.9,877.9 530.2,877.9 531.5,895.6 532.8,912.5 534.1,923.9 617.3,923.9 618.6,906.6 619.9,885.7 621.2,852.0 622.5,837.6 623.8,823.8 625.1,814.8 626.4,824.7 627.7,819.7 629.0,812.1 630.3,810.1 631.6,804.5 632.9,804.0 634.2,815.5 635.5,815.6 636.8,801.2 638.1,802.1 639.4,816.9 640.7,819.8 642.0,810.4 643.3,816.6 644.6,834.4 645.9,845.2 647.2,859.4 648.5,875.8 649.8,897.9 651.1,920.9 652.4,923.9 668.0,923.9 669.3,920.0 670.6,892.0 671.9,876.9 673.2,873.2 674.5,858.0 675.8,834.7 677.1,819.5 678.4,809.0 679.7,793.8 681.0,776.7 682.3,762.6 683.6,756.1 684.9,742.6 686.2,738.4 687.5,734.2 688.8,729.9 690.1,726.7 691.4,723.3 692.7,720.0 694.0,716.7 695.3,713.4 696.6,710.1 697.9,706.7 699.2,703.4 700.5,700.1 701.8,696.8 703.1,693.4 704.4,690.1 705.7,686.7 707.0,683.4 708.3,680.0 709.6,676.5 710.9,673.1 712.2,669.5 713.5,665.9 714.8,662.2 716.1,658.3 717.4,654.2 718.7,649.8 720.0,644.9 721.3,639.5 722.6,633.3 723.9,625.9 725.2,617.1 726.5,606.0 727.8,592.0 729.1,574.8 730.4,558.1 731.7,542.6 733.0,528.3 734.3,515.1 735.6,503.1 736.9,492.3 738.2,482.6 739.5,474.0 740.8,466.7 742.1,460.5 743.4,455.4 744.7,451.5 746.0,448.8 747.3,447.2 748.6,446.8 749.9,447.6 751.2,449.5 752.5,452.6 753.8,456.8 755.1,462.2 756.4,468.8 757.7,476.5 759.0,485.4 760.3,495.5 761.6,506.7 762.9,519.0 764.2,532.5 765.5,547.2 766.8,563.0 768.1,580.0 769.4,598.0 770.7,617.0 772.0,636.8 773.3,652.7 774.6,653.4 775.9,653.8 777.2,653.8 778.5,653.3 779.8,653.4 781.1,653.2 782.4,651.8 783.7,648.8 785.0,644.0 786.3,637.6 787.6,629.4 788.9,619.7 790.2,608.7 791.5,596.6 792.8,583.7 794.1,576.0 795.4,573.3 796.7,570.5 798.0,567.6 799.3,564.6 800.6,561.6 801.9,558.6 803.2,555.5 804.5,552.4 805.8,549.3 807.1,546.1 808.4,542.9 809.7,539.7 811.0,536.5 812.3,533.3 813.6,530.0 814.9,526.7 816.2,523.4 817.5,520.1 818.8,516.7 820.1,513.3 821.4,509.8 822.7,506.2 824.0,502.5 825.3,498.6 826.6,494.5 827.9,490.0 829.2,485.1 830.5,479.6 831.8,473.2 833.1,465.7 834.4,456.5 835.7,445.0 837.0,430.5 838.3,413.1 839.6,396.6 840.9,381.3 842.2,367.2 843.5,354.2 844.8,342.3 846.1,331.6 847.4,322.1 848.7,313.8 850.0,306.6 851.3,300.6 852.6,295.7 853.9,292.0 855.2,289.4 856.5,288.1 857.8,287.8 859.1,288.8 860.4,290.9 861.7,294.1 863.0,298.6 864.3,304.1 865.6,310.9 866.9,318.8 868.2,327.9 869.5,338.1 870.8,349.5 872.1,362.0 873.4,375.7 874.7,390.6 876.0,406.6 877.3,423.8 878.6,442.2 879.9,461.7 881.2,482.4 882.5,496.3 883.8,497.8 885.1,499.4 886.4,500.9 887.7,502.5 889.0,506.0 890.3,510.0 891.6,514.1 892.9,518.0 894.2,521.9 895.5,525.7 896.8,529.4 898.1,532.8 899.4,535.9 900.7,538.6 902.0,540.7 903.3,542.1 904.6,542.5 905.9,544.2 907.2,546.3 908.5,548.2 909.8,549.9 911.1,551.3 912.4,552.5 913.7,553.4 915.0,554.0 916.3,554.4 917.6,554.6 918.9,554.4 920.2,554.0 921.5,553.4 922.8,552.5 924.1,551.4 925.4,550.1 926.7,550.1 928.0,549.4 929.3,548.2 930.6,546.4 931.9,544.2 933.2,541.7 934.5,538.8 935.8,535.6 937.1,532.1 938.4,528.3 939.7,524.0 941.0,519.2 942.3,513.6 943.6,507.1 944.9,499.3 946.2,489.7 947.5,477.7 948.8,462.3 950.1,445.0 951.4,428.8 952.7,413.7 954.0,399.9 955.3,387.1 956.6,375.6 957.9,365.2 959.2,355.9 960.5,347.8 961.8,340.9 963.1,335.2 964.4,330.6 965.7,327.1 967.0,324.8 968.3,323.7 969.6,323.8 970.9,325.0 972.2,327.3 973.5,330.9 974.8,335.6 976.1,341.4 977.4,348.4 978.7,356.6 980.0,365.9 981.3,376.4 982.6,388.1 983.9,400.9 985.2,414.9 986.5,430.0 987.8,446.3 989.1,463.8 990.4,482.4 991.7,502.2 993.0,523.1 994.3,532.4 995.6,534.0 996.9,535.5 998.2,537.0 999.5,538.6 1000.8,542.6 1002.1,546.6 1003.4,550.5 1004.7,554.4 1006.0,558.1 1007.3,561.7 1008.6,564.9 1009.9,567.9 1011.2,570.3 1012.5,572.1 1013.8,573.1 1015.1,572.9 1016.4,571.4 1017.7,572.9 1019.0,574.2 1020.3,575.3 1021.6,576.1 1022.9,576.6 1024.2,576.9 1025.5,576.9 1026.8,576.6 1028.1,576.1 1029.4,575.4 1030.7,574.4 1032.0,573.2 1033.3,571.7 1034.6,570.1 1035.9,568.3 1037.2,566.6 1038.5,565.5 1039.8,563.8 1041.1,561.8 1042.4,559.3 1043.7,556.6 1045.0,553.7 1046.3,550.5 1047.6,547.0 1048.9,543.3 1050.2,539.2 1051.5,534.7 1052.8,529.7 1054.1,523.9 1055.4,517.1 1056.7,508.9 1058.0,498.8 1059.3,486.1 1060.6,469.8 1061.9,452.7 1063.2,436.8 1064.5,422.0 1065.8,408.4 1067.1,395.9 1068.4,384.6 1069.7,374.5 1071.0,365.5 1072.3,357.7 1073.6,351.0 1074.9,345.5 1076.2,341.2 1077.5,338.0 1078.8,336.0 1080.1,335.2 1081.4,335.5 1082.7,336.9 1084.0,339.6 1085.3,343.4 1086.6,348.3 1087.9,354.5 1089.2,361.7 1090.5,370.2 1091.8,379.8 1093.1,390.5 1094.4,402.5 1095.7,415.6 1097.0,429.8 1098.3,445.2 1099.6,461.8 1100.9,479.5 1102.2,498.4 1103.5,518.4 1104.8,539.6 1106.1,544.3 1107.4,545.9 1108.7,547.4 1110.0,549.0 1111.3,551.1 1112.6,555.2 1113.9,559.2 1115.2,563.2 1116.5,567.1 1117.8,570.9 1119.1,574.5 1120.4,578.0 1121.7,581.2 1123.0,583.9 1124.3,586.2 1125.6,587.6 1126.9,588.2 1128.2,588.3 1129.5,590.3 1130.8,592.1 1132.1,593.6 1133.4,594.9 1134.7,595.9 1136.0,596.7 1137.3,597.2 1138.6,597.5 1139.9,597.5 1141.2,597.2 1142.5,596.7 1143.8,595.9 1145.1,594.9 1146.4,593.7 1147.7,592.3 1149.0,591.3 1150.3,590.7 1151.6,589.4 1152.9,587.7 1154.2,585.6 1155.5,583.1 1156.8,580.2 1158.1,577.1 1159.4,573.7 1160.7,570.0 1162.0,565.9 1163.3,561.4 1164.6,556.2 1165.9,550.2 1167.2,543.2 1168.5,534.6 1169.8,524.0 1171.1,510.6 1172.4,493.7 1173.7,476.8 1175.0,461.2 1176.3,446.7 1177.6,433.3 1178.9,421.1 1180.2,410.1 1181.5,400.2 1182.8,391.5 1184.1,384.0 1185.4,377.6 1186.7,372.3 1188.0,368.3 1189.3,365.4 1190.6,363.6 1191.9,363.0 1193.2,363.6 1194.5,365.4 1195.8,368.3 1197.1,372.3 1198.4,377.6 1199.7,384.0 1201.0,391.5 1202.3,400.2 1203.6,410.1 1204.9,421.1 1206.2,433.3 1207.5,446.7 1208.8,461.2 1210.1,476.8 1211.4,493.7 1212.7,511.7 1214.0,530.8 1215.3,551.1 1216.6,571.0 1217.9,572.6 1219.2,574.2 1220.5,575.7 1221.8,577.3 1223.1,580.0 1224.4,584.0 1225.7,588.0 1227.0,592.0 1228.3,595.9 1229.6,599.7 1230.9,603.3 1232.2,606.7 1233.5,609.8 1234.8,612.4 1236.1,614.5 1237.4,615.8 1238.7,616.1 1240.0,616.7 1241.3,618.6 1242.6,620.4 1243.9,621.8 1245.2,623.1 1246.5,624.1 1247.8,624.8 1249.1,625.2 1250.4,625.4 1251.7,625.4 1253.0,625.1 1254.3,624.5 1255.6,623.7 1256.9,622.6 1258.2,621.3 1259.5,619.8 1260.8,619.2 1262.1,618.4 1263.4,617.0 1264.7,615.2 1266.0,612.9 1267.3,610.4 1268.6,607.5 1269.9,604.3 1271.2,600.8 1272.5,597.0 1273.8,592.9 1275.1,588.2 1276.4,582.8 1277.7,576.7 1279.0,569.3 1280.3,560.3 1281.6,549.1 1282.9,534.9 1284.2,517.6 1285.5,501.0 1286.8,485.6 1288.1,471.4 1289.4,458.3 1290.7,446.4 1292.0,435.6 1293.3,426.0 1294.6,417.6 1295.9,410.3 1297.2,404.2 1298.5,399.2 1299.8,395.4 1301.1,392.8 1302.4,391.3 1303.7,391.0 1305.0,391.8 1306.3,393.9 1307.6,397.0 1308.9,401.4 1310.2,406.9 1311.5,413.5 1312.8,421.3 1314.1,430.3 1315.4,440.4 1316.7,451.7 1318.0,464.2 1319.3,477.8 1320.6,492.6 1321.9,508.6 1323.2,525.7 1324.5,543.9 1325.8,563.4 1327.1,583.9 1328.4,599.4 1329.7,601.0 1331.0,602.1 1332.3,602.4 1333.6,603.0 1334.9,606.6 1336.2,612.8 1337.5,619.3 1338.8,625.1 1340.1,629.3 1341.4,632.0 1342.7,633.8 1344.0,635.6 1345.3,638.4 1346.6,642.8 1347.9,648.6 1349.2,655.2 1350.5,661.5 1351.8,666.7 1353.1,670.4 1354.4,672.6 1355.7,674.3 1357.0,676.4 1358.3,679.7 1359.6,684.7 1360.9,690.9 1362.2,697.5 1363.5,703.5 1364.8,708.2 1366.1,711.2 1367.4,713.1 1368.7,714.8 1370.0,717.3 1371.3,721.3 1372.6,732.7 1373.9,743.4 1375.2,759.7 1376.5,771.9 1377.8,784.6 1379.1,794.3 1380.4,810.4 1381.7,819.4 1383.0,821.2 1384.3,832.5 1385.6,843.8 1386.9,856.0 1388.2,869.1 1389.5,877.0 1390.8,866.4 1392.1,868.6 1393.4,881.0 1394.7,877.5 1396.0,863.1 1397.3,856.8 1398.6,855.0 1399.9,848.9 1401.2,840.6 1402.5,832.8 1403.8,826.2 1405.1,817.0 1406.4,812.7 1407.7,806.0 1409.0,806.2 1410.3,804.3 1411.6,782.9 1412.9,783.4 1414.2,789.2 1415.5,788.8 1416.8,779.3 1418.1,779.3 1419.4,790.0 1420.7,794.0 1422.0,817.6 1423.3,827.0 1424.6,823.9 1425.9,835.6 1427.2,847.5 1428.5,871.7 1429.8,896.6 1431.1,921.8 1432.4,923.9 1433.7,923.9 1435.0,887.0 1436.3,923.9 1438.9,923.9 1440.2,866.8 1441.5,871.7 1442.8,923.9 1464.9,923.9 1466.2,869.8 1467.5,923.9 1487.0,923.9 1488.3,879.0 1489.6,923.9 1501.3,923.9 1502.6,893.9 1503.9,923.9 1518.2,923.9 1519.5,882.4 1520.8,923.9 1524.7,923.9 1526.0,872.8 1527.3,923.9 1532.5,923.9 1533.8,858.3 1535.1,923.9 1540.3,923.9 1541.6,864.1 1542.9,923.9 1544.2,923.9 1545.5,887.0 1546.8,923.9 1567.6,923.9 1568.9,887.0 1570.2,891.9 1571.5,923.9 1579.3,923.9 1580.6,880.1 1581.9,923.9 1587.1,923.9 1588.4,889.3 1589.7,894.2 1591.0,923.9 1615.7,923.9 L1615.7,929.6 L275.4,929.6Z"/>
<mask id="m6" maskUnits="userSpaceOnUse" x="0" y="0" width="1977" height="1300"><rect x="0" y="0" width="1977" height="1300" fill="#fff"/><use href="#p6" fill="#000" clip-path="url(#c6)"/></mask>
<clipPath id="c7"><rect x="0" y="243.11" width="1977" height="607.00"/></clipPath>
<path id="p7" d="M314.2,874.4 338.9,874.4 340.2,835.1 341.6,874.4 359.8,874.4 361.1,848.8 362.4,874.4 388.4,874.4 389.6,823.6 390.9,874.4 418.2,874.4 419.6,835.1 420.9,874.4 433.9,874.4 435.1,816.7 436.4,874.4 439.1,874.4 440.4,823.6 441.6,874.4 446.9,874.4 448.1,844.2 449.5,874.4 452.1,874.4 453.4,833.9 454.6,874.4 462.5,874.4 463.8,816.7 465.1,821.6 466.4,874.4 470.2,874.4 471.6,836.2 472.9,874.4 475.5,874.4 476.8,845.4 478.1,874.4 539.1,874.4 540.5,852.8 541.8,833.3 543.0,830.2 544.4,816.9 545.6,788.9 547.0,780.8 548.2,781.4 549.5,777.1 550.9,773.6 552.1,771.9 553.5,794.0 554.8,793.7 556.0,784.6 557.4,784.7 558.6,779.7 560.0,780.8 561.2,781.4 562.5,784.9 563.9,784.5 565.1,791.5 566.5,806.4 567.8,818.2 569.0,838.3 570.4,856.1 571.7,873.1 573.0,874.4 656.2,874.4 657.5,848.8 658.8,827.9 660.0,799.1 661.4,784.8 662.7,787.9 664.0,778.9 665.2,778.5 666.5,773.6 667.9,753.7 669.2,751.6 670.5,760.1 671.8,759.7 673.0,759.9 674.4,759.9 675.7,759.4 677.0,760.3 678.2,752.9 679.5,755.8 680.9,771.7 682.2,777.9 683.5,781.9 684.8,792.6 686.0,801.4 687.4,817.8 688.7,842.8 690.0,865.8 691.2,874.4 705.5,874.4 706.9,874.2 708.2,859.1 709.5,855.1 710.8,840.0 712.0,822.5 713.4,807.4 714.7,788.4 716.0,773.2 717.2,747.8 718.5,732.7 719.9,726.1 721.2,712.5 722.5,704.5 723.8,692.8 725.0,687.4 726.4,684.4 727.7,681.3 729.0,678.3 730.2,675.0 731.5,671.7 732.9,668.4 734.2,665.1 735.5,661.8 736.8,658.4 738.0,655.1 739.4,651.8 740.7,648.5 742.0,645.1 743.2,641.8 744.5,638.4 745.9,635.0 747.2,631.6 748.5,628.2 749.8,624.7 751.0,621.2 752.4,617.6 753.7,613.9 755.0,610.0 756.2,605.9 757.5,601.5 758.9,596.6 760.2,591.2 761.5,585.0 762.8,577.6 764.0,568.7 765.4,557.7 766.7,543.7 768.0,526.5 769.2,509.8 770.5,494.3 771.9,480.0 773.2,466.8 774.5,454.8 775.8,443.9 777.0,434.2 778.4,425.7 779.7,418.3 781.0,412.1 782.2,407.1 783.5,403.2 784.9,400.5 786.2,398.9 787.5,398.5 788.8,399.3 790.0,401.2 791.4,404.3 792.7,408.5 794.0,413.9 795.2,420.5 796.5,428.2 797.9,437.1 799.2,447.1 800.5,458.4 801.8,470.7 803.0,484.2 804.4,498.9 805.7,514.7 807.0,531.6 808.2,549.6 809.5,568.7 810.9,588.5 812.2,604.3 813.5,605.0 814.8,605.4 816.0,605.3 817.4,604.8 818.7,604.8 820.0,604.6 821.2,603.1 822.5,599.9 823.9,595.1 825.2,588.5 826.5,580.2 827.8,570.5 829.1,559.4 830.4,547.2 831.6,534.3 833.0,526.6 834.2,523.8 835.6,521.0 836.9,518.1 838.1,515.1 839.5,512.1 840.8,509.1 842.1,506.0 843.4,502.9 844.6,499.8 846.0,496.6 847.2,493.4 848.6,490.2 849.9,487.0 851.1,483.8 852.5,480.5 853.8,477.2 855.1,473.9 856.4,470.6 857.6,467.2 859.0,463.8 860.2,460.3 861.6,456.7 862.9,453.0 864.1,449.1 865.5,444.9 866.8,440.5 868.1,435.6 869.4,430.0 870.6,423.7 872.0,416.1 873.2,406.9 874.6,395.5 875.9,381.0 877.1,363.6 878.5,347.1 879.8,331.8 881.1,317.6 882.4,304.6 883.6,292.8 885.0,282.1 886.2,272.6 887.6,264.3 888.9,257.1 890.1,251.0 891.5,246.2 892.8,242.5 894.1,239.9 895.4,238.5 896.6,238.3 898.0,239.2 899.2,241.3 900.6,244.6 901.9,249.0 903.1,254.6 904.5,261.4 905.8,269.3 907.1,278.3 908.4,288.6 909.6,299.9 911.0,312.5 912.2,326.2 913.6,341.1 914.9,357.1 916.1,374.3 917.5,392.7 918.8,412.2 920.1,432.8 921.4,446.7 922.6,448.3 924.0,449.9 925.2,451.4 926.6,452.9 927.9,456.4 929.1,460.5 930.5,464.5 931.8,468.5 933.1,472.4 934.4,476.2 935.6,479.8 937.0,483.2 938.2,486.3 939.6,489.0 940.9,491.1 942.1,492.5 943.5,492.9 944.8,494.5 946.1,496.6 947.4,498.5 948.6,500.1 950.0,501.5 951.2,502.7 952.6,503.6 953.9,504.2 955.1,504.6 956.5,504.7 957.8,504.5 959.1,504.1 960.4,503.5 961.6,502.6 963.0,501.4 964.2,500.1 965.6,500.1 966.9,499.4 968.1,498.1 969.5,496.3 970.8,494.1 972.1,491.6 973.4,488.7 974.6,485.5 976.0,482.0 977.2,478.2 978.6,473.9 979.9,469.0 981.1,463.5 982.5,457.0 983.8,449.2 985.1,439.6 986.4,427.6 987.6,412.2 989.0,394.9 990.2,378.7 991.6,363.6 992.9,349.7 994.1,337.0 995.5,325.4 996.8,315.0 998.1,305.8 999.4,297.7 1000.6,290.8 1002.0,285.0 1003.2,280.4 1004.6,277.0 1005.9,274.7 1007.1,273.6 1008.5,273.6 1009.8,274.8 1011.1,277.2 1012.4,280.7 1013.6,285.4 1015.0,291.3 1016.2,298.3 1017.6,306.5 1018.9,315.8 1020.1,326.3 1021.5,337.9 1022.8,350.8 1024.1,364.7 1025.3,379.9 1026.7,396.2 1028.0,413.6 1029.2,432.3 1030.6,452.0 1031.8,473.0 1033.2,482.3 1034.5,483.8 1035.8,485.4 1037.1,486.9 1038.3,488.4 1039.7,492.5 1041.0,496.5 1042.2,500.4 1043.6,504.2 1044.8,508.0 1046.2,511.5 1047.5,514.8 1048.8,517.7 1050.1,520.1 1051.3,521.9 1052.7,522.8 1054.0,522.6 1055.2,521.0 1056.6,522.6 1057.8,523.8 1059.2,524.9 1060.5,525.6 1061.8,526.2 1063.1,526.4 1064.3,526.4 1065.7,526.1 1067.0,525.6 1068.2,524.8 1069.6,523.8 1070.8,522.6 1072.2,521.1 1073.5,519.5 1074.8,517.7 1076.1,516.0 1077.3,514.8 1078.7,513.1 1080.0,511.1 1081.2,508.6 1082.6,505.9 1083.8,503.0 1085.2,499.8 1086.5,496.3 1087.8,492.6 1089.1,488.5 1090.3,484.0 1091.7,478.9 1093.0,473.1 1094.2,466.3 1095.6,458.1 1096.8,448.1 1098.2,435.3 1099.5,419.0 1100.8,402.0 1102.1,386.0 1103.3,371.2 1104.7,357.6 1106.0,345.2 1107.2,333.9 1108.6,323.7 1109.8,314.7 1111.2,306.9 1112.5,300.3 1113.8,294.8 1115.1,290.4 1116.3,287.3 1117.7,285.3 1119.0,284.4 1120.2,284.7 1121.6,286.2 1122.8,288.8 1124.2,292.6 1125.5,297.6 1126.8,303.7 1128.1,311.0 1129.3,319.4 1130.7,329.0 1132.0,339.8 1133.2,351.7 1134.6,364.8 1135.8,379.1 1137.2,394.5 1138.5,411.0 1139.8,428.8 1141.1,447.7 1142.3,467.7 1143.7,488.9 1145.0,493.6 1146.2,495.1 1147.6,496.7 1148.8,498.2 1150.2,500.4 1151.5,504.4 1152.8,508.5 1154.1,512.4 1155.3,516.4 1156.7,520.2 1158.0,523.8 1159.2,527.3 1160.6,530.5 1161.8,533.3 1163.2,535.6 1164.5,537.1 1165.8,537.7 1167.1,537.9 1168.3,539.9 1169.7,541.7 1171.0,543.3 1172.2,544.6 1173.6,545.7 1174.8,546.5 1176.2,547.1 1177.5,547.4 1178.8,547.4 1180.1,547.2 1181.3,546.7 1182.7,546.0 1184.0,545.1 1185.2,543.9 1186.6,542.5 1187.8,541.6 1189.2,541.0 1190.5,539.8 1191.8,538.1 1193.1,535.9 1194.3,533.5 1195.7,530.7 1197.0,527.6 1198.2,524.2 1199.6,520.5 1200.8,516.4 1202.2,511.8 1203.5,506.7 1204.8,500.7 1206.1,493.7 1207.3,485.1 1208.7,474.5 1210.0,461.0 1211.2,444.1 1212.6,427.3 1213.8,411.6 1215.2,397.1 1216.5,383.8 1217.8,371.6 1219.1,360.5 1220.3,350.7 1221.7,342.0 1223.0,334.4 1224.2,328.0 1225.6,322.8 1226.8,318.7 1228.2,315.8 1229.5,314.1 1230.8,313.5 1232.1,314.1 1233.3,315.8 1234.7,318.7 1236.0,322.8 1237.2,328.0 1238.6,334.4 1239.8,342.0 1241.2,350.7 1242.5,360.6 1243.8,371.6 1245.1,383.8 1246.3,397.1 1247.7,411.6 1249.0,427.3 1250.2,444.2 1251.6,462.2 1252.8,481.3 1254.2,501.6 1255.5,521.5 1256.8,523.1 1258.1,524.6 1259.3,526.2 1260.7,527.7 1262.0,530.4 1263.2,534.5 1264.6,538.5 1265.8,542.4 1267.2,546.3 1268.5,550.1 1269.8,553.7 1271.1,557.0 1272.3,560.1 1273.7,562.7 1275.0,564.7 1276.2,565.8 1277.6,566.0 1278.8,566.5 1280.2,568.3 1281.5,570.0 1282.8,571.4 1284.1,572.6 1285.3,573.5 1286.7,574.1 1288.0,574.5 1289.2,574.6 1290.6,574.4 1291.8,574.0 1293.2,573.4 1294.5,572.5 1295.8,571.3 1297.1,570.0 1298.3,568.5 1299.7,567.7 1301.0,566.8 1302.2,565.3 1303.6,563.4 1304.8,561.2 1306.2,558.5 1307.5,555.6 1308.8,552.4 1310.1,548.9 1311.3,545.1 1312.7,540.9 1314.0,536.2 1315.2,530.9 1316.6,524.7 1317.8,517.3 1319.2,508.4 1320.5,497.2 1321.8,482.9 1323.1,465.6 1324.3,449.1 1325.7,433.7 1327.0,419.4 1328.2,406.3 1329.6,394.4 1330.8,383.7 1332.2,374.1 1333.5,365.6 1334.8,358.3 1336.1,352.2 1337.3,347.3 1338.7,343.5 1340.0,340.8 1341.2,339.4 1342.5,339.0 1343.9,339.9 1345.2,341.9 1346.5,345.1 1347.8,349.4 1349.0,354.9 1350.4,361.6 1351.7,369.4 1353.0,378.3 1354.2,388.5 1355.5,399.8 1356.9,412.2 1358.2,425.9 1359.5,440.7 1360.8,456.6 1362.0,473.7 1363.4,492.0 1364.7,511.4 1366.0,532.0 1367.2,547.4 1368.5,548.9 1369.9,549.6 1371.2,550.4 1372.5,552.4 1373.8,557.6 1375.0,564.0 1376.4,569.2 1377.7,572.9 1379.0,575.1 1380.2,576.8 1381.5,578.8 1382.9,582.2 1384.2,587.1 1385.5,593.4 1386.8,600.0 1388.0,606.0 1389.4,610.6 1390.7,613.7 1392.0,615.6 1393.2,617.3 1394.5,619.8 1395.9,623.7 1397.2,629.3 1398.5,635.8 1399.8,642.3 1401.0,647.8 1402.4,651.8 1403.7,654.3 1405.0,656.0 1406.2,657.9 1407.5,660.9 1408.9,665.5 1410.2,671.5 1411.5,685.4 1412.8,700.5 1414.0,712.7 1415.4,724.1 1416.7,719.9 1418.0,728.7 1419.2,735.3 1420.5,746.0 1421.9,767.1 1423.2,780.2 1424.5,794.0 1425.8,805.7 1427.0,817.7 1428.4,824.0 1429.7,833.6 1431.0,836.7 1432.2,832.5 1433.5,829.9 1434.9,829.7 1436.2,825.4 1437.5,814.4 1438.8,807.5 1440.0,787.4 1441.4,777.7 1442.7,773.4 1444.0,764.5 1445.2,760.8 1446.5,756.3 1447.9,760.5 1449.2,759.5 1450.5,761.4 1451.8,760.2 1453.0,742.0 1454.4,739.9 1455.7,739.0 1457.0,739.6 1458.2,743.8 1459.5,750.0 1460.9,760.2 1462.2,769.9 1463.5,778.4 1464.8,788.1 1466.0,816.0 1467.4,839.1 1468.7,853.2 1470.0,874.4 1471.2,874.4 1472.5,841.1 1473.9,874.4 1479.0,874.4 1480.4,846.2 1481.7,874.4 1497.2,874.4 1498.5,847.5 1499.9,874.4 1510.2,874.4 1511.5,831.5 1512.9,874.4 1519.4,874.4 1520.7,848.0 1522.0,874.4 1528.5,874.4 1529.8,820.4 1531.0,874.4 1532.4,874.4 1533.7,814.7 1535.0,874.4 1538.9,874.4 1540.2,818.1 1541.5,874.4 1545.4,874.4 1546.7,810.1 1548.0,874.4 1549.2,874.4 1550.5,827.3 1551.9,874.4 1554.5,874.4 1555.8,831.9 1557.0,874.4 1558.4,874.4 1559.7,846.8 1561.0,874.4 1568.8,874.4 1570.0,847.5 1571.4,874.4 1575.2,874.4 1576.5,826.2 1577.9,874.4 1579.2,874.4 1580.5,802.1 1581.8,874.4 1583.0,841.1 1584.4,874.4 1609.0,874.4 1610.4,838.3 1611.7,843.2 1613.0,874.4 1623.4,874.4 1624.7,833.8 1626.0,874.4 1628.5,874.4 1629.9,847.5 1631.2,874.4 1654.5,874.4 L1654.5,880.1 L314.2,880.1Z"/>
<mask id="m7" maskUnits="userSpaceOnUse" x="0" y="0" width="1977" height="1300"><rect x="0" y="0" width="1977" height="1300" fill="#fff"/><use href="#p7" fill="#000" clip-path="url(#c7)"/></mask>
<clipPath id="c8"><rect x="0" y="193.58" width="1977" height="607.00"/></clipPath>
<path id="p8" d="M353.1,824.9 380.4,824.9 381.7,790.0 383.0,824.9 384.3,775.8 385.6,824.9 393.4,824.9 394.7,795.8 396.0,824.9 399.9,824.9 401.2,786.6 402.5,824.9 406.4,824.9 407.7,778.1 409.0,824.9 432.4,824.9 433.7,776.2 435.0,824.9 437.6,824.9 438.9,793.5 440.2,824.9 446.7,824.9 448.0,794.6 449.3,824.9 453.2,824.9 454.5,785.4 455.8,824.9 464.9,824.9 466.2,764.8 467.5,824.9 472.7,824.9 474.0,756.0 475.3,760.9 476.6,824.9 477.9,794.6 479.2,824.9 485.7,824.9 487.0,762.9 488.3,767.8 489.6,824.9 490.9,824.9 492.2,785.4 493.5,824.9 527.3,824.9 528.6,787.6 529.9,824.9 566.3,824.9 567.6,755.6 568.9,824.9 578.0,824.9 579.3,809.3 580.6,789.8 581.9,771.1 583.2,757.8 584.5,748.9 585.8,740.7 587.1,740.0 588.4,735.7 589.7,738.7 591.0,737.1 592.3,730.2 593.6,730.0 594.9,724.7 596.2,724.8 597.5,726.5 598.8,727.7 600.1,736.9 601.4,740.3 602.7,730.4 604.0,737.4 605.3,752.3 606.6,764.1 607.9,788.6 609.2,806.4 610.5,810.5 611.8,824.9 695.0,824.9 696.3,794.5 697.6,773.5 698.9,752.3 700.2,737.9 701.5,740.1 702.8,731.0 704.1,717.2 705.4,712.3 706.7,711.6 708.0,709.6 709.3,711.6 710.6,711.2 711.9,707.0 713.2,707.0 714.5,703.1 715.8,703.9 717.1,726.6 718.4,729.5 719.7,714.8 721.0,721.0 722.3,734.5 723.6,745.2 724.9,757.7 726.2,774.1 727.5,804.6 728.8,824.9 745.7,824.9 747.0,812.2 748.3,820.3 749.6,805.1 750.9,778.7 752.2,763.6 753.5,744.4 754.8,729.2 756.1,723.8 757.4,708.7 758.7,681.4 760.0,666.5 761.3,658.4 762.6,644.7 763.9,639.0 765.2,635.3 766.5,631.6 767.8,628.2 769.1,624.9 770.4,621.6 771.7,618.3 773.0,614.9 774.3,611.6 775.6,608.3 776.9,605.0 778.2,601.7 779.5,598.3 780.8,595.0 782.1,591.6 783.4,588.3 784.7,584.9 786.0,581.5 787.3,578.1 788.6,574.6 789.9,571.1 791.2,567.5 792.5,563.7 793.8,559.9 795.1,555.7 796.4,551.3 797.7,546.5 799.0,541.1 800.3,534.8 801.6,527.5 802.9,518.6 804.2,507.6 805.5,493.6 806.8,476.3 808.1,459.7 809.4,444.2 810.7,429.8 812.0,416.7 813.3,404.7 814.6,393.8 815.9,384.1 817.2,375.6 818.5,368.2 819.8,362.0 821.1,357.0 822.4,353.1 823.7,350.3 825.0,348.8 826.3,348.4 827.6,349.1 828.9,351.1 830.2,354.1 831.5,358.4 832.8,363.8 834.1,370.4 835.4,378.1 836.7,387.0 838.0,397.0 839.3,408.2 840.6,420.6 841.9,434.1 843.2,448.8 844.5,464.6 845.8,481.5 847.1,499.5 848.4,518.5 849.7,538.4 851.0,554.2 852.3,554.9 853.6,555.3 854.9,555.3 856.2,554.7 857.5,554.8 858.8,554.6 860.1,553.1 861.4,550.1 862.7,545.3 864.0,538.8 865.3,530.5 866.6,520.8 867.9,509.7 869.2,497.6 870.5,484.7 871.8,477.0 873.1,474.3 874.4,471.4 875.7,468.5 877.0,465.6 878.3,462.6 879.6,459.6 880.9,456.5 882.2,453.4 883.5,450.2 884.8,447.1 886.1,443.9 887.4,440.7 888.7,437.5 890.0,434.2 891.3,431.0 892.6,427.7 893.9,424.3 895.2,421.0 896.5,417.7 897.8,414.3 899.1,410.8 900.4,407.2 901.7,403.4 903.0,399.5 904.3,395.4 905.6,390.9 906.9,386.0 908.2,380.5 909.5,374.1 910.8,366.6 912.1,357.4 913.4,346.0 914.7,331.4 916.0,314.1 917.3,297.6 918.6,282.3 919.9,268.1 921.2,255.1 922.5,243.3 923.8,232.6 925.1,223.1 926.4,214.7 927.7,207.5 929.0,201.5 930.3,196.6 931.6,192.9 932.9,190.4 934.2,189.0 935.5,188.8 936.8,189.7 938.1,191.8 939.4,195.1 940.7,199.5 942.0,205.1 943.3,211.8 944.6,219.7 945.9,228.8 947.2,239.0 948.5,250.4 949.8,263.0 951.1,276.7 952.4,291.5 953.7,307.6 955.0,324.8 956.3,343.1 957.6,362.6 958.9,383.3 960.2,397.2 961.5,398.8 962.8,400.3 964.1,401.9 965.4,403.4 966.7,406.9 968.0,411.0 969.3,415.0 970.6,419.0 971.9,422.8 973.2,426.6 974.5,430.2 975.8,433.6 977.1,436.7 978.4,439.4 979.7,441.5 981.0,442.8 982.3,443.1 983.6,444.7 984.9,446.7 986.2,448.6 987.5,450.2 988.8,451.5 990.1,452.6 991.4,453.5 992.7,454.1 994.0,454.4 995.3,454.5 996.6,454.3 997.9,453.8 999.2,453.1 1000.5,452.2 1001.8,451.0 1003.1,449.7 1004.4,449.6 1005.7,448.8 1007.0,447.5 1008.3,445.7 1009.6,443.5 1010.9,440.9 1012.2,438.0 1013.5,434.8 1014.8,431.3 1016.1,427.4 1017.4,423.1 1018.7,418.3 1020.0,412.7 1021.3,406.2 1022.6,398.4 1023.9,388.9 1025.2,376.8 1026.5,361.5 1027.8,344.1 1029.1,327.9 1030.4,312.9 1031.7,299.0 1033.0,286.3 1034.3,274.7 1035.6,264.3 1036.9,255.0 1038.2,247.0 1039.5,240.0 1040.8,234.3 1042.1,229.7 1043.4,226.2 1044.7,224.0 1046.0,222.8 1047.3,222.9 1048.6,224.1 1049.9,226.5 1051.2,230.0 1052.5,234.7 1053.8,240.5 1055.1,247.5 1056.4,255.7 1057.7,265.0 1059.0,275.5 1060.3,287.2 1061.6,300.0 1062.9,314.0 1064.2,329.1 1065.5,345.4 1066.8,362.9 1068.1,381.5 1069.4,401.3 1070.7,422.2 1072.0,431.5 1073.3,433.1 1074.6,434.6 1075.9,436.2 1077.2,437.7 1078.5,441.7 1079.8,445.7 1081.1,449.7 1082.4,453.6 1083.7,457.3 1085.0,460.8 1086.3,464.2 1087.6,467.1 1088.9,469.6 1090.2,471.5 1091.5,472.5 1092.8,472.5 1094.1,471.1 1095.4,472.7 1096.7,474.1 1098.0,475.2 1099.3,476.0 1100.6,476.6 1101.9,477.0 1103.2,477.0 1104.5,476.8 1105.8,476.4 1107.1,475.7 1108.4,474.8 1109.7,473.6 1111.0,472.2 1112.3,470.7 1113.6,468.9 1114.9,467.3 1116.2,466.2 1117.5,464.6 1118.8,462.5 1120.1,460.2 1121.4,457.5 1122.7,454.6 1124.0,451.4 1125.3,447.9 1126.6,444.2 1127.9,440.1 1129.2,435.6 1130.5,430.6 1131.8,424.8 1133.1,418.0 1134.4,409.8 1135.7,399.7 1137.0,387.0 1138.3,370.7 1139.6,353.6 1140.9,337.7 1142.2,322.9 1143.5,309.3 1144.8,296.8 1146.1,285.5 1147.4,275.4 1148.7,266.4 1150.0,258.6 1151.3,252.0 1152.6,246.5 1153.9,242.1 1155.2,239.0 1156.5,237.0 1157.8,236.1 1159.1,236.4 1160.4,237.9 1161.7,240.5 1163.0,244.3 1164.3,249.3 1165.6,255.4 1166.9,262.7 1168.2,271.1 1169.5,280.7 1170.8,291.5 1172.1,303.4 1173.4,316.5 1174.7,330.7 1176.0,346.2 1177.3,362.7 1178.6,380.4 1179.9,399.3 1181.2,419.4 1182.5,440.6 1183.8,445.3 1185.1,446.8 1186.4,448.4 1187.7,449.9 1189.0,452.0 1190.3,456.1 1191.6,460.1 1192.9,464.1 1194.2,468.0 1195.5,471.8 1196.8,475.5 1198.1,478.9 1199.4,482.0 1200.7,484.8 1202.0,487.0 1203.3,488.4 1204.6,488.9 1205.9,488.9 1207.2,490.9 1208.5,492.6 1209.8,494.1 1211.1,495.4 1212.4,496.4 1213.7,497.1 1215.0,497.6 1216.3,497.8 1217.6,497.7 1218.9,497.4 1220.2,496.9 1221.5,496.1 1222.8,495.0 1224.1,493.8 1225.4,492.3 1226.7,491.3 1228.0,490.6 1229.3,489.3 1230.6,487.6 1231.9,485.4 1233.2,482.9 1234.5,480.0 1235.8,476.9 1237.1,473.5 1238.4,469.8 1239.7,465.7 1241.0,461.1 1242.3,456.0 1243.6,450.0 1244.9,442.9 1246.2,434.4 1247.5,423.8 1248.8,410.3 1250.1,393.4 1251.4,376.6 1252.7,360.9 1254.0,346.4 1255.3,333.0 1256.6,320.8 1257.9,309.8 1259.2,299.9 1260.5,291.2 1261.8,283.7 1263.1,277.3 1264.4,272.1 1265.7,268.0 1267.0,265.1 1268.3,263.4 1269.6,262.8 1270.9,263.4 1272.2,265.1 1273.5,268.0 1274.8,272.1 1276.1,277.3 1277.4,283.7 1278.7,291.2 1280.0,299.9 1281.3,309.8 1282.6,320.8 1283.9,333.0 1285.2,346.4 1286.5,360.9 1287.8,376.6 1289.1,393.4 1290.4,411.4 1291.7,430.6 1293.0,450.9 1294.3,470.8 1295.6,472.3 1296.9,473.9 1298.2,475.4 1299.5,477.0 1300.8,479.7 1302.1,483.7 1303.4,487.7 1304.7,491.6 1306.0,495.5 1307.3,499.2 1308.6,502.7 1309.9,506.0 1311.2,508.9 1312.5,511.3 1313.8,513.1 1315.1,514.0 1316.4,513.7 1317.7,513.9 1319.0,515.6 1320.3,517.0 1321.6,518.2 1322.9,519.2 1324.2,519.9 1325.5,520.3 1326.8,520.5 1328.1,520.4 1329.4,520.0 1330.7,519.4 1332.0,518.5 1333.3,517.5 1334.6,516.2 1335.9,514.7 1337.2,513.0 1338.5,512.0 1339.8,510.8 1341.1,509.2 1342.4,507.2 1343.7,504.7 1345.0,502.0 1346.3,499.1 1347.6,495.8 1348.9,492.3 1350.2,488.4 1351.5,484.2 1352.8,479.5 1354.1,474.1 1355.4,467.9 1356.7,460.5 1358.0,451.6 1359.3,440.4 1360.6,426.1 1361.9,408.8 1363.2,392.3 1364.5,376.9 1365.8,362.6 1367.1,349.5 1368.4,337.6 1369.7,326.9 1371.0,317.2 1372.3,308.8 1373.6,301.5 1374.9,295.4 1376.2,290.5 1377.5,286.7 1378.8,284.0 1380.1,282.5 1381.4,282.2 1382.7,283.1 1384.0,285.1 1385.3,288.3 1386.6,292.6 1387.9,298.1 1389.2,304.7 1390.5,312.6 1391.8,321.5 1393.1,331.7 1394.4,343.0 1395.7,355.4 1397.0,369.1 1398.3,383.8 1399.6,399.8 1400.9,416.9 1402.2,435.2 1403.5,454.6 1404.8,475.2 1406.1,490.6 1407.4,492.0 1408.7,492.9 1410.0,494.8 1411.3,497.9 1412.6,503.3 1413.9,508.3 1415.2,511.3 1416.5,513.2 1417.8,514.9 1419.1,517.4 1420.4,521.4 1421.7,526.9 1423.0,533.4 1424.3,539.9 1425.6,545.4 1426.9,549.4 1428.2,552.0 1429.5,553.7 1430.8,555.6 1432.1,558.6 1433.4,563.1 1434.7,569.1 1436.0,575.8 1437.3,582.0 1438.6,587.0 1439.9,590.4 1441.2,592.5 1442.5,594.2 1443.8,596.4 1445.1,600.0 1446.4,605.1 1447.7,611.5 1449.0,618.1 1450.3,630.6 1451.6,642.9 1452.9,658.0 1454.2,669.4 1455.5,675.4 1456.8,686.5 1458.1,691.2 1459.4,704.0 1460.7,730.6 1462.0,743.8 1463.3,732.6 1464.6,742.1 1465.9,760.9 1467.2,765.9 1468.5,761.6 1469.8,763.5 1471.1,764.1 1472.4,763.2 1473.7,764.8 1475.0,759.9 1476.3,760.4 1477.6,751.2 1478.9,737.7 1480.2,727.3 1481.5,710.9 1482.8,703.9 1484.1,706.4 1485.4,703.5 1486.7,694.9 1488.0,692.9 1489.3,679.5 1490.6,676.2 1491.9,690.9 1493.2,688.7 1494.5,692.2 1495.8,695.0 1497.1,690.6 1498.4,697.9 1499.7,700.8 1501.0,709.2 1502.3,727.4 1503.6,735.2 1504.9,748.6 1506.2,771.8 1507.5,799.6 1508.8,824.9 1515.3,824.9 1516.6,771.5 1517.9,824.9 1525.7,824.9 1527.0,761.6 1528.3,824.9 1536.1,824.9 1537.4,789.6 1538.7,824.9 1572.5,824.9 1573.8,770.8 1575.1,824.9 1577.7,824.9 1579.0,782.3 1580.3,824.9 1582.9,824.9 1584.2,783.4 1585.5,824.9 1592.0,824.9 1593.3,784.6 1594.6,824.9 1597.2,824.9 1598.5,785.7 1599.8,824.9 1603.7,824.9 1605.0,777.0 1606.3,824.9 1610.2,824.9 1611.5,777.7 1612.8,824.9 1634.9,824.9 1636.2,776.5 1637.5,824.9 1638.8,824.9 1640.1,790.3 1641.4,824.9 1662.2,824.9 1663.5,772.4 1664.8,824.9 1667.4,824.9 1668.7,798.4 1670.0,824.9 1693.4,824.9 L1693.4,830.6 L353.1,830.6Z"/>
<mask id="m8" maskUnits="userSpaceOnUse" x="0" y="0" width="1977" height="1300"><rect x="0" y="0" width="1977" height="1300" fill="#fff"/><use href="#p8" fill="#000" clip-path="url(#c8)"/></mask>
<clipPath id="c9"><rect x="0" y="144.05" width="1977" height="607.00"/></clipPath>
<path id="p9" d="M392.0,775.3 416.7,775.3 418.0,749.2 419.3,775.3 423.2,775.3 424.5,743.0 425.8,736.8 427.1,775.3 437.5,775.3 438.8,732.6 440.1,775.3 455.7,775.3 457.0,748.2 458.3,775.3 484.3,775.3 485.6,734.5 486.9,775.3 489.5,775.3 490.8,740.7 492.1,775.3 505.1,775.3 506.4,728.0 507.7,775.3 529.8,775.3 531.1,727.6 532.4,732.4 533.7,775.3 571.4,775.3 572.7,711.1 574.0,721.1 575.2,775.3 616.9,775.3 618.2,756.4 619.5,736.8 620.8,718.3 622.1,705.0 623.4,698.6 624.7,690.4 626.0,690.5 627.2,686.2 628.6,681.4 629.9,679.8 631.2,676.5 632.5,676.3 633.8,676.9 635.1,677.0 636.4,685.1 637.7,686.2 639.0,681.3 640.2,684.7 641.6,686.8 642.9,693.8 644.2,713.0 645.5,724.7 646.8,741.5 648.1,759.2 649.4,765.9 650.7,775.3 732.6,775.3 733.9,775.2 735.2,749.6 736.5,728.7 737.8,713.6 739.1,699.2 740.4,696.0 741.7,686.9 743.0,674.4 744.2,669.4 745.6,662.2 746.9,660.1 748.2,658.6 749.5,658.2 750.8,660.8 752.1,660.9 753.4,657.9 754.7,658.7 756.0,664.0 757.2,666.9 758.6,666.8 759.9,673.0 761.2,687.3 762.5,698.0 763.8,711.1 765.1,727.5 766.4,731.9 767.7,754.9 769.0,775.3 784.6,775.3 785.9,763.5 787.2,755.0 788.5,739.9 789.8,729.1 791.1,713.9 792.4,681.6 793.7,666.5 795.0,670.5 796.2,655.3 797.6,637.6 798.9,621.4 800.2,606.5 801.5,594.3 802.8,586.9 804.1,584.5 805.4,582.7 806.7,579.3 808.0,576.0 809.2,572.7 810.6,569.3 811.9,566.0 813.2,562.7 814.5,559.4 815.8,556.1 817.1,552.7 818.4,549.4 819.7,546.1 821.0,542.7 822.2,539.4 823.6,536.0 824.9,532.6 826.2,529.2 827.5,525.7 828.8,522.2 830.1,518.6 831.4,514.8 832.7,510.9 834.0,506.8 835.2,502.4 836.6,497.6 837.9,492.2 839.2,485.9 840.5,478.6 841.8,469.7 843.1,458.6 844.4,444.6 845.7,427.4 847.0,410.8 848.2,395.3 849.6,380.9 850.9,367.8 852.2,355.7 853.5,344.9 854.8,335.2 856.1,326.7 857.4,319.3 858.7,313.1 860.0,308.0 861.2,304.1 862.6,301.4 863.9,299.9 865.2,299.5 866.5,300.2 867.8,302.1 869.1,305.2 870.4,309.5 871.7,314.9 873.0,321.4 874.2,329.2 875.6,338.0 876.9,348.1 878.2,359.3 879.5,371.7 880.8,385.2 882.1,399.8 883.4,415.7 884.7,432.6 886.0,450.6 887.2,469.6 888.6,489.4 889.9,505.2 891.2,505.9 892.5,506.3 893.8,506.3 895.1,505.7 896.4,505.8 897.7,505.6 899.0,504.0 900.2,500.9 901.6,496.1 902.9,489.5 904.2,481.2 905.5,471.4 906.8,460.3 908.1,448.2 909.4,435.2 910.7,427.6 912.0,424.8 913.3,421.9 914.6,419.0 915.9,416.1 917.2,413.1 918.5,410.0 919.8,407.0 921.1,403.9 922.4,400.7 923.7,397.6 925.0,394.4 926.3,391.2 927.6,387.9 928.9,384.7 930.2,381.4 931.5,378.1 932.8,374.8 934.1,371.5 935.4,368.2 936.7,364.7 938.0,361.2 939.3,357.6 940.6,353.9 941.9,350.0 943.2,345.9 944.5,341.4 945.8,336.5 947.1,331.0 948.4,324.6 949.7,317.1 951.0,307.9 952.3,296.5 953.6,281.9 954.9,264.5 956.2,248.1 957.5,232.7 958.8,218.6 960.1,205.6 961.4,193.7 962.7,183.1 964.0,173.6 965.3,165.2 966.6,158.0 967.9,152.0 969.2,147.1 970.5,143.4 971.8,140.9 973.1,139.5 974.4,139.3 975.7,140.2 977.0,142.3 978.3,145.6 979.6,150.0 980.9,155.6 982.2,162.3 983.5,170.2 984.8,179.3 986.1,189.5 987.4,200.9 988.7,213.4 990.0,227.1 991.3,242.0 992.6,258.1 993.9,275.2 995.2,293.6 996.5,313.1 997.8,333.8 999.1,347.7 1000.4,349.2 1001.7,350.8 1003.0,352.4 1004.3,353.9 1005.6,357.4 1006.9,361.4 1008.2,365.5 1009.5,369.4 1010.8,373.3 1012.1,377.1 1013.4,380.7 1014.7,384.1 1016.0,387.2 1017.3,389.9 1018.6,391.9 1019.9,393.2 1021.2,393.5 1022.5,395.1 1023.8,397.2 1025.1,399.0 1026.3,400.6 1027.7,402.0 1029.0,403.1 1030.2,404.0 1031.6,404.6 1032.8,404.9 1034.2,405.0 1035.5,404.8 1036.8,404.3 1038.1,403.6 1039.3,402.7 1040.7,401.5 1042.0,400.1 1043.2,400.1 1044.6,399.3 1045.8,398.0 1047.2,396.2 1048.5,394.0 1049.8,391.4 1051.1,388.5 1052.3,385.3 1053.7,381.8 1055.0,377.9 1056.2,373.6 1057.6,368.8 1058.8,363.2 1060.2,356.7 1061.5,348.9 1062.8,339.3 1064.1,327.3 1065.3,311.9 1066.7,294.6 1068.0,278.4 1069.2,263.3 1070.6,249.5 1071.8,236.7 1073.2,225.2 1074.5,214.8 1075.8,205.5 1077.1,197.4 1078.3,190.5 1079.7,184.7 1081.0,180.1 1082.2,176.7 1083.6,174.4 1084.8,173.3 1086.2,173.4 1087.5,174.6 1088.8,176.9 1090.1,180.5 1091.3,185.1 1092.7,191.0 1094.0,198.0 1095.2,206.2 1096.6,215.5 1097.8,226.0 1099.2,237.7 1100.5,250.5 1101.8,264.5 1103.1,279.6 1104.3,295.9 1105.7,313.4 1107.0,332.0 1108.2,351.8 1109.6,372.7 1110.8,382.0 1112.2,383.6 1113.5,385.1 1114.8,386.6 1116.1,388.2 1117.3,392.2 1118.7,396.2 1120.0,400.1 1121.2,404.0 1122.6,407.7 1123.8,411.3 1125.2,414.6 1126.5,417.5 1127.8,420.0 1129.1,421.8 1130.3,422.8 1131.7,422.6 1133.0,421.2 1134.2,422.7 1135.6,424.1 1136.8,425.1 1138.2,425.9 1139.5,426.5 1140.8,426.8 1142.1,426.8 1143.3,426.6 1144.7,426.1 1146.0,425.4 1147.2,424.4 1148.6,423.2 1149.8,421.8 1151.2,420.2 1152.5,418.4 1153.8,416.7 1155.1,415.6 1156.3,414.0 1157.7,411.9 1159.0,409.5 1160.2,406.8 1161.6,403.9 1162.8,400.7 1164.2,397.2 1165.5,393.5 1166.8,389.4 1168.1,384.9 1169.3,379.9 1170.7,374.1 1172.0,367.3 1173.2,359.1 1174.6,349.0 1175.8,336.3 1177.2,320.0 1178.5,302.9 1179.8,287.0 1181.1,272.2 1182.3,258.6 1183.7,246.1 1185.0,234.8 1186.2,224.7 1187.6,215.7 1188.8,207.9 1190.2,201.2 1191.5,195.7 1192.8,191.4 1194.1,188.2 1195.3,186.2 1196.7,185.4 1198.0,185.7 1199.2,187.1 1200.6,189.8 1201.8,193.6 1203.2,198.5 1204.5,204.7 1205.8,211.9 1207.1,220.4 1208.3,230.0 1209.7,240.7 1211.0,252.7 1212.2,265.8 1213.6,280.0 1214.8,295.4 1216.2,312.0 1217.5,329.7 1218.8,348.6 1220.1,368.6 1221.3,389.8 1222.7,394.5 1224.0,396.1 1225.2,397.6 1226.6,399.2 1227.8,401.3 1229.2,405.4 1230.5,409.4 1231.8,413.4 1233.1,417.3 1234.3,421.1 1235.7,424.8 1237.0,428.3 1238.2,431.4 1239.6,434.2 1240.8,436.5 1242.2,438.0 1243.5,438.6 1244.8,438.8 1246.1,440.9 1247.3,442.7 1248.7,444.2 1250.0,445.6 1251.2,446.7 1252.6,447.5 1253.8,448.1 1255.2,448.4 1256.5,448.4 1257.8,448.2 1259.1,447.7 1260.3,447.0 1261.7,446.0 1263.0,444.8 1264.2,443.4 1265.6,442.5 1266.8,441.9 1268.2,440.7 1269.5,439.0 1270.8,436.9 1272.1,434.4 1273.3,431.6 1274.7,428.5 1276.0,425.1 1277.2,421.4 1278.6,417.3 1279.8,412.8 1281.2,407.6 1282.5,401.7 1283.8,394.6 1285.1,386.0 1286.3,375.4 1287.7,362.0 1289.0,345.1 1290.2,328.2 1291.6,312.6 1292.8,298.1 1294.2,284.7 1295.5,272.5 1296.8,261.5 1298.1,251.6 1299.3,242.9 1300.7,235.4 1302.0,229.0 1303.2,223.8 1304.6,219.7 1305.8,216.8 1307.2,215.0 1308.5,214.5 1309.8,215.0 1311.1,216.8 1312.3,219.7 1313.7,223.8 1315.0,229.0 1316.2,235.4 1317.6,242.9 1318.8,251.6 1320.2,261.5 1321.5,272.5 1322.8,284.7 1324.1,298.1 1325.3,312.6 1326.7,328.3 1328.0,345.1 1329.2,363.1 1330.6,382.3 1331.8,402.6 1333.2,422.5 1334.5,424.0 1335.8,425.6 1337.1,427.1 1338.3,428.7 1339.7,431.4 1341.0,435.4 1342.2,439.4 1343.6,443.4 1344.8,447.3 1346.2,451.1 1347.5,454.7 1348.8,458.0 1350.1,461.1 1351.3,463.7 1352.7,465.8 1354.0,467.0 1355.2,467.2 1356.6,467.8 1357.8,469.7 1359.2,471.4 1360.5,472.8 1361.8,474.0 1363.1,474.9 1364.3,475.6 1365.7,476.0 1367.0,476.2 1368.2,476.1 1369.6,475.7 1370.8,475.1 1372.2,474.2 1373.5,473.2 1374.8,471.9 1376.1,470.3 1377.3,469.6 1378.7,468.8 1380.0,467.4 1381.2,465.5 1382.6,463.2 1383.8,460.6 1385.2,457.7 1386.5,454.5 1387.8,451.1 1389.1,447.3 1390.4,443.1 1391.7,438.4 1393.0,433.1 1394.2,426.9 1395.6,419.5 1396.9,410.5 1398.2,399.3 1399.5,385.1 1400.8,367.8 1402.1,351.2 1403.4,335.8 1404.7,321.6 1406.0,308.5 1407.2,296.6 1408.6,285.8 1409.9,276.2 1411.2,267.8 1412.5,260.5 1413.8,254.4 1415.1,249.4 1416.4,245.6 1417.7,243.0 1419.0,241.5 1420.2,241.2 1421.6,242.1 1422.9,244.1 1424.2,247.2 1425.5,251.6 1426.8,257.1 1428.1,263.7 1429.4,271.5 1430.7,280.5 1432.0,290.6 1433.2,301.9 1434.6,314.4 1435.9,328.0 1437.2,342.8 1438.5,358.8 1439.8,375.9 1441.1,394.1 1442.4,413.6 1443.7,434.1 1445.0,449.6 1446.2,451.0 1447.6,452.7 1448.9,455.4 1450.2,458.5 1451.5,462.6 1452.8,465.4 1454.1,467.1 1455.4,469.0 1456.7,472.0 1458.0,476.5 1459.2,482.5 1460.6,489.1 1461.9,495.4 1463.2,500.4 1464.5,503.8 1465.8,505.9 1467.1,507.6 1468.4,509.8 1469.7,513.4 1471.0,518.5 1472.2,524.9 1473.6,531.5 1474.9,537.3 1476.2,541.7 1477.5,544.6 1478.8,546.4 1480.1,548.2 1481.4,550.8 1482.7,555.0 1484.0,560.7 1485.2,567.3 1486.6,573.7 1487.9,579.1 1489.2,588.5 1490.5,596.9 1491.8,611.2 1493.1,621.6 1494.4,621.3 1495.7,633.0 1497.0,653.1 1498.2,666.8 1499.6,679.7 1500.9,691.1 1502.2,696.6 1503.5,704.2 1504.8,704.9 1506.1,710.2 1507.4,732.4 1508.7,734.4 1510.0,727.5 1511.2,725.9 1512.6,722.1 1513.9,714.6 1515.2,710.0 1516.5,699.0 1517.8,691.1 1519.1,681.8 1520.4,657.5 1521.7,652.4 1523.0,657.4 1524.2,654.3 1525.6,643.4 1526.9,639.3 1528.2,635.5 1529.5,631.2 1530.8,625.1 1532.1,624.5 1533.4,637.7 1534.7,642.2 1536.0,644.9 1537.2,651.6 1538.6,657.2 1539.9,663.4 1541.2,677.7 1542.5,685.1 1543.8,697.8 1545.1,723.0 1546.4,749.0 1547.7,774.3 1549.0,775.3 1558.1,775.3 1559.4,741.0 1560.7,775.3 1572.4,775.3 1573.7,714.6 1575.0,775.3 1577.6,775.3 1578.9,739.3 1580.2,775.3 1588.0,775.3 1589.2,738.7 1590.6,775.3 1611.4,775.3 1612.7,726.5 1614.0,775.3 1624.4,775.3 1625.7,741.6 1627.0,775.3 1636.1,775.3 1637.4,748.5 1638.7,775.3 1642.6,775.3 1643.9,711.8 1645.2,775.3 1646.5,775.3 1647.8,723.7 1649.1,775.3 1653.0,775.3 1654.2,735.2 1655.6,775.3 1660.8,775.3 1662.1,732.5 1663.4,775.3 1690.7,775.3 1692.0,725.6 1693.2,775.3 1706.2,775.3 1707.6,749.0 1708.9,775.3 1732.2,775.3 L1732.2,781.1 L392.0,781.1Z"/>
<mask id="m9" maskUnits="userSpaceOnUse" x="0" y="0" width="1977" height="1300"><rect x="0" y="0" width="1977" height="1300" fill="#fff"/><use href="#p9" fill="#000" clip-path="url(#c9)"/></mask>
<clipPath id="c10"><rect x="0" y="94.53" width="1977" height="607.00"/></clipPath>
<path id="p10" d="M430.8,725.8 456.8,725.8 458.1,699.7 459.4,725.8 465.9,725.8 467.2,680.7 468.5,725.8 482.8,725.8 484.1,694.5 485.4,725.8 486.7,725.8 488.0,663.9 489.3,725.8 533.5,725.8 534.8,695.6 536.1,725.8 551.7,725.8 553.0,666.9 554.3,725.8 559.5,725.8 560.8,672.7 562.1,725.8 564.7,725.8 566.0,691.0 567.3,725.8 572.5,725.8 573.8,700.2 575.1,725.8 655.7,725.8 657.0,703.3 658.3,683.8 659.6,662.1 660.9,648.8 662.2,642.8 663.5,634.7 664.8,638.7 666.1,634.4 667.4,634.0 668.7,632.3 670.0,633.4 671.3,633.1 672.6,619.8 673.9,619.9 675.2,626.8 676.5,627.9 677.8,639.3 679.1,642.7 680.4,639.5 681.7,646.5 683.0,662.5 684.3,674.3 685.6,673.0 686.9,690.8 688.2,720.4 689.5,725.8 771.4,725.8 772.7,722.2 774.0,708.8 775.3,687.8 776.6,662.1 777.9,647.8 779.2,639.7 780.5,630.7 781.8,624.6 783.1,619.7 784.4,606.2 785.7,604.2 787.0,601.4 788.3,601.0 789.6,616.3 790.9,616.4 792.2,606.5 793.5,607.4 794.8,620.1 796.1,623.0 797.4,612.0 798.7,618.2 800.0,648.6 801.3,659.4 802.6,646.0 803.9,662.4 805.2,694.0 806.5,717.0 807.8,725.8 823.4,725.8 824.7,717.5 826.0,711.8 827.3,696.6 828.6,688.3 829.9,673.2 831.2,647.9 832.5,632.7 833.8,617.4 835.1,602.2 836.4,575.5 837.7,561.5 839.0,545.7 840.3,537.0 841.6,534.7 842.9,531.5 844.2,528.2 845.5,524.9 846.8,521.6 848.1,518.3 849.4,515.0 850.7,511.6 852.0,508.3 853.3,505.0 854.6,501.7 855.9,498.3 857.2,495.0 858.5,491.7 859.8,488.3 861.1,485.0 862.4,481.6 863.7,478.2 865.0,474.8 866.3,471.3 867.6,467.8 868.9,464.2 870.2,460.4 871.5,456.5 872.8,452.4 874.1,448.0 875.4,443.2 876.7,437.8 878.0,431.5 879.3,424.2 880.6,415.3 881.9,404.3 883.2,390.3 884.5,373.0 885.8,356.4 887.1,340.9 888.4,326.5 889.7,313.4 891.0,301.4 892.3,290.5 893.6,280.8 894.9,272.3 896.2,264.9 897.5,258.7 898.8,253.7 900.1,249.8 901.4,247.0 902.7,245.5 904.0,245.1 905.3,245.8 906.6,247.8 907.9,250.8 909.2,255.1 910.5,260.5 911.8,267.0 913.1,274.8 914.4,283.7 915.7,293.7 917.0,304.9 918.3,317.3 919.6,330.8 920.9,345.5 922.2,361.3 923.5,378.2 924.8,396.3 926.1,415.3 927.4,435.3 928.7,451.2 930.0,452.1 931.3,452.6 932.6,452.8 933.9,452.5 935.2,453.0 936.5,453.3 937.8,452.4 939.1,450.1 940.4,446.0 941.7,440.2 943.0,432.7 944.3,423.6 945.6,413.1 946.9,401.4 948.2,388.8 949.5,381.3 950.8,378.6 952.1,375.9 953.4,373.0 954.7,370.1 956.0,367.2 957.3,364.2 958.6,361.2 959.9,358.1 961.2,355.0 962.5,351.8 963.8,348.7 965.1,345.5 966.4,342.3 967.7,339.1 969.0,335.8 970.3,332.5 971.6,329.2 972.9,325.9 974.2,322.6 975.5,319.2 976.8,315.7 978.1,312.1 979.4,308.4 980.7,304.5 982.0,300.4 983.3,295.9 984.6,291.0 985.9,285.5 987.2,279.1 988.5,271.5 989.8,262.4 991.1,250.9 992.4,236.4 993.7,219.0 995.0,202.5 996.3,187.2 997.6,173.1 998.9,160.1 1000.2,148.2 1001.5,137.5 1002.8,128.0 1004.1,119.7 1005.4,112.5 1006.7,106.5 1008.0,101.6 1009.3,97.9 1010.6,96.0 1011.9,96.0 1013.2,96.0 1014.5,96.0 1015.8,96.8 1017.1,100.0 1018.4,104.5 1019.7,110.0 1021.0,116.8 1022.3,124.7 1023.6,133.8 1024.9,144.0 1026.2,155.4 1027.5,167.9 1028.8,181.6 1030.1,196.5 1031.4,212.5 1032.7,229.7 1034.0,248.1 1035.3,267.6 1036.6,288.3 1037.9,302.2 1039.2,303.7 1040.5,305.3 1041.8,306.8 1043.1,308.4 1044.4,311.8 1045.7,315.9 1047.0,319.9 1048.3,323.9 1049.6,327.7 1050.9,331.5 1052.2,335.1 1053.5,338.4 1054.8,341.4 1056.1,344.0 1057.4,345.9 1058.7,347.0 1060.0,347.1 1061.3,348.5 1062.6,350.5 1063.9,352.2 1065.2,353.7 1066.5,354.9 1067.8,355.9 1069.1,356.6 1070.4,357.0 1071.7,357.2 1073.0,357.1 1074.3,356.8 1075.6,356.2 1076.9,355.4 1078.2,354.3 1079.5,353.1 1080.8,351.6 1082.1,351.3 1083.4,350.4 1084.7,348.9 1086.0,347.0 1087.3,344.7 1088.6,342.1 1089.9,339.1 1091.2,335.9 1092.5,332.4 1093.8,328.5 1095.1,324.1 1096.4,319.3 1097.7,313.7 1099.0,307.2 1100.3,299.4 1101.6,289.8 1102.9,277.8 1104.2,262.4 1105.5,245.1 1106.8,228.9 1108.1,213.8 1109.4,199.9 1110.7,187.2 1112.0,175.6 1113.3,165.2 1114.6,156.0 1115.9,147.9 1117.2,141.0 1118.5,135.2 1119.8,130.6 1121.1,127.2 1122.4,124.9 1123.7,123.8 1125.0,123.8 1126.3,125.0 1127.6,127.4 1128.9,130.9 1130.2,135.6 1131.5,141.5 1132.8,148.5 1134.1,156.7 1135.4,166.0 1136.7,176.5 1138.0,188.1 1139.3,201.0 1140.6,214.9 1141.9,230.1 1143.2,246.4 1144.5,263.8 1145.8,282.5 1147.1,302.2 1148.4,323.2 1149.7,332.5 1151.0,334.0 1152.3,335.6 1153.6,337.1 1154.9,338.7 1156.2,342.7 1157.5,346.7 1158.8,350.7 1160.1,354.6 1161.4,358.3 1162.7,361.9 1164.0,365.3 1165.3,368.3 1166.6,370.9 1167.9,372.9 1169.2,374.1 1170.5,374.3 1171.8,373.2 1173.1,374.9 1174.4,376.4 1175.7,377.6 1177.0,378.6 1178.3,379.3 1179.6,379.8 1180.9,380.0 1182.2,379.9 1183.5,379.6 1184.8,379.0 1186.1,378.2 1187.4,377.2 1188.7,375.9 1190.0,374.4 1191.3,372.7 1192.6,371.2 1193.9,370.2 1195.2,368.8 1196.5,366.8 1197.8,364.5 1199.1,361.9 1200.4,359.0 1201.7,355.9 1203.0,352.4 1204.3,348.7 1205.6,344.7 1206.9,340.2 1208.2,335.2 1209.5,329.4 1210.8,322.6 1212.1,314.4 1213.4,304.3 1214.7,291.6 1216.0,275.3 1217.3,258.2 1218.6,242.3 1219.9,227.5 1221.2,213.9 1222.5,201.4 1223.8,190.1 1225.1,180.0 1226.4,171.0 1227.7,163.2 1229.0,156.5 1230.3,151.1 1231.6,146.7 1232.9,143.5 1234.2,141.5 1235.5,140.7 1236.8,141.0 1238.1,142.5 1239.4,145.1 1240.7,148.9 1242.0,153.9 1243.3,160.0 1244.6,167.3 1245.9,175.7 1247.2,185.3 1248.5,196.1 1249.8,208.0 1251.1,221.1 1252.4,235.3 1253.7,250.7 1255.0,267.3 1256.3,285.0 1257.6,303.9 1258.9,324.0 1260.2,345.2 1261.5,349.9 1262.8,351.4 1264.1,353.0 1265.4,354.5 1266.7,356.6 1268.0,360.7 1269.3,364.7 1270.6,368.7 1271.9,372.6 1273.2,376.4 1274.5,380.0 1275.8,383.5 1277.1,386.6 1278.4,389.4 1279.7,391.5 1281.0,393.0 1282.3,393.5 1283.6,393.5 1284.9,395.4 1286.2,397.2 1287.5,398.7 1288.8,399.9 1290.1,400.9 1291.4,401.7 1292.7,402.2 1294.0,402.4 1295.3,402.3 1296.6,402.0 1297.9,401.5 1299.2,400.7 1300.5,399.6 1301.8,398.4 1303.1,396.9 1304.4,395.9 1305.7,395.2 1307.0,393.9 1308.3,392.2 1309.6,390.0 1310.9,387.5 1312.2,384.6 1313.5,381.5 1314.8,378.1 1316.1,374.4 1317.4,370.3 1318.7,365.7 1320.0,360.5 1321.3,354.6 1322.6,347.5 1323.9,339.0 1325.2,328.3 1326.5,314.9 1327.8,298.0 1329.1,281.1 1330.4,265.5 1331.7,251.0 1333.0,237.6 1334.3,225.4 1335.6,214.4 1336.9,204.5 1338.2,195.8 1339.5,188.3 1340.8,181.9 1342.1,176.7 1343.4,172.6 1344.7,169.7 1346.0,167.9 1347.3,167.4 1348.6,167.9 1349.9,169.7 1351.2,172.6 1352.5,176.7 1353.8,181.9 1355.1,188.3 1356.4,195.8 1357.7,204.5 1359.0,214.4 1360.3,225.4 1361.6,237.6 1362.9,251.0 1364.2,265.5 1365.5,281.2 1366.8,298.0 1368.1,316.0 1369.4,335.2 1370.7,355.5 1372.0,375.4 1373.3,376.9 1374.6,378.5 1375.9,380.0 1377.2,381.6 1378.5,384.3 1379.8,388.4 1381.1,392.4 1382.4,396.4 1383.7,400.3 1385.0,404.1 1386.3,407.8 1387.6,411.2 1388.9,414.4 1390.2,417.2 1391.5,419.4 1392.8,420.9 1394.1,421.5 1395.4,422.3 1396.7,424.4 1398.0,426.3 1399.3,427.9 1400.6,429.3 1401.9,430.5 1403.2,431.4 1404.5,432.0 1405.8,432.4 1407.1,432.5 1408.4,432.3 1409.7,431.9 1411.0,431.2 1412.3,430.3 1413.6,429.2 1414.9,427.8 1416.2,427.4 1417.5,426.8 1418.8,425.6 1420.1,423.9 1421.4,421.7 1422.7,419.3 1424.0,416.4 1425.3,413.3 1426.6,409.9 1427.9,406.1 1429.2,402.0 1430.5,397.3 1431.8,392.0 1433.1,385.8 1434.4,378.4 1435.7,369.5 1437.0,358.3 1438.3,344.0 1439.6,326.8 1440.9,310.2 1442.2,294.8 1443.5,280.6 1444.8,267.5 1446.1,255.6 1447.4,244.8 1448.7,235.2 1450.0,226.7 1451.3,219.5 1452.6,213.4 1453.9,208.4 1455.2,204.6 1456.5,202.0 1457.8,200.5 1459.1,200.2 1460.4,201.0 1461.7,203.0 1463.0,206.2 1464.3,210.5 1465.6,216.0 1466.9,222.7 1468.2,230.5 1469.5,239.5 1470.8,249.6 1472.1,260.9 1473.4,273.4 1474.7,287.0 1476.0,301.8 1477.3,317.7 1478.6,334.8 1479.9,353.1 1481.2,372.5 1482.5,393.1 1483.8,408.5 1485.1,410.2 1486.4,412.5 1487.7,415.2 1489.0,417.1 1490.3,419.3 1491.6,421.0 1492.9,423.2 1494.2,426.8 1495.5,431.9 1496.8,438.3 1498.1,444.9 1499.4,450.7 1500.7,455.1 1502.0,458.0 1503.3,459.8 1504.6,461.6 1505.9,464.2 1507.2,468.4 1508.5,474.1 1509.8,480.7 1511.1,487.1 1512.4,492.5 1513.7,496.2 1515.0,498.6 1516.3,500.3 1517.6,502.3 1518.9,505.5 1520.2,510.3 1521.5,516.4 1522.8,523.0 1524.1,529.2 1525.4,533.9 1526.7,537.1 1528.0,545.7 1529.3,554.5 1530.6,572.0 1531.9,585.7 1533.2,594.3 1534.5,607.9 1535.8,617.9 1537.1,630.7 1538.4,634.6 1539.7,644.1 1541.0,656.2 1542.3,664.1 1543.6,666.9 1544.9,679.0 1546.2,680.2 1547.5,684.6 1548.8,698.3 1550.1,697.2 1551.4,684.2 1552.7,678.7 1554.0,691.2 1555.3,680.4 1556.6,669.0 1557.9,662.3 1559.2,656.9 1560.5,652.8 1561.8,650.0 1563.1,645.2 1564.4,622.3 1565.7,616.5 1567.0,625.2 1568.3,621.8 1569.6,614.0 1570.9,615.5 1572.2,617.5 1573.5,622.2 1574.8,635.2 1576.1,639.9 1577.4,645.1 1578.7,650.0 1580.0,657.1 1581.3,665.9 1582.6,675.3 1583.9,700.5 1585.2,725.8 1593.0,725.8 1594.3,695.6 1595.6,725.8 1616.4,725.8 1617.7,700.2 1619.0,725.8 1637.2,725.8 1638.5,680.0 1639.8,725.8 1655.4,725.8 1656.7,677.2 1658.0,725.8 1661.9,725.8 1663.2,686.4 1664.5,725.8 1678.8,725.8 1680.1,696.8 1681.4,725.8 1685.3,725.8 1686.6,678.4 1687.9,725.8 1690.5,725.8 1691.8,669.2 1693.1,725.8 1697.0,725.8 1698.3,663.0 1699.6,725.8 1710.0,725.8 1711.3,676.1 1712.6,681.0 1713.9,725.8 1745.1,725.8 1746.4,700.2 1747.7,725.8 1771.1,725.8 L1771.1,731.5 L430.8,731.5Z"/>
<mask id="m10" maskUnits="userSpaceOnUse" x="0" y="0" width="1977" height="1300"><rect x="0" y="0" width="1977" height="1300" fill="#fff"/><use href="#p10" fill="#000" clip-path="url(#c10)"/></mask>
<clipPath id="c11"><rect x="0" y="45.00" width="1977" height="607.00"/></clipPath>
<path id="p11" d="M469.7,676.3 494.4,676.3 495.7,650.2 497.0,676.3 508.7,676.3 510.0,639.4 511.3,644.2 512.6,676.3 538.6,676.3 539.9,643.3 541.2,676.3 554.2,676.3 555.5,650.2 556.8,676.3 563.2,676.3 564.6,629.5 565.9,676.3 575.0,676.3 576.2,645.1 577.6,676.3 582.8,676.3 584.1,621.7 585.4,676.3 598.4,676.3 599.7,648.5 601.0,676.3 603.6,676.3 604.9,610.7 606.2,676.3 611.4,676.3 612.7,615.7 614.0,676.3 694.6,676.3 695.9,662.2 697.2,642.6 698.5,634.0 699.8,620.7 701.1,605.8 702.4,597.6 703.7,594.3 705.0,590.0 706.2,582.7 707.6,581.1 708.9,579.6 710.2,579.3 711.5,577.4 712.8,577.5 714.1,579.8 715.4,580.9 716.7,573.6 718.0,577.1 719.2,573.5 720.6,580.5 721.9,607.9 723.2,619.7 724.5,634.5 725.8,652.2 727.1,676.3 810.2,676.3 811.6,671.4 812.9,641.8 814.2,620.8 815.5,614.8 816.8,600.4 818.1,580.1 819.4,571.1 820.7,574.2 822.0,569.3 823.2,565.8 824.6,563.7 825.9,569.7 827.2,569.2 828.5,562.4 829.8,562.4 831.1,552.6 832.4,553.4 833.7,556.6 835.0,559.6 836.2,575.1 837.6,581.3 838.9,591.5 840.2,602.2 841.5,601.3 842.8,617.7 844.1,642.2 845.4,665.0 846.7,676.3 859.7,676.3 861.0,673.8 862.2,662.4 863.6,647.2 864.9,639.2 866.2,624.1 867.5,609.8 868.8,594.6 870.1,583.5 871.4,568.4 872.7,548.4 874.0,533.2 875.2,511.6 876.6,498.0 877.9,485.1 879.2,474.1 880.5,470.7 881.8,467.4 883.1,464.1 884.4,460.8 885.7,457.5 887.0,454.2 888.2,450.9 889.6,447.5 890.9,444.2 892.2,440.9 893.5,437.6 894.8,434.3 896.1,430.9 897.4,427.6 898.7,424.2 900.0,420.9 901.2,417.5 902.6,414.1 903.9,410.7 905.2,407.2 906.5,403.7 907.8,400.1 909.1,396.3 910.4,392.5 911.7,388.3 913.0,383.9 914.2,379.1 915.6,373.7 916.9,367.4 918.2,360.1 919.5,351.2 920.8,340.2 922.1,326.2 923.4,308.9 924.7,292.3 926.0,276.8 927.2,262.4 928.6,249.3 929.9,237.3 931.2,226.4 932.5,216.7 933.8,208.2 935.1,200.8 936.4,194.6 937.7,189.6 939.0,185.7 940.2,182.9 941.6,181.4 942.9,181.0 944.2,181.7 945.5,183.7 946.8,186.7 948.1,191.0 949.4,196.4 950.7,203.0 952.0,210.7 953.2,219.6 954.6,229.6 955.9,240.8 957.2,253.2 958.5,266.7 959.8,281.4 961.1,297.2 962.4,314.2 963.7,332.2 965.0,351.4 966.2,371.4 967.6,387.6 968.9,388.6 970.2,389.4 971.5,389.9 972.8,390.0 974.1,391.1 975.4,392.2 976.7,392.2 978.0,390.9 979.2,388.1 980.6,383.6 981.9,377.4 983.2,369.4 984.5,359.9 985.8,349.0 987.0,337.1 988.4,330.0 989.7,327.5 991.0,324.8 992.2,322.2 993.5,319.4 994.9,316.5 996.2,313.6 997.5,310.7 998.8,307.7 1000.0,304.7 1001.4,301.6 1002.7,298.5 1004.0,295.3 1005.2,292.2 1006.5,289.0 1007.9,285.7 1009.2,282.5 1010.5,279.2 1011.8,275.9 1013.0,272.6 1014.4,269.2 1015.7,265.8 1017.0,262.2 1018.2,258.5 1019.5,254.6 1020.9,250.4 1022.2,246.0 1023.5,241.1 1024.8,235.6 1026.0,229.2 1027.4,221.7 1028.7,212.5 1030.0,201.0 1031.2,186.5 1032.5,169.1 1033.9,152.6 1035.2,137.3 1036.5,123.2 1037.8,110.2 1039.0,98.3 1040.4,87.7 1041.7,78.1 1043.0,69.8 1044.2,62.6 1045.5,56.6 1046.9,51.7 1048.2,48.0 1049.5,46.2 1050.8,46.2 1052.0,46.2 1053.4,46.2 1054.7,46.9 1056.0,50.1 1057.2,54.6 1058.5,60.1 1059.9,66.9 1061.2,74.8 1062.5,83.9 1063.8,94.1 1065.0,105.5 1066.4,118.0 1067.7,131.7 1069.0,146.6 1070.2,162.6 1071.5,179.8 1072.9,198.2 1074.2,217.7 1075.5,238.4 1076.8,252.3 1078.0,253.8 1079.4,255.4 1080.7,256.9 1082.0,258.4 1083.2,261.9 1084.5,266.0 1085.9,269.9 1087.2,273.9 1088.5,277.7 1089.8,281.4 1091.0,284.9 1092.4,288.1 1093.7,290.9 1095.0,293.2 1096.2,294.8 1097.5,295.5 1098.9,295.1 1100.2,296.2 1101.5,297.9 1102.8,299.4 1104.0,300.6 1105.4,301.5 1106.7,302.2 1108.0,302.7 1109.2,302.8 1110.5,302.7 1111.9,302.4 1113.2,301.8 1114.5,300.9 1115.8,299.8 1117.0,298.5 1118.4,297.0 1119.7,295.3 1121.0,294.7 1122.2,293.5 1123.5,291.8 1124.9,289.7 1126.2,287.2 1127.5,284.5 1128.8,281.4 1130.0,278.1 1131.4,274.5 1132.7,270.6 1134.0,266.2 1135.2,261.3 1136.5,255.7 1137.9,249.2 1139.2,241.4 1140.5,231.8 1141.8,219.8 1143.0,204.4 1144.4,187.0 1145.7,170.8 1147.0,155.8 1148.2,141.9 1149.5,129.2 1150.9,117.6 1152.2,107.2 1153.5,98.0 1154.8,89.9 1156.0,83.0 1157.4,77.2 1158.7,72.6 1160.0,69.2 1161.2,66.9 1162.5,65.8 1163.9,65.8 1165.2,67.0 1166.5,69.4 1167.8,72.9 1169.0,77.6 1170.4,83.4 1171.7,90.5 1173.0,98.6 1174.2,108.0 1175.5,118.5 1176.9,130.1 1178.2,142.9 1179.5,156.9 1180.8,172.1 1182.0,188.4 1183.4,205.8 1184.7,224.4 1186.0,244.2 1187.2,265.2 1188.5,274.5 1189.9,276.0 1191.2,277.6 1192.5,279.1 1193.8,280.7 1195.0,284.8 1196.4,288.8 1197.7,292.8 1199.0,296.8 1200.2,300.6 1201.5,304.4 1202.9,308.0 1204.2,311.3 1205.5,314.3 1206.8,316.8 1208.0,318.8 1209.4,319.8 1210.7,319.9 1212.0,322.1 1213.2,324.1 1214.5,325.9 1215.9,327.4 1217.2,328.7 1218.5,329.8 1219.8,330.6 1221.0,331.1 1222.4,331.4 1223.7,331.4 1225.0,331.1 1226.2,330.6 1227.5,329.9 1228.9,328.9 1230.2,327.7 1231.5,326.6 1232.8,326.4 1234.0,325.5 1235.4,324.1 1236.7,322.1 1238.0,319.8 1239.2,317.2 1240.5,314.2 1241.9,311.0 1243.2,307.4 1244.5,303.4 1245.8,299.0 1247.0,294.0 1248.4,288.3 1249.7,281.5 1251.0,273.3 1252.2,263.3 1253.5,250.5 1254.9,234.3 1256.2,217.2 1257.5,201.3 1258.8,186.5 1260.0,172.9 1261.4,160.4 1262.7,149.1 1264.0,139.0 1265.2,130.0 1266.5,122.2 1267.9,115.5 1269.2,110.0 1270.5,105.7 1271.8,102.5 1273.0,100.5 1274.4,99.7 1275.7,100.0 1277.0,101.4 1278.2,104.1 1279.5,107.9 1280.9,112.8 1282.2,119.0 1283.5,126.2 1284.8,134.7 1286.0,144.3 1287.4,155.0 1288.7,167.0 1290.0,180.1 1291.2,194.3 1292.5,209.7 1293.9,226.3 1295.2,244.0 1296.5,262.9 1297.8,282.9 1299.0,304.1 1300.4,308.8 1301.7,310.4 1303.0,311.9 1304.2,313.4 1305.5,315.5 1306.9,319.6 1308.2,323.6 1309.5,327.5 1310.8,331.3 1312.0,335.0 1313.4,338.5 1314.7,341.7 1316.0,344.6 1317.2,346.9 1318.5,348.6 1319.9,349.3 1321.2,348.9 1322.5,348.0 1323.8,349.5 1325.0,350.8 1326.4,351.8 1327.7,352.5 1329.0,353.0 1330.2,353.3 1331.5,353.2 1332.9,352.9 1334.2,352.4 1335.5,351.6 1336.8,350.6 1338.0,349.3 1339.4,347.9 1340.7,346.2 1342.0,344.4 1343.2,342.9 1344.5,341.7 1345.9,340.0 1347.2,337.8 1348.5,335.4 1349.8,332.6 1351.0,329.6 1352.4,326.3 1353.7,322.8 1355.0,319.0 1356.2,314.9 1357.5,310.2 1358.9,305.0 1360.2,299.0 1361.5,292.0 1362.8,283.4 1364.0,272.8 1365.4,259.3 1366.7,242.4 1368.0,225.6 1369.2,209.9 1370.5,195.4 1371.9,182.0 1373.2,169.8 1374.5,158.8 1375.8,148.9 1377.0,140.2 1378.4,132.7 1379.7,126.3 1381.0,121.1 1382.2,117.0 1383.5,114.1 1384.9,112.4 1386.2,111.8 1387.5,112.4 1388.8,114.1 1390.0,117.0 1391.4,121.1 1392.7,126.3 1394.0,132.7 1395.2,140.2 1396.5,148.9 1397.9,158.8 1399.2,169.8 1400.5,182.0 1401.8,195.4 1403.0,209.9 1404.4,225.6 1405.7,242.4 1407.0,260.4 1408.2,279.6 1409.5,299.9 1410.9,319.8 1412.2,321.4 1413.5,322.9 1414.8,324.5 1416.0,326.1 1417.4,328.8 1418.7,332.9 1420.0,337.0 1421.2,341.1 1422.5,345.2 1423.9,349.2 1425.2,353.1 1426.5,357.0 1427.8,360.8 1429.0,364.4 1430.4,367.7 1431.7,370.8 1433.0,373.4 1434.2,376.1 1435.5,379.3 1436.9,382.3 1438.2,385.3 1439.5,388.1 1440.8,390.7 1442.0,393.1 1443.4,395.4 1444.7,397.5 1446.0,399.3 1447.2,400.9 1448.5,402.2 1449.9,403.3 1451.2,404.2 1452.5,404.8 1453.8,405.1 1455.0,407.2 1456.4,409.4 1457.7,410.7 1459.0,411.1 1460.2,410.7 1461.5,409.6 1462.9,407.9 1464.2,405.7 1465.5,403.0 1466.8,399.8 1468.1,396.1 1469.4,391.7 1470.7,386.7 1472.0,380.7 1473.2,373.5 1474.6,364.6 1475.9,353.5 1477.2,339.3 1478.5,322.1 1479.8,305.6 1481.1,290.2 1482.4,275.9 1483.7,262.9 1485.0,250.9 1486.2,240.2 1487.6,230.6 1488.9,222.1 1490.2,214.9 1491.5,208.7 1492.8,203.8 1494.1,200.0 1495.4,197.4 1496.7,195.9 1498.0,195.6 1499.3,196.4 1500.6,198.4 1501.9,201.6 1503.2,205.9 1504.5,211.4 1505.8,218.1 1507.1,225.9 1508.4,234.9 1509.7,245.0 1511.0,256.3 1512.3,268.8 1513.6,282.4 1514.9,297.2 1516.2,313.1 1517.5,330.2 1518.8,348.5 1520.1,367.9 1521.4,388.5 1522.7,403.9 1524.0,405.7 1525.3,408.1 1526.6,409.9 1527.9,410.4 1529.2,411.6 1530.5,414.0 1531.8,418.2 1533.1,423.9 1534.4,430.5 1535.7,436.9 1537.0,442.3 1538.3,446.1 1539.6,448.4 1540.9,450.1 1542.2,452.1 1543.5,455.3 1544.8,460.1 1546.1,466.2 1547.4,472.8 1548.7,479.0 1550.0,484.1 1551.3,487.6 1552.6,489.8 1553.9,490.2 1555.2,492.4 1556.5,497.7 1557.8,503.5 1559.1,510.3 1560.4,517.3 1561.7,522.4 1563.0,526.7 1564.3,522.6 1565.6,524.1 1566.9,536.1 1568.2,546.2 1569.5,552.8 1570.8,565.9 1572.1,590.8 1573.4,604.3 1574.7,613.9 1576.0,624.7 1577.3,636.1 1578.6,647.5 1579.9,648.2 1581.2,659.5 1582.5,670.6 1583.8,676.3 1602.0,676.3 1603.3,660.1 1604.6,642.4 1605.9,616.9 1607.2,608.3 1608.5,605.0 1609.8,607.4 1611.1,626.2 1612.4,635.9 1613.7,639.8 1615.0,657.7 1616.3,676.3 1622.8,676.3 1624.1,630.2 1625.4,676.3 1646.2,676.3 1647.5,644.0 1648.8,676.3 1650.1,676.3 1651.4,624.4 1652.7,676.3 1656.6,676.3 1657.9,634.8 1659.2,676.3 1672.2,676.3 1673.5,631.8 1674.8,636.6 1676.1,676.3 1689.1,676.3 1690.4,635.9 1691.7,676.3 1702.1,676.3 1703.4,647.9 1704.7,676.3 1717.7,676.3 1719.0,649.7 1720.3,676.3 1725.5,676.3 1726.8,621.7 1728.1,676.3 1730.7,676.3 1732.0,650.2 1733.3,676.3 1771.0,676.3 1772.3,642.8 1773.6,676.3 1784.0,676.3 1785.3,650.2 1786.6,676.3 1810.0,676.3 L1810.0,682.0 L469.7,682.0Z"/>
<mask id="m11" maskUnits="userSpaceOnUse" x="0" y="0" width="1977" height="1300"><rect x="0" y="0" width="1977" height="1300" fill="#fff"/><use href="#p11" fill="#000" clip-path="url(#c11)"/></mask>
</defs>
<g fill="none" stroke="#000" stroke-width="2.3">
<path d="M471.0,45.0 V652.0 H1812.0"/>
<path stroke-width="1.9" d="M42.0,1196.8 L471.0,652.0"/>
</g>
<g stroke-width="4.5" stroke-linejoin="round" shape-rendering="crispEdges">
<use href="#p11" fill="#fff" stroke="#0000ff" clip-path="url(#c11)"/>
<use href="#p10" fill="#fff" stroke="#0000ff" clip-path="url(#c10)"/>
<use href="#p9" fill="#fff" stroke="#0080ff" clip-path="url(#c9)"/>
<use href="#p8" fill="#fff" stroke="#00ffff" clip-path="url(#c8)"/>
<use href="#p7" fill="#fff" stroke="#00ffff" clip-path="url(#c7)"/>
<use href="#p6" fill="#fff" stroke="#00ff00" clip-path="url(#c6)"/>
<use href="#p5" fill="#fff" stroke="#00ff00" clip-path="url(#c5)"/>
<use href="#p4" fill="#fff" stroke="#ffff00" clip-path="url(#c4)"/>
<use href="#p3" fill="#fff" stroke="#ffff00" clip-path="url(#c3)"/>
<use href="#p2" fill="#fff" stroke="#ff8000" clip-path="url(#c2)"/>
<use href="#p1" fill="#fff" stroke="#ff0000" clip-path="url(#c1)"/>
<use href="#p0" fill="#fff" stroke="#ff0000" clip-path="url(#c0)"/>
</g>
<g fill="none" stroke-linecap="butt">
<g mask="url(#m0)">
<line x1="81.0" y1="1196.8" x2="120.0" y2="1147.3" stroke="#cbcbcb" stroke-width="1.7" stroke-dasharray="3.3 2.3"/>
<line x1="132.5" y1="1196.8" x2="171.5" y2="1147.3" stroke="#cbcbcb" stroke-width="1.7" stroke-dasharray="3.3 2.3"/>
<line x1="184.1" y1="1196.8" x2="223.1" y2="1147.3" stroke="#cbcbcb" stroke-width="1.7" stroke-dasharray="3.3 2.3"/>
<line x1="235.6" y1="1196.8" x2="274.6" y2="1147.3" stroke="#cbcbcb" stroke-width="1.7" stroke-dasharray="3.3 2.3"/>
<line x1="338.8" y1="1196.8" x2="377.8" y2="1147.3" stroke="#cbcbcb" stroke-width="1.7" stroke-dasharray="3.3 2.3"/>
<line x1="390.3" y1="1196.8" x2="429.3" y2="1147.3" stroke="#cbcbcb" stroke-width="1.7" stroke-dasharray="3.3 2.3"/>
<line x1="441.9" y1="1196.8" x2="480.9" y2="1147.3" stroke="#cbcbcb" stroke-width="1.7" stroke-dasharray="3.3 2.3"/>
<line x1="493.4" y1="1196.8" x2="532.4" y2="1147.3" stroke="#cbcbcb" stroke-width="1.7" stroke-dasharray="3.3 2.3"/>
<line x1="596.6" y1="1196.8" x2="635.6" y2="1147.3" stroke="#cbcbcb" stroke-width="1.7" stroke-dasharray="3.3 2.3"/>
<line x1="648.1" y1="1196.8" x2="687.1" y2="1147.3" stroke="#cbcbcb" stroke-width="1.7" stroke-dasharray="3.3 2.3"/>
<line x1="699.7" y1="1196.8" x2="738.7" y2="1147.3" stroke="#cbcbcb" stroke-width="1.7" stroke-dasharray="3.3 2.3"/>
<line x1="751.2" y1="1196.8" x2="790.2" y2="1147.3" stroke="#cbcbcb" stroke-width="1.7" stroke-dasharray="3.3 2.3"/>
<line x1="854.4" y1="1196.8" x2="893.4" y2="1147.3" stroke="#cbcbcb" stroke-width="1.7" stroke-dasharray="3.3 2.3"/>
<line x1="905.9" y1="1196.8" x2="944.9" y2="1147.3" stroke="#cbcbcb" stroke-width="1.7" stroke-dasharray="3.3 2.3"/>
<line x1="957.5" y1="1196.8" x2="996.5" y2="1147.3" stroke="#cbcbcb" stroke-width="1.7" stroke-dasharray="3.3 2.3"/>
<line x1="1009.0" y1="1196.8" x2="1048.0" y2="1147.3" stroke="#cbcbcb" stroke-width="1.7" stroke-dasharray="3.3 2.3"/>
<line x1="1112.2" y1="1196.8" x2="1151.2" y2="1147.3" stroke="#cbcbcb" stroke-width="1.7" stroke-dasharray="3.3 2.3"/>
<line x1="1163.7" y1="1196.8" x2="1202.7" y2="1147.3" stroke="#cbcbcb" stroke-width="1.7" stroke-dasharray="3.3 2.3"/>
<line x1="1215.3" y1="1196.8" x2="1254.3" y2="1147.3" stroke="#cbcbcb" stroke-width="1.7" stroke-dasharray="3.3 2.3"/>
<line x1="1266.8" y1="1196.8" x2="1305.8" y2="1147.3" stroke="#cbcbcb" stroke-width="1.7" stroke-dasharray="3.3 2.3"/>
<line x1="1370.0" y1="1196.8" x2="1409.0" y2="1147.3" stroke="#cbcbcb" stroke-width="1.7" stroke-dasharray="3.3 2.3"/>
<line x1="287.2" y1="1196.8" x2="326.2" y2="1147.3" stroke="#9c9c9c" stroke-width="2.2" />
<line x1="545.0" y1="1196.8" x2="584.0" y2="1147.3" stroke="#9c9c9c" stroke-width="2.2" />
<line x1="802.8" y1="1196.8" x2="841.8" y2="1147.3" stroke="#9c9c9c" stroke-width="2.2" />
<line x1="1060.6" y1="1196.8" x2="1099.6" y2="1147.3" stroke="#9c9c9c" stroke-width="2.2" />
<line x1="1318.4" y1="1196.8" x2="1357.4" y2="1147.3" stroke="#9c9c9c" stroke-width="2.2" />
<line x1="57.6" y1="1177.0" x2="1398.6" y2="1177.0" stroke="#9c9c9c" stroke-width="2.2" />
<g mask="url(#m1)">
<line x1="120.0" y1="1147.3" x2="159.0" y2="1097.7" stroke="#cbcbcb" stroke-width="1.7" stroke-dasharray="3.3 2.3"/>
<line x1="171.5" y1="1147.3" x2="210.5" y2="1097.7" stroke="#cbcbcb" stroke-width="1.7" stroke-dasharray="3.3 2.3"/>
<line x1="223.1" y1="1147.3" x2="262.1" y2="1097.7" stroke="#cbcbcb" stroke-width="1.7" stroke-dasharray="3.3 2.3"/>
<line x1="274.6" y1="1147.3" x2="313.6" y2="1097.7" stroke="#cbcbcb" stroke-width="1.7" stroke-dasharray="3.3 2.3"/>
<line x1="377.8" y1="1147.3" x2="416.8" y2="1097.7" stroke="#cbcbcb" stroke-width="1.7" stroke-dasharray="3.3 2.3"/>
<line x1="429.3" y1="1147.3" x2="468.3" y2="1097.7" stroke="#cbcbcb" stroke-width="1.7" stroke-dasharray="3.3 2.3"/>
<line x1="480.9" y1="1147.3" x2="519.9" y2="1097.7" stroke="#cbcbcb" stroke-width="1.7" stroke-dasharray="3.3 2.3"/>
<line x1="532.4" y1="1147.3" x2="571.4" y2="1097.7" stroke="#cbcbcb" stroke-width="1.7" stroke-dasharray="3.3 2.3"/>
<line x1="635.6" y1="1147.3" x2="674.6" y2="1097.7" stroke="#cbcbcb" stroke-width="1.7" stroke-dasharray="3.3 2.3"/>
<line x1="687.1" y1="1147.3" x2="726.1" y2="1097.7" stroke="#cbcbcb" stroke-width="1.7" stroke-dasharray="3.3 2.3"/>
<line x1="738.7" y1="1147.3" x2="777.7" y2="1097.7" stroke="#cbcbcb" stroke-width="1.7" stroke-dasharray="3.3 2.3"/>
<line x1="790.2" y1="1147.3" x2="829.2" y2="1097.7" stroke="#cbcbcb" stroke-width="1.7" stroke-dasharray="3.3 2.3"/>
<line x1="893.4" y1="1147.3" x2="932.4" y2="1097.7" stroke="#cbcbcb" stroke-width="1.7" stroke-dasharray="3.3 2.3"/>
<line x1="944.9" y1="1147.3" x2="983.9" y2="1097.7" stroke="#cbcbcb" stroke-width="1.7" stroke-dasharray="3.3 2.3"/>
<line x1="996.5" y1="1147.3" x2="1035.5" y2="1097.7" stroke="#cbcbcb" stroke-width="1.7" stroke-dasharray="3.3 2.3"/>
<line x1="1048.0" y1="1147.3" x2="1087.0" y2="1097.7" stroke="#cbcbcb" stroke-width="1.7" stroke-dasharray="3.3 2.3"/>
<line x1="1151.2" y1="1147.3" x2="1190.2" y2="1097.7" stroke="#cbcbcb" stroke-width="1.7" stroke-dasharray="3.3 2.3"/>
<line x1="1202.7" y1="1147.3" x2="1241.7" y2="1097.7" stroke="#cbcbcb" stroke-width="1.7" stroke-dasharray="3.3 2.3"/>
<line x1="1254.3" y1="1147.3" x2="1293.3" y2="1097.7" stroke="#cbcbcb" stroke-width="1.7" stroke-dasharray="3.3 2.3"/>
<line x1="1305.8" y1="1147.3" x2="1344.8" y2="1097.7" stroke="#cbcbcb" stroke-width="1.7" stroke-dasharray="3.3 2.3"/>
<line x1="1409.0" y1="1147.3" x2="1448.0" y2="1097.7" stroke="#cbcbcb" stroke-width="1.7" stroke-dasharray="3.3 2.3"/>
<line x1="326.2" y1="1147.3" x2="365.2" y2="1097.7" stroke="#9c9c9c" stroke-width="2.2" />
<line x1="584.0" y1="1147.3" x2="623.0" y2="1097.7" stroke="#9c9c9c" stroke-width="2.2" />
<line x1="841.8" y1="1147.3" x2="880.8" y2="1097.7" stroke="#9c9c9c" stroke-width="2.2" />
<line x1="1099.6" y1="1147.3" x2="1138.6" y2="1097.7" stroke="#9c9c9c" stroke-width="2.2" />
<line x1="1357.4" y1="1147.3" x2="1396.4" y2="1097.7" stroke="#9c9c9c" stroke-width="2.2" />
<g mask="url(#m2)">
<line x1="159.0" y1="1097.7" x2="198.0" y2="1048.2" stroke="#cbcbcb" stroke-width="1.7" stroke-dasharray="3.3 2.3"/>
<line x1="210.5" y1="1097.7" x2="249.5" y2="1048.2" stroke="#cbcbcb" stroke-width="1.7" stroke-dasharray="3.3 2.3"/>
<line x1="262.1" y1="1097.7" x2="301.1" y2="1048.2" stroke="#cbcbcb" stroke-width="1.7" stroke-dasharray="3.3 2.3"/>
<line x1="313.6" y1="1097.7" x2="352.6" y2="1048.2" stroke="#cbcbcb" stroke-width="1.7" stroke-dasharray="3.3 2.3"/>
<line x1="416.8" y1="1097.7" x2="455.8" y2="1048.2" stroke="#cbcbcb" stroke-width="1.7" stroke-dasharray="3.3 2.3"/>
<line x1="468.3" y1="1097.7" x2="507.3" y2="1048.2" stroke="#cbcbcb" stroke-width="1.7" stroke-dasharray="3.3 2.3"/>
<line x1="519.9" y1="1097.7" x2="558.9" y2="1048.2" stroke="#cbcbcb" stroke-width="1.7" stroke-dasharray="3.3 2.3"/>
<line x1="571.4" y1="1097.7" x2="610.4" y2="1048.2" stroke="#cbcbcb" stroke-width="1.7" stroke-dasharray="3.3 2.3"/>
<line x1="674.6" y1="1097.7" x2="713.6" y2="1048.2" stroke="#cbcbcb" stroke-width="1.7" stroke-dasharray="3.3 2.3"/>
<line x1="726.1" y1="1097.7" x2="765.1" y2="1048.2" stroke="#cbcbcb" stroke-width="1.7" stroke-dasharray="3.3 2.3"/>
<line x1="777.7" y1="1097.7" x2="816.7" y2="1048.2" stroke="#cbcbcb" stroke-width="1.7" stroke-dasharray="3.3 2.3"/>
<line x1="829.2" y1="1097.7" x2="868.2" y2="1048.2" stroke="#cbcbcb" stroke-width="1.7" stroke-dasharray="3.3 2.3"/>
<line x1="932.4" y1="1097.7" x2="971.4" y2="1048.2" stroke="#cbcbcb" stroke-width="1.7" stroke-dasharray="3.3 2.3"/>
<line x1="983.9" y1="1097.7" x2="1022.9" y2="1048.2" stroke="#cbcbcb" stroke-width="1.7" stroke-dasharray="3.3 2.3"/>
<line x1="1035.5" y1="1097.7" x2="1074.5" y2="1048.2" stroke="#cbcbcb" stroke-width="1.7" stroke-dasharray="3.3 2.3"/>
<line x1="1087.0" y1="1097.7" x2="1126.0" y2="1048.2" stroke="#cbcbcb" stroke-width="1.7" stroke-dasharray="3.3 2.3"/>
<line x1="1190.2" y1="1097.7" x2="1229.2" y2="1048.2" stroke="#cbcbcb" stroke-width="1.7" stroke-dasharray="3.3 2.3"/>
<line x1="1241.7" y1="1097.7" x2="1280.7" y2="1048.2" stroke="#cbcbcb" stroke-width="1.7" stroke-dasharray="3.3 2.3"/>
<line x1="1293.3" y1="1097.7" x2="1332.3" y2="1048.2" stroke="#cbcbcb" stroke-width="1.7" stroke-dasharray="3.3 2.3"/>
<line x1="1344.8" y1="1097.7" x2="1383.8" y2="1048.2" stroke="#cbcbcb" stroke-width="1.7" stroke-dasharray="3.3 2.3"/>
<line x1="1448.0" y1="1097.7" x2="1487.0" y2="1048.2" stroke="#cbcbcb" stroke-width="1.7" stroke-dasharray="3.3 2.3"/>
<line x1="365.2" y1="1097.7" x2="404.2" y2="1048.2" stroke="#9c9c9c" stroke-width="2.2" />
<line x1="623.0" y1="1097.7" x2="662.0" y2="1048.2" stroke="#9c9c9c" stroke-width="2.2" />
<line x1="880.8" y1="1097.7" x2="919.8" y2="1048.2" stroke="#9c9c9c" stroke-width="2.2" />
<line x1="1138.6" y1="1097.7" x2="1177.6" y2="1048.2" stroke="#9c9c9c" stroke-width="2.2" />
<line x1="1396.4" y1="1097.7" x2="1435.4" y2="1048.2" stroke="#9c9c9c" stroke-width="2.2" />
<line x1="135.6" y1="1077.9" x2="1476.6" y2="1077.9" stroke="#9c9c9c" stroke-width="2.2" />
<g mask="url(#m3)">
<line x1="198.0" y1="1048.2" x2="237.0" y2="998.7" stroke="#cbcbcb" stroke-width="1.7" stroke-dasharray="3.3 2.3"/>
<line x1="249.5" y1="1048.2" x2="288.5" y2="998.7" stroke="#cbcbcb" stroke-width="1.7" stroke-dasharray="3.3 2.3"/>
<line x1="301.1" y1="1048.2" x2="340.1" y2="998.7" stroke="#cbcbcb" stroke-width="1.7" stroke-dasharray="3.3 2.3"/>
<line x1="352.6" y1="1048.2" x2="391.6" y2="998.7" stroke="#cbcbcb" stroke-width="1.7" stroke-dasharray="3.3 2.3"/>
<line x1="455.8" y1="1048.2" x2="494.8" y2="998.7" stroke="#cbcbcb" stroke-width="1.7" stroke-dasharray="3.3 2.3"/>
<line x1="507.3" y1="1048.2" x2="546.3" y2="998.7" stroke="#cbcbcb" stroke-width="1.7" stroke-dasharray="3.3 2.3"/>
<line x1="558.9" y1="1048.2" x2="597.9" y2="998.7" stroke="#cbcbcb" stroke-width="1.7" stroke-dasharray="3.3 2.3"/>
<line x1="610.4" y1="1048.2" x2="649.4" y2="998.7" stroke="#cbcbcb" stroke-width="1.7" stroke-dasharray="3.3 2.3"/>
<line x1="713.6" y1="1048.2" x2="752.6" y2="998.7" stroke="#cbcbcb" stroke-width="1.7" stroke-dasharray="3.3 2.3"/>
<line x1="765.1" y1="1048.2" x2="804.1" y2="998.7" stroke="#cbcbcb" stroke-width="1.7" stroke-dasharray="3.3 2.3"/>
<line x1="816.7" y1="1048.2" x2="855.7" y2="998.7" stroke="#cbcbcb" stroke-width="1.7" stroke-dasharray="3.3 2.3"/>
<line x1="868.2" y1="1048.2" x2="907.2" y2="998.7" stroke="#cbcbcb" stroke-width="1.7" stroke-dasharray="3.3 2.3"/>
<line x1="971.4" y1="1048.2" x2="1010.4" y2="998.7" stroke="#cbcbcb" stroke-width="1.7" stroke-dasharray="3.3 2.3"/>
<line x1="1022.9" y1="1048.2" x2="1061.9" y2="998.7" stroke="#cbcbcb" stroke-width="1.7" stroke-dasharray="3.3 2.3"/>
<line x1="1074.5" y1="1048.2" x2="1113.5" y2="998.7" stroke="#cbcbcb" stroke-width="1.7" stroke-dasharray="3.3 2.3"/>
<line x1="1126.0" y1="1048.2" x2="1165.0" y2="998.7" stroke="#cbcbcb" stroke-width="1.7" stroke-dasharray="3.3 2.3"/>
<line x1="1229.2" y1="1048.2" x2="1268.2" y2="998.7" stroke="#cbcbcb" stroke-width="1.7" stroke-dasharray="3.3 2.3"/>
<line x1="1280.7" y1="1048.2" x2="1319.7" y2="998.7" stroke="#cbcbcb" stroke-width="1.7" stroke-dasharray="3.3 2.3"/>
<line x1="1332.3" y1="1048.2" x2="1371.3" y2="998.7" stroke="#cbcbcb" stroke-width="1.7" stroke-dasharray="3.3 2.3"/>
<line x1="1383.8" y1="1048.2" x2="1422.8" y2="998.7" stroke="#cbcbcb" stroke-width="1.7" stroke-dasharray="3.3 2.3"/>
<line x1="1487.0" y1="1048.2" x2="1526.0" y2="998.7" stroke="#cbcbcb" stroke-width="1.7" stroke-dasharray="3.3 2.3"/>
<line x1="404.2" y1="1048.2" x2="443.2" y2="998.7" stroke="#9c9c9c" stroke-width="2.2" />
<line x1="662.0" y1="1048.2" x2="701.0" y2="998.7" stroke="#9c9c9c" stroke-width="2.2" />
<line x1="919.8" y1="1048.2" x2="958.8" y2="998.7" stroke="#9c9c9c" stroke-width="2.2" />
<line x1="1177.6" y1="1048.2" x2="1216.6" y2="998.7" stroke="#9c9c9c" stroke-width="2.2" />
<line x1="1435.4" y1="1048.2" x2="1474.4" y2="998.7" stroke="#9c9c9c" stroke-width="2.2" />
<g mask="url(#m4)">
<line x1="237.0" y1="998.7" x2="276.0" y2="949.2" stroke="#cbcbcb" stroke-width="1.7" stroke-dasharray="3.3 2.3"/>
<line x1="288.5" y1="998.7" x2="327.5" y2="949.2" stroke="#cbcbcb" stroke-width="1.7" stroke-dasharray="3.3 2.3"/>
<line x1="340.1" y1="998.7" x2="379.1" y2="949.2" stroke="#cbcbcb" stroke-width="1.7" stroke-dasharray="3.3 2.3"/>
<line x1="391.6" y1="998.7" x2="430.6" y2="949.2" stroke="#cbcbcb" stroke-width="1.7" stroke-dasharray="3.3 2.3"/>
<line x1="494.8" y1="998.7" x2="533.8" y2="949.2" stroke="#cbcbcb" stroke-width="1.7" stroke-dasharray="3.3 2.3"/>
<line x1="546.3" y1="998.7" x2="585.3" y2="949.2" stroke="#cbcbcb" stroke-width="1.7" stroke-dasharray="3.3 2.3"/>
<line x1="597.9" y1="998.7" x2="636.9" y2="949.2" stroke="#cbcbcb" stroke-width="1.7" stroke-dasharray="3.3 2.3"/>
<line x1="649.4" y1="998.7" x2="688.4" y2="949.2" stroke="#cbcbcb" stroke-width="1.7" stroke-dasharray="3.3 2.3"/>
<line x1="752.6" y1="998.7" x2="791.6" y2="949.2" stroke="#cbcbcb" stroke-width="1.7" stroke-dasharray="3.3 2.3"/>
<line x1="804.1" y1="998.7" x2="843.1" y2="949.2" stroke="#cbcbcb" stroke-width="1.7" stroke-dasharray="3.3 2.3"/>
<line x1="855.7" y1="998.7" x2="894.7" y2="949.2" stroke="#cbcbcb" stroke-width="1.7" stroke-dasharray="3.3 2.3"/>
<line x1="907.2" y1="998.7" x2="946.2" y2="949.2" stroke="#cbcbcb" stroke-width="1.7" stroke-dasharray="3.3 2.3"/>
<line x1="1010.4" y1="998.7" x2="1049.4" y2="949.2" stroke="#cbcbcb" stroke-width="1.7" stroke-dasharray="3.3 2.3"/>
<line x1="1061.9" y1="998.7" x2="1100.9" y2="949.2" stroke="#cbcbcb" stroke-width="1.7" stroke-dasharray="3.3 2.3"/>
<line x1="1113.5" y1="998.7" x2="1152.5" y2="949.2" stroke="#cbcbcb" stroke-width="1.7" stroke-dasharray="3.3 2.3"/>
<line x1="1165.0" y1="998.7" x2="1204.0" y2="949.2" stroke="#cbcbcb" stroke-width="1.7" stroke-dasharray="3.3 2.3"/>
<line x1="1268.2" y1="998.7" x2="1307.2" y2="949.2" stroke="#cbcbcb" stroke-width="1.7" stroke-dasharray="3.3 2.3"/>
<line x1="1319.7" y1="998.7" x2="1358.7" y2="949.2" stroke="#cbcbcb" stroke-width="1.7" stroke-dasharray="3.3 2.3"/>
<line x1="1371.3" y1="998.7" x2="1410.3" y2="949.2" stroke="#cbcbcb" stroke-width="1.7" stroke-dasharray="3.3 2.3"/>
<line x1="1422.8" y1="998.7" x2="1461.8" y2="949.2" stroke="#cbcbcb" stroke-width="1.7" stroke-dasharray="3.3 2.3"/>
<line x1="1526.0" y1="998.7" x2="1565.0" y2="949.2" stroke="#cbcbcb" stroke-width="1.7" stroke-dasharray="3.3 2.3"/>
<line x1="443.2" y1="998.7" x2="482.2" y2="949.2" stroke="#9c9c9c" stroke-width="2.2" />
<line x1="701.0" y1="998.7" x2="740.0" y2="949.2" stroke="#9c9c9c" stroke-width="2.2" />
<line x1="958.8" y1="998.7" x2="997.8" y2="949.2" stroke="#9c9c9c" stroke-width="2.2" />
<line x1="1216.6" y1="998.7" x2="1255.6" y2="949.2" stroke="#9c9c9c" stroke-width="2.2" />
<line x1="1474.4" y1="998.7" x2="1513.4" y2="949.2" stroke="#9c9c9c" stroke-width="2.2" />
<line x1="213.6" y1="978.9" x2="1554.6" y2="978.9" stroke="#9c9c9c" stroke-width="2.2" />
<g mask="url(#m5)">
<line x1="276.0" y1="949.2" x2="315.0" y2="899.6" stroke="#cbcbcb" stroke-width="1.7" stroke-dasharray="3.3 2.3"/>
<line x1="327.5" y1="949.2" x2="366.5" y2="899.6" stroke="#cbcbcb" stroke-width="1.7" stroke-dasharray="3.3 2.3"/>
<line x1="379.1" y1="949.2" x2="418.1" y2="899.6" stroke="#cbcbcb" stroke-width="1.7" stroke-dasharray="3.3 2.3"/>
<line x1="430.6" y1="949.2" x2="469.6" y2="899.6" stroke="#cbcbcb" stroke-width="1.7" stroke-dasharray="3.3 2.3"/>
<line x1="533.8" y1="949.2" x2="572.8" y2="899.6" stroke="#cbcbcb" stroke-width="1.7" stroke-dasharray="3.3 2.3"/>
<line x1="585.3" y1="949.2" x2="624.3" y2="899.6" stroke="#cbcbcb" stroke-width="1.7" stroke-dasharray="3.3 2.3"/>
<line x1="636.9" y1="949.2" x2="675.9" y2="899.6" stroke="#cbcbcb" stroke-width="1.7" stroke-dasharray="3.3 2.3"/>
<line x1="688.4" y1="949.2" x2="727.4" y2="899.6" stroke="#cbcbcb" stroke-width="1.7" stroke-dasharray="3.3 2.3"/>
<line x1="791.6" y1="949.2" x2="830.6" y2="899.6" stroke="#cbcbcb" stroke-width="1.7" stroke-dasharray="3.3 2.3"/>
<line x1="843.1" y1="949.2" x2="882.1" y2="899.6" stroke="#cbcbcb" stroke-width="1.7" stroke-dasharray="3.3 2.3"/>
<line x1="894.7" y1="949.2" x2="933.7" y2="899.6" stroke="#cbcbcb" stroke-width="1.7" stroke-dasharray="3.3 2.3"/>
<line x1="946.2" y1="949.2" x2="985.2" y2="899.6" stroke="#cbcbcb" stroke-width="1.7" stroke-dasharray="3.3 2.3"/>
<line x1="1049.4" y1="949.2" x2="1088.4" y2="899.6" stroke="#cbcbcb" stroke-width="1.7" stroke-dasharray="3.3 2.3"/>
<line x1="1100.9" y1="949.2" x2="1139.9" y2="899.6" stroke="#cbcbcb" stroke-width="1.7" stroke-dasharray="3.3 2.3"/>
<line x1="1152.5" y1="949.2" x2="1191.5" y2="899.6" stroke="#cbcbcb" stroke-width="1.7" stroke-dasharray="3.3 2.3"/>
<line x1="1204.0" y1="949.2" x2="1243.0" y2="899.6" stroke="#cbcbcb" stroke-width="1.7" stroke-dasharray="3.3 2.3"/>
<line x1="1307.2" y1="949.2" x2="1346.2" y2="899.6" stroke="#cbcbcb" stroke-width="1.7" stroke-dasharray="3.3 2.3"/>
<line x1="1358.7" y1="949.2" x2="1397.7" y2="899.6" stroke="#cbcbcb" stroke-width="1.7" stroke-dasharray="3.3 2.3"/>
<line x1="1410.3" y1="949.2" x2="1449.3" y2="899.6" stroke="#cbcbcb" stroke-width="1.7" stroke-dasharray="3.3 2.3"/>
<line x1="1461.8" y1="949.2" x2="1500.8" y2="899.6" stroke="#cbcbcb" stroke-width="1.7" stroke-dasharray="3.3 2.3"/>
<line x1="1565.0" y1="949.2" x2="1604.0" y2="899.6" stroke="#cbcbcb" stroke-width="1.7" stroke-dasharray="3.3 2.3"/>
<line x1="482.2" y1="949.2" x2="521.2" y2="899.6" stroke="#9c9c9c" stroke-width="2.2" />
<line x1="740.0" y1="949.2" x2="779.0" y2="899.6" stroke="#9c9c9c" stroke-width="2.2" />
<line x1="997.8" y1="949.2" x2="1036.8" y2="899.6" stroke="#9c9c9c" stroke-width="2.2" />
<line x1="1255.6" y1="949.2" x2="1294.6" y2="899.6" stroke="#9c9c9c" stroke-width="2.2" />
<line x1="1513.4" y1="949.2" x2="1552.4" y2="899.6" stroke="#9c9c9c" stroke-width="2.2" />
<g mask="url(#m6)">
<line x1="315.0" y1="899.6" x2="354.0" y2="850.1" stroke="#cbcbcb" stroke-width="1.7" stroke-dasharray="3.3 2.3"/>
<line x1="366.5" y1="899.6" x2="405.5" y2="850.1" stroke="#cbcbcb" stroke-width="1.7" stroke-dasharray="3.3 2.3"/>
<line x1="418.1" y1="899.6" x2="457.1" y2="850.1" stroke="#cbcbcb" stroke-width="1.7" stroke-dasharray="3.3 2.3"/>
<line x1="469.6" y1="899.6" x2="508.6" y2="850.1" stroke="#cbcbcb" stroke-width="1.7" stroke-dasharray="3.3 2.3"/>
<line x1="572.8" y1="899.6" x2="611.8" y2="850.1" stroke="#cbcbcb" stroke-width="1.7" stroke-dasharray="3.3 2.3"/>
<line x1="624.3" y1="899.6" x2="663.3" y2="850.1" stroke="#cbcbcb" stroke-width="1.7" stroke-dasharray="3.3 2.3"/>
<line x1="675.9" y1="899.6" x2="714.9" y2="850.1" stroke="#cbcbcb" stroke-width="1.7" stroke-dasharray="3.3 2.3"/>
<line x1="727.4" y1="899.6" x2="766.4" y2="850.1" stroke="#cbcbcb" stroke-width="1.7" stroke-dasharray="3.3 2.3"/>
<line x1="830.6" y1="899.6" x2="869.6" y2="850.1" stroke="#cbcbcb" stroke-width="1.7" stroke-dasharray="3.3 2.3"/>
<line x1="882.1" y1="899.6" x2="921.1" y2="850.1" stroke="#cbcbcb" stroke-width="1.7" stroke-dasharray="3.3 2.3"/>
<line x1="933.7" y1="899.6" x2="972.7" y2="850.1" stroke="#cbcbcb" stroke-width="1.7" stroke-dasharray="3.3 2.3"/>
<line x1="985.2" y1="899.6" x2="1024.2" y2="850.1" stroke="#cbcbcb" stroke-width="1.7" stroke-dasharray="3.3 2.3"/>
<line x1="1088.4" y1="899.6" x2="1127.4" y2="850.1" stroke="#cbcbcb" stroke-width="1.7" stroke-dasharray="3.3 2.3"/>
<line x1="1139.9" y1="899.6" x2="1178.9" y2="850.1" stroke="#cbcbcb" stroke-width="1.7" stroke-dasharray="3.3 2.3"/>
<line x1="1191.5" y1="899.6" x2="1230.5" y2="850.1" stroke="#cbcbcb" stroke-width="1.7" stroke-dasharray="3.3 2.3"/>
<line x1="1243.0" y1="899.6" x2="1282.0" y2="850.1" stroke="#cbcbcb" stroke-width="1.7" stroke-dasharray="3.3 2.3"/>
<line x1="1346.2" y1="899.6" x2="1385.2" y2="850.1" stroke="#cbcbcb" stroke-width="1.7" stroke-dasharray="3.3 2.3"/>
<line x1="1397.7" y1="899.6" x2="1436.7" y2="850.1" stroke="#cbcbcb" stroke-width="1.7" stroke-dasharray="3.3 2.3"/>
<line x1="1449.3" y1="899.6" x2="1488.3" y2="850.1" stroke="#cbcbcb" stroke-width="1.7" stroke-dasharray="3.3 2.3"/>
<line x1="1500.8" y1="899.6" x2="1539.8" y2="850.1" stroke="#cbcbcb" stroke-width="1.7" stroke-dasharray="3.3 2.3"/>
<line x1="1604.0" y1="899.6" x2="1643.0" y2="850.1" stroke="#cbcbcb" stroke-width="1.7" stroke-dasharray="3.3 2.3"/>
<line x1="521.2" y1="899.6" x2="560.2" y2="850.1" stroke="#9c9c9c" stroke-width="2.2" />
<line x1="779.0" y1="899.6" x2="818.0" y2="850.1" stroke="#9c9c9c" stroke-width="2.2" />
<line x1="1036.8" y1="899.6" x2="1075.8" y2="850.1" stroke="#9c9c9c" stroke-width="2.2" />
<line x1="1294.6" y1="899.6" x2="1333.6" y2="850.1" stroke="#9c9c9c" stroke-width="2.2" />
<line x1="1552.4" y1="899.6" x2="1591.4" y2="850.1" stroke="#9c9c9c" stroke-width="2.2" />
<line x1="291.6" y1="879.8" x2="1632.6" y2="879.8" stroke="#9c9c9c" stroke-width="2.2" />
<g mask="url(#m7)">
<line x1="354.0" y1="850.1" x2="393.0" y2="800.6" stroke="#cbcbcb" stroke-width="1.7" stroke-dasharray="3.3 2.3"/>
<line x1="405.5" y1="850.1" x2="444.5" y2="800.6" stroke="#cbcbcb" stroke-width="1.7" stroke-dasharray="3.3 2.3"/>
<line x1="457.1" y1="850.1" x2="496.1" y2="800.6" stroke="#cbcbcb" stroke-width="1.7" stroke-dasharray="3.3 2.3"/>
<line x1="508.6" y1="850.1" x2="547.6" y2="800.6" stroke="#cbcbcb" stroke-width="1.7" stroke-dasharray="3.3 2.3"/>
<line x1="611.8" y1="850.1" x2="650.8" y2="800.6" stroke="#cbcbcb" stroke-width="1.7" stroke-dasharray="3.3 2.3"/>
<line x1="663.3" y1="850.1" x2="702.3" y2="800.6" stroke="#cbcbcb" stroke-width="1.7" stroke-dasharray="3.3 2.3"/>
<line x1="714.9" y1="850.1" x2="753.9" y2="800.6" stroke="#cbcbcb" stroke-width="1.7" stroke-dasharray="3.3 2.3"/>
<line x1="766.4" y1="850.1" x2="805.4" y2="800.6" stroke="#cbcbcb" stroke-width="1.7" stroke-dasharray="3.3 2.3"/>
<line x1="869.6" y1="850.1" x2="908.6" y2="800.6" stroke="#cbcbcb" stroke-width="1.7" stroke-dasharray="3.3 2.3"/>
<line x1="921.1" y1="850.1" x2="960.1" y2="800.6" stroke="#cbcbcb" stroke-width="1.7" stroke-dasharray="3.3 2.3"/>
<line x1="972.7" y1="850.1" x2="1011.7" y2="800.6" stroke="#cbcbcb" stroke-width="1.7" stroke-dasharray="3.3 2.3"/>
<line x1="1024.2" y1="850.1" x2="1063.2" y2="800.6" stroke="#cbcbcb" stroke-width="1.7" stroke-dasharray="3.3 2.3"/>
<line x1="1127.4" y1="850.1" x2="1166.4" y2="800.6" stroke="#cbcbcb" stroke-width="1.7" stroke-dasharray="3.3 2.3"/>
<line x1="1178.9" y1="850.1" x2="1217.9" y2="800.6" stroke="#cbcbcb" stroke-width="1.7" stroke-dasharray="3.3 2.3"/>
<line x1="1230.5" y1="850.1" x2="1269.5" y2="800.6" stroke="#cbcbcb" stroke-width="1.7" stroke-dasharray="3.3 2.3"/>
<line x1="1282.0" y1="850.1" x2="1321.0" y2="800.6" stroke="#cbcbcb" stroke-width="1.7" stroke-dasharray="3.3 2.3"/>
<line x1="1385.2" y1="850.1" x2="1424.2" y2="800.6" stroke="#cbcbcb" stroke-width="1.7" stroke-dasharray="3.3 2.3"/>
<line x1="1436.7" y1="850.1" x2="1475.7" y2="800.6" stroke="#cbcbcb" stroke-width="1.7" stroke-dasharray="3.3 2.3"/>
<line x1="1488.3" y1="850.1" x2="1527.3" y2="800.6" stroke="#cbcbcb" stroke-width="1.7" stroke-dasharray="3.3 2.3"/>
<line x1="1539.8" y1="850.1" x2="1578.8" y2="800.6" stroke="#cbcbcb" stroke-width="1.7" stroke-dasharray="3.3 2.3"/>
<line x1="1643.0" y1="850.1" x2="1682.0" y2="800.6" stroke="#cbcbcb" stroke-width="1.7" stroke-dasharray="3.3 2.3"/>
<line x1="560.2" y1="850.1" x2="599.2" y2="800.6" stroke="#9c9c9c" stroke-width="2.2" />
<line x1="818.0" y1="850.1" x2="857.0" y2="800.6" stroke="#9c9c9c" stroke-width="2.2" />
<line x1="1075.8" y1="850.1" x2="1114.8" y2="800.6" stroke="#9c9c9c" stroke-width="2.2" />
<line x1="1333.6" y1="850.1" x2="1372.6" y2="800.6" stroke="#9c9c9c" stroke-width="2.2" />
<line x1="1591.4" y1="850.1" x2="1630.4" y2="800.6" stroke="#9c9c9c" stroke-width="2.2" />
<g mask="url(#m8)">
<line x1="393.0" y1="800.6" x2="432.0" y2="751.1" stroke="#cbcbcb" stroke-width="1.7" stroke-dasharray="3.3 2.3"/>
<line x1="444.5" y1="800.6" x2="483.5" y2="751.1" stroke="#cbcbcb" stroke-width="1.7" stroke-dasharray="3.3 2.3"/>
<line x1="496.1" y1="800.6" x2="535.1" y2="751.1" stroke="#cbcbcb" stroke-width="1.7" stroke-dasharray="3.3 2.3"/>
<line x1="547.6" y1="800.6" x2="586.6" y2="751.1" stroke="#cbcbcb" stroke-width="1.7" stroke-dasharray="3.3 2.3"/>
<line x1="650.8" y1="800.6" x2="689.8" y2="751.1" stroke="#cbcbcb" stroke-width="1.7" stroke-dasharray="3.3 2.3"/>
<line x1="702.3" y1="800.6" x2="741.3" y2="751.1" stroke="#cbcbcb" stroke-width="1.7" stroke-dasharray="3.3 2.3"/>
<line x1="753.9" y1="800.6" x2="792.9" y2="751.1" stroke="#cbcbcb" stroke-width="1.7" stroke-dasharray="3.3 2.3"/>
<line x1="805.4" y1="800.6" x2="844.4" y2="751.1" stroke="#cbcbcb" stroke-width="1.7" stroke-dasharray="3.3 2.3"/>
<line x1="908.6" y1="800.6" x2="947.6" y2="751.1" stroke="#cbcbcb" stroke-width="1.7" stroke-dasharray="3.3 2.3"/>
<line x1="960.1" y1="800.6" x2="999.1" y2="751.1" stroke="#cbcbcb" stroke-width="1.7" stroke-dasharray="3.3 2.3"/>
<line x1="1011.7" y1="800.6" x2="1050.7" y2="751.1" stroke="#cbcbcb" stroke-width="1.7" stroke-dasharray="3.3 2.3"/>
<line x1="1063.2" y1="800.6" x2="1102.2" y2="751.1" stroke="#cbcbcb" stroke-width="1.7" stroke-dasharray="3.3 2.3"/>
<line x1="1166.4" y1="800.6" x2="1205.4" y2="751.1" stroke="#cbcbcb" stroke-width="1.7" stroke-dasharray="3.3 2.3"/>
<line x1="1217.9" y1="800.6" x2="1256.9" y2="751.1" stroke="#cbcbcb" stroke-width="1.7" stroke-dasharray="3.3 2.3"/>
<line x1="1269.5" y1="800.6" x2="1308.5" y2="751.1" stroke="#cbcbcb" stroke-width="1.7" stroke-dasharray="3.3 2.3"/>
<line x1="1321.0" y1="800.6" x2="1360.0" y2="751.1" stroke="#cbcbcb" stroke-width="1.7" stroke-dasharray="3.3 2.3"/>
<line x1="1424.2" y1="800.6" x2="1463.2" y2="751.1" stroke="#cbcbcb" stroke-width="1.7" stroke-dasharray="3.3 2.3"/>
<line x1="1475.7" y1="800.6" x2="1514.7" y2="751.1" stroke="#cbcbcb" stroke-width="1.7" stroke-dasharray="3.3 2.3"/>
<line x1="1527.3" y1="800.6" x2="1566.3" y2="751.1" stroke="#cbcbcb" stroke-width="1.7" stroke-dasharray="3.3 2.3"/>
<line x1="1578.8" y1="800.6" x2="1617.8" y2="751.1" stroke="#cbcbcb" stroke-width="1.7" stroke-dasharray="3.3 2.3"/>
<line x1="1682.0" y1="800.6" x2="1721.0" y2="751.1" stroke="#cbcbcb" stroke-width="1.7" stroke-dasharray="3.3 2.3"/>
<line x1="599.2" y1="800.6" x2="638.2" y2="751.1" stroke="#9c9c9c" stroke-width="2.2" />
<line x1="857.0" y1="800.6" x2="896.0" y2="751.1" stroke="#9c9c9c" stroke-width="2.2" />
<line x1="1114.8" y1="800.6" x2="1153.8" y2="751.1" stroke="#9c9c9c" stroke-width="2.2" />
<line x1="1372.6" y1="800.6" x2="1411.6" y2="751.1" stroke="#9c9c9c" stroke-width="2.2" />
<line x1="1630.4" y1="800.6" x2="1669.4" y2="751.1" stroke="#9c9c9c" stroke-width="2.2" />
<line x1="369.6" y1="780.8" x2="1710.6" y2="780.8" stroke="#9c9c9c" stroke-width="2.2" />
<g mask="url(#m9)">
<line x1="432.0" y1="751.1" x2="471.0" y2="701.5" stroke="#cbcbcb" stroke-width="1.7" stroke-dasharray="3.3 2.3"/>
<line x1="483.5" y1="751.1" x2="522.5" y2="701.5" stroke="#cbcbcb" stroke-width="1.7" stroke-dasharray="3.3 2.3"/>
<line x1="535.1" y1="751.1" x2="574.1" y2="701.5" stroke="#cbcbcb" stroke-width="1.7" stroke-dasharray="3.3 2.3"/>
<line x1="586.6" y1="751.1" x2="625.6" y2="701.5" stroke="#cbcbcb" stroke-width="1.7" stroke-dasharray="3.3 2.3"/>
<line x1="689.8" y1="751.1" x2="728.8" y2="701.5" stroke="#cbcbcb" stroke-width="1.7" stroke-dasharray="3.3 2.3"/>
<line x1="741.3" y1="751.1" x2="780.3" y2="701.5" stroke="#cbcbcb" stroke-width="1.7" stroke-dasharray="3.3 2.3"/>
<line x1="792.9" y1="751.1" x2="831.9" y2="701.5" stroke="#cbcbcb" stroke-width="1.7" stroke-dasharray="3.3 2.3"/>
<line x1="844.4" y1="751.1" x2="883.4" y2="701.5" stroke="#cbcbcb" stroke-width="1.7" stroke-dasharray="3.3 2.3"/>
<line x1="947.6" y1="751.1" x2="986.6" y2="701.5" stroke="#cbcbcb" stroke-width="1.7" stroke-dasharray="3.3 2.3"/>
<line x1="999.1" y1="751.1" x2="1038.1" y2="701.5" stroke="#cbcbcb" stroke-width="1.7" stroke-dasharray="3.3 2.3"/>
<line x1="1050.7" y1="751.1" x2="1089.7" y2="701.5" stroke="#cbcbcb" stroke-width="1.7" stroke-dasharray="3.3 2.3"/>
<line x1="1102.2" y1="751.1" x2="1141.2" y2="701.5" stroke="#cbcbcb" stroke-width="1.7" stroke-dasharray="3.3 2.3"/>
<line x1="1205.4" y1="751.1" x2="1244.4" y2="701.5" stroke="#cbcbcb" stroke-width="1.7" stroke-dasharray="3.3 2.3"/>
<line x1="1256.9" y1="751.1" x2="1295.9" y2="701.5" stroke="#cbcbcb" stroke-width="1.7" stroke-dasharray="3.3 2.3"/>
<line x1="1308.5" y1="751.1" x2="1347.5" y2="701.5" stroke="#cbcbcb" stroke-width="1.7" stroke-dasharray="3.3 2.3"/>
<line x1="1360.0" y1="751.1" x2="1399.0" y2="701.5" stroke="#cbcbcb" stroke-width="1.7" stroke-dasharray="3.3 2.3"/>
<line x1="1463.2" y1="751.1" x2="1502.2" y2="701.5" stroke="#cbcbcb" stroke-width="1.7" stroke-dasharray="3.3 2.3"/>
<line x1="1514.7" y1="751.1" x2="1553.7" y2="701.5" stroke="#cbcbcb" stroke-width="1.7" stroke-dasharray="3.3 2.3"/>
<line x1="1566.3" y1="751.1" x2="1605.3" y2="701.5" stroke="#cbcbcb" stroke-width="1.7" stroke-dasharray="3.3 2.3"/>
<line x1="1617.8" y1="751.1" x2="1656.8" y2="701.5" stroke="#cbcbcb" stroke-width="1.7" stroke-dasharray="3.3 2.3"/>
<line x1="1721.0" y1="751.1" x2="1760.0" y2="701.5" stroke="#cbcbcb" stroke-width="1.7" stroke-dasharray="3.3 2.3"/>
<line x1="638.2" y1="751.1" x2="677.2" y2="701.5" stroke="#9c9c9c" stroke-width="2.2" />
<line x1="896.0" y1="751.1" x2="935.0" y2="701.5" stroke="#9c9c9c" stroke-width="2.2" />
<line x1="1153.8" y1="751.1" x2="1192.8" y2="701.5" stroke="#9c9c9c" stroke-width="2.2" />
<line x1="1411.6" y1="751.1" x2="1450.6" y2="701.5" stroke="#9c9c9c" stroke-width="2.2" />
<line x1="1669.4" y1="751.1" x2="1708.4" y2="701.5" stroke="#9c9c9c" stroke-width="2.2" />
<g mask="url(#m10)">
<line x1="471.0" y1="701.5" x2="510.0" y2="652.0" stroke="#cbcbcb" stroke-width="1.7" stroke-dasharray="3.3 2.3"/>
<line x1="522.5" y1="701.5" x2="561.5" y2="652.0" stroke="#cbcbcb" stroke-width="1.7" stroke-dasharray="3.3 2.3"/>
<line x1="574.1" y1="701.5" x2="613.1" y2="652.0" stroke="#cbcbcb" stroke-width="1.7" stroke-dasharray="3.3 2.3"/>
<line x1="625.6" y1="701.5" x2="664.6" y2="652.0" stroke="#cbcbcb" stroke-width="1.7" stroke-dasharray="3.3 2.3"/>
<line x1="728.8" y1="701.5" x2="767.8" y2="652.0" stroke="#cbcbcb" stroke-width="1.7" stroke-dasharray="3.3 2.3"/>
<line x1="780.3" y1="701.5" x2="819.3" y2="652.0" stroke="#cbcbcb" stroke-width="1.7" stroke-dasharray="3.3 2.3"/>
<line x1="831.9" y1="701.5" x2="870.9" y2="652.0" stroke="#cbcbcb" stroke-width="1.7" stroke-dasharray="3.3 2.3"/>
<line x1="883.4" y1="701.5" x2="922.4" y2="652.0" stroke="#cbcbcb" stroke-width="1.7" stroke-dasharray="3.3 2.3"/>
<line x1="986.6" y1="701.5" x2="1025.6" y2="652.0" stroke="#cbcbcb" stroke-width="1.7" stroke-dasharray="3.3 2.3"/>
<line x1="1038.1" y1="701.5" x2="1077.1" y2="652.0" stroke="#cbcbcb" stroke-width="1.7" stroke-dasharray="3.3 2.3"/>
<line x1="1089.7" y1="701.5" x2="1128.7" y2="652.0" stroke="#cbcbcb" stroke-width="1.7" stroke-dasharray="3.3 2.3"/>
<line x1="1141.2" y1="701.5" x2="1180.2" y2="652.0" stroke="#cbcbcb" stroke-width="1.7" stroke-dasharray="3.3 2.3"/>
<line x1="1244.4" y1="701.5" x2="1283.4" y2="652.0" stroke="#cbcbcb" stroke-width="1.7" stroke-dasharray="3.3 2.3"/>
<line x1="1295.9" y1="701.5" x2="1334.9" y2="652.0" stroke="#cbcbcb" stroke-width="1.7" stroke-dasharray="3.3 2.3"/>
<line x1="1347.5" y1="701.5" x2="1386.5" y2="652.0" stroke="#cbcbcb" stroke-width="1.7" stroke-dasharray="3.3 2.3"/>
<line x1="1399.0" y1="701.5" x2="1438.0" y2="652.0" stroke="#cbcbcb" stroke-width="1.7" stroke-dasharray="3.3 2.3"/>
<line x1="1502.2" y1="701.5" x2="1541.2" y2="652.0" stroke="#cbcbcb" stroke-width="1.7" stroke-dasharray="3.3 2.3"/>
<line x1="1553.7" y1="701.5" x2="1592.7" y2="652.0" stroke="#cbcbcb" stroke-width="1.7" stroke-dasharray="3.3 2.3"/>
<line x1="1605.3" y1="701.5" x2="1644.3" y2="652.0" stroke="#cbcbcb" stroke-width="1.7" stroke-dasharray="3.3 2.3"/>
<line x1="1656.8" y1="701.5" x2="1695.8" y2="652.0" stroke="#cbcbcb" stroke-width="1.7" stroke-dasharray="3.3 2.3"/>
<line x1="1760.0" y1="701.5" x2="1799.0" y2="652.0" stroke="#cbcbcb" stroke-width="1.7" stroke-dasharray="3.3 2.3"/>
<line x1="677.2" y1="701.5" x2="716.2" y2="652.0" stroke="#9c9c9c" stroke-width="2.2" />
<line x1="935.0" y1="701.5" x2="974.0" y2="652.0" stroke="#9c9c9c" stroke-width="2.2" />
<line x1="1192.8" y1="701.5" x2="1231.8" y2="652.0" stroke="#9c9c9c" stroke-width="2.2" />
<line x1="1450.6" y1="701.5" x2="1489.6" y2="652.0" stroke="#9c9c9c" stroke-width="2.2" />
<line x1="1708.4" y1="701.5" x2="1747.4" y2="652.0" stroke="#9c9c9c" stroke-width="2.2" />
<line x1="447.6" y1="681.7" x2="1788.6" y2="681.7" stroke="#9c9c9c" stroke-width="2.2" />
<g mask="url(#m11)">
<line x1="471.0" y1="627.7" x2="1812.0" y2="627.7" stroke="#cbcbcb" stroke-width="1.7" stroke-dasharray="3.3 2.3"/>
<line x1="42.0" y1="1172.5" x2="471.0" y2="627.7" stroke="#cbcbcb" stroke-width="1.7" stroke-dasharray="3.3 2.3"/>
<line x1="471.0" y1="603.4" x2="1812.0" y2="603.4" stroke="#cbcbcb" stroke-width="1.7" stroke-dasharray="3.3 2.3"/>
<line x1="42.0" y1="1148.2" x2="471.0" y2="603.4" stroke="#cbcbcb" stroke-width="1.7" stroke-dasharray="3.3 2.3"/>
<line x1="471.0" y1="579.2" x2="1812.0" y2="579.2" stroke="#cbcbcb" stroke-width="1.7" stroke-dasharray="3.3 2.3"/>
<line x1="42.0" y1="1124.0" x2="471.0" y2="579.2" stroke="#cbcbcb" stroke-width="1.7" stroke-dasharray="3.3 2.3"/>
<line x1="471.0" y1="554.9" x2="1812.0" y2="554.9" stroke="#cbcbcb" stroke-width="1.7" stroke-dasharray="3.3 2.3"/>
<line x1="42.0" y1="1099.7" x2="471.0" y2="554.9" stroke="#cbcbcb" stroke-width="1.7" stroke-dasharray="3.3 2.3"/>
<line x1="471.0" y1="506.3" x2="1812.0" y2="506.3" stroke="#cbcbcb" stroke-width="1.7" stroke-dasharray="3.3 2.3"/>
<line x1="42.0" y1="1051.1" x2="471.0" y2="506.3" stroke="#cbcbcb" stroke-width="1.7" stroke-dasharray="3.3 2.3"/>
<line x1="471.0" y1="482.0" x2="1812.0" y2="482.0" stroke="#cbcbcb" stroke-width="1.7" stroke-dasharray="3.3 2.3"/>
<line x1="42.0" y1="1026.8" x2="471.0" y2="482.0" stroke="#cbcbcb" stroke-width="1.7" stroke-dasharray="3.3 2.3"/>
<line x1="471.0" y1="457.8" x2="1812.0" y2="457.8" stroke="#cbcbcb" stroke-width="1.7" stroke-dasharray="3.3 2.3"/>
<line x1="42.0" y1="1002.6" x2="471.0" y2="457.8" stroke="#cbcbcb" stroke-width="1.7" stroke-dasharray="3.3 2.3"/>
<line x1="471.0" y1="433.5" x2="1812.0" y2="433.5" stroke="#cbcbcb" stroke-width="1.7" stroke-dasharray="3.3 2.3"/>
<line x1="42.0" y1="978.3" x2="471.0" y2="433.5" stroke="#cbcbcb" stroke-width="1.7" stroke-dasharray="3.3 2.3"/>
<line x1="471.0" y1="384.9" x2="1812.0" y2="384.9" stroke="#cbcbcb" stroke-width="1.7" stroke-dasharray="3.3 2.3"/>
<line x1="42.0" y1="929.7" x2="471.0" y2="384.9" stroke="#cbcbcb" stroke-width="1.7" stroke-dasharray="3.3 2.3"/>
<line x1="471.0" y1="360.6" x2="1812.0" y2="360.6" stroke="#cbcbcb" stroke-width="1.7" stroke-dasharray="3.3 2.3"/>
<line x1="42.0" y1="905.4" x2="471.0" y2="360.6" stroke="#cbcbcb" stroke-width="1.7" stroke-dasharray="3.3 2.3"/>
<line x1="471.0" y1="336.4" x2="1812.0" y2="336.4" stroke="#cbcbcb" stroke-width="1.7" stroke-dasharray="3.3 2.3"/>
<line x1="42.0" y1="881.2" x2="471.0" y2="336.4" stroke="#cbcbcb" stroke-width="1.7" stroke-dasharray="3.3 2.3"/>
<line x1="471.0" y1="312.1" x2="1812.0" y2="312.1" stroke="#cbcbcb" stroke-width="1.7" stroke-dasharray="3.3 2.3"/>
<line x1="42.0" y1="856.9" x2="471.0" y2="312.1" stroke="#cbcbcb" stroke-width="1.7" stroke-dasharray="3.3 2.3"/>
<line x1="471.0" y1="263.5" x2="1812.0" y2="263.5" stroke="#cbcbcb" stroke-width="1.7" stroke-dasharray="3.3 2.3"/>
<line x1="42.0" y1="808.3" x2="471.0" y2="263.5" stroke="#cbcbcb" stroke-width="1.7" stroke-dasharray="3.3 2.3"/>
<line x1="471.0" y1="239.2" x2="1812.0" y2="239.2" stroke="#cbcbcb" stroke-width="1.7" stroke-dasharray="3.3 2.3"/>
<line x1="42.0" y1="784.0" x2="471.0" y2="239.2" stroke="#cbcbcb" stroke-width="1.7" stroke-dasharray="3.3 2.3"/>
<line x1="471.0" y1="215.0" x2="1812.0" y2="215.0" stroke="#cbcbcb" stroke-width="1.7" stroke-dasharray="3.3 2.3"/>
<line x1="42.0" y1="759.8" x2="471.0" y2="215.0" stroke="#cbcbcb" stroke-width="1.7" stroke-dasharray="3.3 2.3"/>
<line x1="471.0" y1="190.7" x2="1812.0" y2="190.7" stroke="#cbcbcb" stroke-width="1.7" stroke-dasharray="3.3 2.3"/>
<line x1="42.0" y1="735.5" x2="471.0" y2="190.7" stroke="#cbcbcb" stroke-width="1.7" stroke-dasharray="3.3 2.3"/>
<line x1="471.0" y1="142.1" x2="1812.0" y2="142.1" stroke="#cbcbcb" stroke-width="1.7" stroke-dasharray="3.3 2.3"/>
<line x1="42.0" y1="686.9" x2="471.0" y2="142.1" stroke="#cbcbcb" stroke-width="1.7" stroke-dasharray="3.3 2.3"/>
<line x1="471.0" y1="117.8" x2="1812.0" y2="117.8" stroke="#cbcbcb" stroke-width="1.7" stroke-dasharray="3.3 2.3"/>
<line x1="42.0" y1="662.6" x2="471.0" y2="117.8" stroke="#cbcbcb" stroke-width="1.7" stroke-dasharray="3.3 2.3"/>
<line x1="471.0" y1="93.6" x2="1812.0" y2="93.6" stroke="#cbcbcb" stroke-width="1.7" stroke-dasharray="3.3 2.3"/>
<line x1="42.0" y1="638.4" x2="471.0" y2="93.6" stroke="#cbcbcb" stroke-width="1.7" stroke-dasharray="3.3 2.3"/>
<line x1="471.0" y1="69.3" x2="1812.0" y2="69.3" stroke="#cbcbcb" stroke-width="1.7" stroke-dasharray="3.3 2.3"/>
<line x1="42.0" y1="614.1" x2="471.0" y2="69.3" stroke="#cbcbcb" stroke-width="1.7" stroke-dasharray="3.3 2.3"/>
<line x1="510.0" y1="45.0" x2="510.0" y2="652.0" stroke="#cbcbcb" stroke-width="1.7" stroke-dasharray="3.3 2.3"/>
<line x1="561.5" y1="45.0" x2="561.5" y2="652.0" stroke="#cbcbcb" stroke-width="1.7" stroke-dasharray="3.3 2.3"/>
<line x1="613.1" y1="45.0" x2="613.1" y2="652.0" stroke="#cbcbcb" stroke-width="1.7" stroke-dasharray="3.3 2.3"/>
<line x1="664.6" y1="45.0" x2="664.6" y2="652.0" stroke="#cbcbcb" stroke-width="1.7" stroke-dasharray="3.3 2.3"/>
<line x1="767.8" y1="45.0" x2="767.8" y2="652.0" stroke="#cbcbcb" stroke-width="1.7" stroke-dasharray="3.3 2.3"/>
<line x1="819.3" y1="45.0" x2="819.3" y2="652.0" stroke="#cbcbcb" stroke-width="1.7" stroke-dasharray="3.3 2.3"/>
<line x1="870.9" y1="45.0" x2="870.9" y2="652.0" stroke="#cbcbcb" stroke-width="1.7" stroke-dasharray="3.3 2.3"/>
<line x1="922.4" y1="45.0" x2="922.4" y2="652.0" stroke="#cbcbcb" stroke-width="1.7" stroke-dasharray="3.3 2.3"/>
<line x1="1025.6" y1="45.0" x2="1025.6" y2="652.0" stroke="#cbcbcb" stroke-width="1.7" stroke-dasharray="3.3 2.3"/>
<line x1="1077.1" y1="45.0" x2="1077.1" y2="652.0" stroke="#cbcbcb" stroke-width="1.7" stroke-dasharray="3.3 2.3"/>
<line x1="1128.7" y1="45.0" x2="1128.7" y2="652.0" stroke="#cbcbcb" stroke-width="1.7" stroke-dasharray="3.3 2.3"/>
<line x1="1180.2" y1="45.0" x2="1180.2" y2="652.0" stroke="#cbcbcb" stroke-width="1.7" stroke-dasharray="3.3 2.3"/>
<line x1="1283.4" y1="45.0" x2="1283.4" y2="652.0" stroke="#cbcbcb" stroke-width="1.7" stroke-dasharray="3.3 2.3"/>
<line x1="1334.9" y1="45.0" x2="1334.9" y2="652.0" stroke="#cbcbcb" stroke-width="1.7" stroke-dasharray="3.3 2.3"/>
<line x1="1386.5" y1="45.0" x2="1386.5" y2="652.0" stroke="#cbcbcb" stroke-width="1.7" stroke-dasharray="3.3 2.3"/>
<line x1="1438.0" y1="45.0" x2="1438.0" y2="652.0" stroke="#cbcbcb" stroke-width="1.7" stroke-dasharray="3.3 2.3"/>
<line x1="1541.2" y1="45.0" x2="1541.2" y2="652.0" stroke="#cbcbcb" stroke-width="1.7" stroke-dasharray="3.3 2.3"/>
<line x1="1592.7" y1="45.0" x2="1592.7" y2="652.0" stroke="#cbcbcb" stroke-width="1.7" stroke-dasharray="3.3 2.3"/>
<line x1="1644.3" y1="45.0" x2="1644.3" y2="652.0" stroke="#cbcbcb" stroke-width="1.7" stroke-dasharray="3.3 2.3"/>
<line x1="1695.8" y1="45.0" x2="1695.8" y2="652.0" stroke="#cbcbcb" stroke-width="1.7" stroke-dasharray="3.3 2.3"/>
<line x1="1799.0" y1="45.0" x2="1799.0" y2="652.0" stroke="#cbcbcb" stroke-width="1.7" stroke-dasharray="3.3 2.3"/>
<line x1="471.0" y1="530.6" x2="1812.0" y2="530.6" stroke="#9c9c9c" stroke-width="2.2" />
<line x1="42.0" y1="1075.4" x2="471.0" y2="530.6" stroke="#9c9c9c" stroke-width="2.2" />
<line x1="471.0" y1="409.2" x2="1812.0" y2="409.2" stroke="#9c9c9c" stroke-width="2.2" />
<line x1="42.0" y1="954.0" x2="471.0" y2="409.2" stroke="#9c9c9c" stroke-width="2.2" />
<line x1="471.0" y1="287.8" x2="1812.0" y2="287.8" stroke="#9c9c9c" stroke-width="2.2" />
<line x1="42.0" y1="832.6" x2="471.0" y2="287.8" stroke="#9c9c9c" stroke-width="2.2" />
<line x1="471.0" y1="166.4" x2="1812.0" y2="166.4" stroke="#9c9c9c" stroke-width="2.2" />
<line x1="42.0" y1="711.2" x2="471.0" y2="166.4" stroke="#9c9c9c" stroke-width="2.2" />
<line x1="716.2" y1="45.0" x2="716.2" y2="652.0" stroke="#9c9c9c" stroke-width="2.2" />
<line x1="974.0" y1="45.0" x2="974.0" y2="652.0" stroke="#9c9c9c" stroke-width="2.2" />
<line x1="1231.8" y1="45.0" x2="1231.8" y2="652.0" stroke="#9c9c9c" stroke-width="2.2" />
<line x1="1489.6" y1="45.0" x2="1489.6" y2="652.0" stroke="#9c9c9c" stroke-width="2.2" />
<line x1="1747.4" y1="45.0" x2="1747.4" y2="652.0" stroke="#9c9c9c" stroke-width="2.2" />
<line x1="57.6" y1="1177.0" x2="57.6" y2="570.0" stroke="#9c9c9c" stroke-width="2.2" />
<line x1="135.6" y1="1077.9" x2="135.6" y2="470.9" stroke="#9c9c9c" stroke-width="2.2" />
<line x1="213.6" y1="978.9" x2="213.6" y2="371.9" stroke="#9c9c9c" stroke-width="2.2" />
<line x1="291.6" y1="879.8" x2="291.6" y2="272.8" stroke="#9c9c9c" stroke-width="2.2" />
<line x1="369.6" y1="780.8" x2="369.6" y2="173.8" stroke="#9c9c9c" stroke-width="2.2" />
<line x1="447.6" y1="681.7" x2="447.6" y2="74.7" stroke="#9c9c9c" stroke-width="2.2" />
</g>
</g>
</g>
</g>
</g>
</g>
</g>
</g>
</g>
</g>
</g>
</g>
</g>
<g fill="none" stroke="#000" stroke-linejoin="miter" stroke-linecap="square">
<path stroke-width="3.8" d="M1812.0,45.0 H471.0"/>
<path stroke-width="4.7" d="M471.0,45.0 L42.0,589.0"/>
<path stroke-width="4.0" d="M42.0,589.0 V1196.8 H1383.0"/>
<path stroke-width="4.8" d="M1811.6,45.0 V652.0 L1383.0,1196.8"/>
</g>
<g stroke="#000" fill="none">
<line x1="1796.5" y1="652.0" x2="1812.0" y2="652.0" stroke="#000" stroke-width="3.8" />
<line x1="1804.0" y1="627.7" x2="1812.0" y2="627.7" stroke="#000" stroke-width="3.8" />
<line x1="1804.0" y1="603.4" x2="1812.0" y2="603.4" stroke="#000" stroke-width="3.8" />
<line x1="1804.0" y1="579.2" x2="1812.0" y2="579.2" stroke="#000" stroke-width="3.8" />
<line x1="1804.0" y1="554.9" x2="1812.0" y2="554.9" stroke="#000" stroke-width="3.8" />
<line x1="1796.5" y1="530.6" x2="1812.0" y2="530.6" stroke="#000" stroke-width="3.8" />
<line x1="1804.0" y1="506.3" x2="1812.0" y2="506.3" stroke="#000" stroke-width="3.8" />
<line x1="1804.0" y1="482.0" x2="1812.0" y2="482.0" stroke="#000" stroke-width="3.8" />
<line x1="1804.0" y1="457.8" x2="1812.0" y2="457.8" stroke="#000" stroke-width="3.8" />
<line x1="1804.0" y1="433.5" x2="1812.0" y2="433.5" stroke="#000" stroke-width="3.8" />
<line x1="1796.5" y1="409.2" x2="1812.0" y2="409.2" stroke="#000" stroke-width="3.8" />
<line x1="1804.0" y1="384.9" x2="1812.0" y2="384.9" stroke="#000" stroke-width="3.8" />
<line x1="1804.0" y1="360.6" x2="1812.0" y2="360.6" stroke="#000" stroke-width="3.8" />
<line x1="1804.0" y1="336.4" x2="1812.0" y2="336.4" stroke="#000" stroke-width="3.8" />
<line x1="1804.0" y1="312.1" x2="1812.0" y2="312.1" stroke="#000" stroke-width="3.8" />
<line x1="1796.5" y1="287.8" x2="1812.0" y2="287.8" stroke="#000" stroke-width="3.8" />
<line x1="1804.0" y1="263.5" x2="1812.0" y2="263.5" stroke="#000" stroke-width="3.8" />
<line x1="1804.0" y1="239.2" x2="1812.0" y2="239.2" stroke="#000" stroke-width="3.8" />
<line x1="1804.0" y1="215.0" x2="1812.0" y2="215.0" stroke="#000" stroke-width="3.8" />
<line x1="1804.0" y1="190.7" x2="1812.0" y2="190.7" stroke="#000" stroke-width="3.8" />
<line x1="1796.5" y1="166.4" x2="1812.0" y2="166.4" stroke="#000" stroke-width="3.8" />
<line x1="1804.0" y1="142.1" x2="1812.0" y2="142.1" stroke="#000" stroke-width="3.8" />
<line x1="1804.0" y1="117.8" x2="1812.0" y2="117.8" stroke="#000" stroke-width="3.8" />
<line x1="1804.0" y1="93.6" x2="1812.0" y2="93.6" stroke="#000" stroke-width="3.8" />
<line x1="1804.0" y1="69.3" x2="1812.0" y2="69.3" stroke="#000" stroke-width="3.8" />
<line x1="1796.5" y1="45.0" x2="1812.0" y2="45.0" stroke="#000" stroke-width="3.8" />
<line x1="81.0" y1="1196.8" x2="81.0" y2="1188.3" stroke="#000" stroke-width="4" />
<line x1="132.5" y1="1196.8" x2="132.5" y2="1188.3" stroke="#000" stroke-width="4" />
<line x1="184.1" y1="1196.8" x2="184.1" y2="1188.3" stroke="#000" stroke-width="4" />
<line x1="235.6" y1="1196.8" x2="235.6" y2="1188.3" stroke="#000" stroke-width="4" />
<line x1="287.2" y1="1196.8" x2="287.2" y2="1181.3" stroke="#000" stroke-width="4" />
<line x1="338.8" y1="1196.8" x2="338.8" y2="1188.3" stroke="#000" stroke-width="4" />
<line x1="390.3" y1="1196.8" x2="390.3" y2="1188.3" stroke="#000" stroke-width="4" />
<line x1="441.9" y1="1196.8" x2="441.9" y2="1188.3" stroke="#000" stroke-width="4" />
<line x1="493.4" y1="1196.8" x2="493.4" y2="1188.3" stroke="#000" stroke-width="4" />
<line x1="545.0" y1="1196.8" x2="545.0" y2="1181.3" stroke="#000" stroke-width="4" />
<line x1="596.6" y1="1196.8" x2="596.6" y2="1188.3" stroke="#000" stroke-width="4" />
<line x1="648.1" y1="1196.8" x2="648.1" y2="1188.3" stroke="#000" stroke-width="4" />
<line x1="699.7" y1="1196.8" x2="699.7" y2="1188.3" stroke="#000" stroke-width="4" />
<line x1="751.2" y1="1196.8" x2="751.2" y2="1188.3" stroke="#000" stroke-width="4" />
<line x1="802.8" y1="1196.8" x2="802.8" y2="1181.3" stroke="#000" stroke-width="4" />
<line x1="854.4" y1="1196.8" x2="854.4" y2="1188.3" stroke="#000" stroke-width="4" />
<line x1="905.9" y1="1196.8" x2="905.9" y2="1188.3" stroke="#000" stroke-width="4" />
<line x1="957.5" y1="1196.8" x2="957.5" y2="1188.3" stroke="#000" stroke-width="4" />
<line x1="1009.0" y1="1196.8" x2="1009.0" y2="1188.3" stroke="#000" stroke-width="4" />
<line x1="1060.6" y1="1196.8" x2="1060.6" y2="1181.3" stroke="#000" stroke-width="4" />
<line x1="1112.2" y1="1196.8" x2="1112.2" y2="1188.3" stroke="#000" stroke-width="4" />
<line x1="1163.7" y1="1196.8" x2="1163.7" y2="1188.3" stroke="#000" stroke-width="4" />
<line x1="1215.3" y1="1196.8" x2="1215.3" y2="1188.3" stroke="#000" stroke-width="4" />
<line x1="1266.8" y1="1196.8" x2="1266.8" y2="1188.3" stroke="#000" stroke-width="4" />
<line x1="1318.4" y1="1196.8" x2="1318.4" y2="1181.3" stroke="#000" stroke-width="4" />
<line x1="1370.0" y1="1196.8" x2="1370.0" y2="1188.3" stroke="#000" stroke-width="4" />
<line x1="1384.6" y1="1177.0" x2="1399.6" y2="1177.0" stroke="#000" stroke-width="3.8" />
<line x1="1462.6" y1="1077.9" x2="1477.6" y2="1077.9" stroke="#000" stroke-width="3.8" />
<line x1="1540.6" y1="978.9" x2="1555.6" y2="978.9" stroke="#000" stroke-width="3.8" />
<line x1="1618.6" y1="879.8" x2="1633.6" y2="879.8" stroke="#000" stroke-width="3.8" />
<line x1="1696.6" y1="780.8" x2="1711.6" y2="780.8" stroke="#000" stroke-width="3.8" />
<line x1="1774.6" y1="681.7" x2="1789.6" y2="681.7" stroke="#000" stroke-width="3.8" />
</g>
<g font-family="'Liberation Serif', serif" font-weight="bold" fill="#000">
<text x="29.5" y="89.5" font-size="68.5">(a)</text>
<text x="1825" y="56.5" font-size="40">−30</text>
<text x="1825" y="177.9" font-size="40">−40</text>
<text x="1825" y="299.3" font-size="40">−50</text>
<text x="1825" y="420.7" font-size="40">−60</text>
<text x="1825" y="542.1" font-size="40">−70</text>
<text x="1825" y="663.5" font-size="40">−80</text>
<text x="287.2" y="1243" font-size="39.6" letter-spacing="-0.4" text-anchor="middle">1550.8</text>
<text x="545.0" y="1243" font-size="39.6" letter-spacing="-0.4" text-anchor="middle">1551.0</text>
<text x="802.8" y="1243" font-size="39.6" letter-spacing="-0.4" text-anchor="middle">1551.2</text>
<text x="1060.6" y="1243" font-size="39.6" letter-spacing="-0.4" text-anchor="middle">1551.4</text>
<text x="1318.4" y="1243" font-size="39.6" letter-spacing="-0.4" text-anchor="middle">1551.6</text>
<text x="712.7" y="1290.5" font-size="46" text-anchor="middle">Wavelength (nm)</text>
<text transform="translate(1948,502) rotate(-90)" font-size="45.6">Intensity (dBm)</text>
<text transform="matrix(0.97,0,-0.64,0.777,1422.6,1195.7)" font-size="40">−40</text>
<text transform="matrix(0.97,0,-0.64,0.777,1500.6,1096.6)" font-size="40">−20</text>
<text transform="matrix(0.97,0,-0.64,0.777,1578.6,997.6)" font-size="40">0</text>
<text transform="matrix(0.97,0,-0.64,0.777,1656.6,898.5)" font-size="40">20</text>
<text transform="matrix(0.97,0,-0.64,0.777,1734.6,799.5)" font-size="40">40</text>
<text transform="matrix(0.97,0,-0.64,0.777,1812.6,700.4)" font-size="40">60</text>
<text transform="matrix(0.619,-0.785,1,0,1778,971.7)" font-size="46">Δθ<tspan font-size="29" dy="9" font-weight="normal">2</tspan><tspan dy="-9" font-weight="normal">(°)</tspan></text>
</g>
<g fill="none" stroke="#000">
<rect x="302.2" y="1715.0" width="1258.0" height="1013.8000000000002" stroke-width="6.1"/>
<line x1="392.1" y1="2728.8" x2="392.1" y2="2718.3" stroke="#000" stroke-width="5.4" />
<line x1="482.0" y1="2728.8" x2="482.0" y2="2708.8" stroke="#000" stroke-width="5.4" />
<line x1="571.9" y1="2728.8" x2="571.9" y2="2718.3" stroke="#000" stroke-width="5.4" />
<line x1="661.8" y1="2728.8" x2="661.8" y2="2708.8" stroke="#000" stroke-width="5.4" />
<line x1="751.7" y1="2728.8" x2="751.7" y2="2718.3" stroke="#000" stroke-width="5.4" />
<line x1="841.6" y1="2728.8" x2="841.6" y2="2708.8" stroke="#000" stroke-width="5.4" />
<line x1="931.5" y1="2728.8" x2="931.5" y2="2718.3" stroke="#000" stroke-width="5.4" />
<line x1="1021.4" y1="2728.8" x2="1021.4" y2="2708.8" stroke="#000" stroke-width="5.4" />
<line x1="1111.3" y1="2728.8" x2="1111.3" y2="2718.3" stroke="#000" stroke-width="5.4" />
<line x1="1201.2" y1="2728.8" x2="1201.2" y2="2708.8" stroke="#000" stroke-width="5.4" />
<line x1="1291.1" y1="2728.8" x2="1291.1" y2="2718.3" stroke="#000" stroke-width="5.4" />
<line x1="1381.0" y1="2728.8" x2="1381.0" y2="2708.8" stroke="#000" stroke-width="5.4" />
<line x1="1470.9" y1="2728.8" x2="1470.9" y2="2718.3" stroke="#000" stroke-width="5.4" />
<line x1="302.2" y1="2670.1" x2="322.2" y2="2670.1" stroke="#000" stroke-width="5.4" />
<line x1="302.2" y1="2610.4" x2="312.7" y2="2610.4" stroke="#000" stroke-width="5.4" />
<line x1="302.2" y1="2550.8" x2="322.2" y2="2550.8" stroke="#000" stroke-width="5.4" />
<line x1="302.2" y1="2491.2" x2="312.7" y2="2491.2" stroke="#000" stroke-width="5.4" />
<line x1="302.2" y1="2431.5" x2="322.2" y2="2431.5" stroke="#000" stroke-width="5.4" />
<line x1="302.2" y1="2371.8" x2="312.7" y2="2371.8" stroke="#000" stroke-width="5.4" />
<line x1="302.2" y1="2312.2" x2="322.2" y2="2312.2" stroke="#000" stroke-width="5.4" />
<line x1="302.2" y1="2252.6" x2="312.7" y2="2252.6" stroke="#000" stroke-width="5.4" />
<line x1="302.2" y1="2192.9" x2="322.2" y2="2192.9" stroke="#000" stroke-width="5.4" />
<line x1="302.2" y1="2133.2" x2="312.7" y2="2133.2" stroke="#000" stroke-width="5.4" />
<line x1="302.2" y1="2073.6" x2="322.2" y2="2073.6" stroke="#000" stroke-width="5.4" />
<line x1="302.2" y1="2014.0" x2="312.7" y2="2014.0" stroke="#000" stroke-width="5.4" />
<line x1="302.2" y1="1954.3" x2="322.2" y2="1954.3" stroke="#000" stroke-width="5.4" />
<line x1="302.2" y1="1894.7" x2="312.7" y2="1894.7" stroke="#000" stroke-width="5.4" />
<line x1="302.2" y1="1835.0" x2="322.2" y2="1835.0" stroke="#000" stroke-width="5.4" />
<line x1="302.2" y1="1775.3" x2="312.7" y2="1775.3" stroke="#000" stroke-width="5.4" />
</g>
<g stroke="#000" fill="none" stroke-linecap="round">
<line x1="448.4" y1="1854.7" x2="533.6" y2="2473.8" stroke="#000" stroke-width="6.2" />
<line x1="548.7" y1="2503.2" x2="613.1" y2="2563.9" stroke="#000" stroke-width="6.2" />
<line x1="642.4" y1="2581.4" x2="699.1" y2="2600.2" stroke="#000" stroke-width="6.2" />
<line x1="733.2" y1="2606.4" x2="788.2" y2="2608.6" stroke="#000" stroke-width="6.2" />
<line x1="823.1" y1="2607.6" x2="878.1" y2="2602.5" stroke="#000" stroke-width="6.2" />
<line x1="912.8" y1="2597.9" x2="968.2" y2="2588.4" stroke="#000" stroke-width="6.2" />
<line x1="1002.9" y1="2586.6" x2="1057.9" y2="2590.2" stroke="#000" stroke-width="6.2" />
<line x1="1092.7" y1="2593.9" x2="1147.9" y2="2602.0" stroke="#000" stroke-width="6.2" />
<line x1="1182.4" y1="2601.3" x2="1237.9" y2="2591.0" stroke="#000" stroke-width="6.2" />
<line x1="1272.5" y1="2585.3" x2="1327.7" y2="2577.2" stroke="#000" stroke-width="6.2" />
<line x1="1358.1" y1="2563.0" x2="1421.9" y2="2505.9" stroke="#000" stroke-width="6.2" />
</g>
<rect x="434.4" y="1825.8" width="23.2" height="23.2" fill="#000"/>
<rect x="524.3" y="2479.6" width="23.2" height="23.2" fill="#000"/>
<rect x="614.2" y="2564.3" width="23.2" height="23.2" fill="#000"/>
<rect x="704.1" y="2594.1" width="23.2" height="23.2" fill="#000"/>
<rect x="794.0" y="2597.7" width="23.2" height="23.2" fill="#000"/>
<rect x="883.9" y="2589.3" width="23.2" height="23.2" fill="#000"/>
<rect x="973.8" y="2573.8" width="23.2" height="23.2" fill="#000"/>
<rect x="1063.7" y="2579.8" width="23.2" height="23.2" fill="#000"/>
<rect x="1153.6" y="2592.9" width="23.2" height="23.2" fill="#000"/>
<rect x="1243.5" y="2576.2" width="23.2" height="23.2" fill="#000"/>
<rect x="1333.4" y="2563.1" width="23.2" height="23.2" fill="#000"/>
<rect x="1423.3" y="2482.7" width="23.2" height="23.2" fill="#000"/>
<g font-family="'Liberation Serif', serif" font-weight="bold" fill="#000">
<text x="72.5" y="1722" font-size="63">(b)</text>
<text x="280.5" y="2685.4" font-size="52.5" text-anchor="end">5</text>
<text x="280.5" y="2566.1" font-size="52.5" text-anchor="end">10</text>
<text x="280.5" y="2446.8" font-size="52.5" text-anchor="end">15</text>
<text x="280.5" y="2327.5" font-size="52.5" text-anchor="end">20</text>
<text x="280.5" y="2208.2" font-size="52.5" text-anchor="end">25</text>
<text x="280.5" y="2088.9" font-size="52.5" text-anchor="end">30</text>
<text x="280.5" y="1969.6" font-size="52.5" text-anchor="end">35</text>
<text x="280.5" y="1850.3" font-size="52.5" text-anchor="end">40</text>
<text x="280.5" y="1731.0" font-size="52.5" text-anchor="end">45</text>
<text x="302.5" y="2791.6" font-size="53.5" letter-spacing="1.2" text-anchor="middle">−60</text>
<text x="482.3" y="2791.6" font-size="53.5" letter-spacing="1.2" text-anchor="middle">−40</text>
<text x="662.1" y="2791.6" font-size="53.5" letter-spacing="1.2" text-anchor="middle">−20</text>
<text x="844.3" y="2791.6" font-size="53.5" text-anchor="middle">0</text>
<text x="1022.2" y="2791.6" font-size="53.5" letter-spacing="1.2" text-anchor="middle">20</text>
<text x="1202.0" y="2791.6" font-size="53.5" letter-spacing="1.2" text-anchor="middle">40</text>
<text x="1381.8" y="2791.6" font-size="53.5" letter-spacing="1.2" text-anchor="middle">60</text>
<text x="1561.6" y="2791.6" font-size="53.5" letter-spacing="1.2" text-anchor="middle">80</text>
<text transform="translate(203,2225.7) rotate(-90)" font-size="63.3" text-anchor="middle">Flatness (dBm)</text>
<text x="850.5" y="2895.7" font-size="67">Δθ<tspan font-size="41" dy="16" dx="1">2</tspan><tspan dy="-16" font-size="61" font-weight="normal" letter-spacing="-1.5">(°)</tspan></text>
</g>
<g fill="none" stroke="#000">
<rect x="962.6" y="1757.1" width="557.4" height="442.0" stroke-width="3.4"/>
<line x1="1018.0" y1="2199.1" x2="1018.0" y2="2194.1" stroke="#000" stroke-width="3" />
<line x1="1073.8" y1="2199.1" x2="1073.8" y2="2189.6" stroke="#000" stroke-width="3" />
<line x1="1129.5" y1="2199.1" x2="1129.5" y2="2194.1" stroke="#000" stroke-width="3" />
<line x1="1185.3" y1="2199.1" x2="1185.3" y2="2189.6" stroke="#000" stroke-width="3" />
<line x1="1241.0" y1="2199.1" x2="1241.0" y2="2194.1" stroke="#000" stroke-width="3" />
<line x1="1296.8" y1="2199.1" x2="1296.8" y2="2189.6" stroke="#000" stroke-width="3" />
<line x1="1352.5" y1="2199.1" x2="1352.5" y2="2194.1" stroke="#000" stroke-width="3" />
<line x1="1408.3" y1="2199.1" x2="1408.3" y2="2189.6" stroke="#000" stroke-width="3" />
<line x1="1464.0" y1="2199.1" x2="1464.0" y2="2194.1" stroke="#000" stroke-width="3" />
<line x1="962.6" y1="2143.8" x2="967.6" y2="2143.8" stroke="#000" stroke-width="3" />
<line x1="962.6" y1="2088.6" x2="972.1" y2="2088.6" stroke="#000" stroke-width="3" />
<line x1="962.6" y1="2033.3" x2="967.6" y2="2033.3" stroke="#000" stroke-width="3" />
<line x1="962.6" y1="1978.1" x2="972.1" y2="1978.1" stroke="#000" stroke-width="3" />
<line x1="962.6" y1="1922.8" x2="967.6" y2="1922.8" stroke="#000" stroke-width="3" />
<line x1="962.6" y1="1867.6" x2="972.1" y2="1867.6" stroke="#000" stroke-width="3" />
<line x1="962.6" y1="1812.3" x2="967.6" y2="1812.3" stroke="#000" stroke-width="3" />
</g>
<g stroke="#000" fill="none" stroke-linecap="butt">
<line x1="1035.6" y1="1874.3" x2="1076.3" y2="2017.8" stroke="#000" stroke-width="2.7" />
<line x1="1082.7" y1="2030.0" x2="1118.5" y2="2074.3" stroke="#000" stroke-width="2.7" />
<line x1="1129.8" y1="2080.8" x2="1160.5" y2="2085.4" stroke="#000" stroke-width="2.7" />
<line x1="1174.1" y1="2084.1" x2="1205.4" y2="2073.2" stroke="#000" stroke-width="2.7" />
<line x1="1217.9" y1="2067.1" x2="1250.8" y2="2046.0" stroke="#000" stroke-width="2.7" />
<line x1="1263.5" y1="2043.9" x2="1294.5" y2="2051.6" stroke="#000" stroke-width="2.7" />
<line x1="1307.4" y1="2056.6" x2="1339.7" y2="2074.2" stroke="#000" stroke-width="2.7" />
<line x1="1351.6" y1="2073.6" x2="1384.7" y2="2050.6" stroke="#000" stroke-width="2.7" />
<line x1="1396.6" y1="2043.3" x2="1428.9" y2="2025.7" stroke="#000" stroke-width="2.7" />
<line x1="1437.1" y1="2015.6" x2="1477.7" y2="1880.1" stroke="#000" stroke-width="2.7" />
</g>
<rect x="1028.1" y="1862.0" width="11.2" height="11.2" fill="#000"/>
<rect x="1072.7" y="2018.9" width="11.2" height="11.2" fill="#000"/>
<rect x="1117.3" y="2074.2" width="11.2" height="11.2" fill="#000"/>
<rect x="1161.9" y="2080.8" width="11.2" height="11.2" fill="#000"/>
<rect x="1206.5" y="2065.3" width="11.2" height="11.2" fill="#000"/>
<rect x="1251.1" y="2036.6" width="11.2" height="11.2" fill="#000"/>
<rect x="1295.7" y="2047.6" width="11.2" height="11.2" fill="#000"/>
<rect x="1340.3" y="2071.9" width="11.2" height="11.2" fill="#000"/>
<rect x="1384.9" y="2041.0" width="11.2" height="11.2" fill="#000"/>
<rect x="1429.5" y="2016.7" width="11.2" height="11.2" fill="#000"/>
<rect x="1474.1" y="1867.7" width="11.2" height="11.2" fill="#000"/>
<g font-family="'Liberation Serif', serif" font-weight="bold" fill="#000">
<text transform="translate(952.5,2205.6) scale(1.2,1)" font-size="20" text-anchor="end">5.0</text>
<text transform="translate(952.5,2095.1) scale(1.2,1)" font-size="20" text-anchor="end">7.5</text>
<text transform="translate(952.5,1984.6) scale(1.2,1)" font-size="20" text-anchor="end">10.0</text>
<text transform="translate(952.5,1874.1) scale(1.2,1)" font-size="20" text-anchor="end">12.5</text>
<text transform="translate(952.5,1763.6) scale(1.2,1)" font-size="20" text-anchor="end">15.0</text>
<text transform="translate(962.3,2227.3) scale(1.2,1)" font-size="20" text-anchor="middle">−50</text>
<text transform="translate(1073.8,2227.3) scale(1.2,1)" font-size="20" text-anchor="middle">−25</text>
<text transform="translate(1185.3,2227.3) scale(1.2,1)" font-size="20" text-anchor="middle">0</text>
<text transform="translate(1296.8,2227.3) scale(1.2,1)" font-size="20" text-anchor="middle">25</text>
<text transform="translate(1408.3,2227.3) scale(1.2,1)" font-size="20" text-anchor="middle">50</text>
<text transform="translate(1519.8,2227.3) scale(1.2,1)" font-size="20" text-anchor="middle">75</text>
<text transform="translate(902,1979.3) rotate(-90)" font-size="27" text-anchor="middle">Flatness (dBm)</text>
<text transform="translate(1205,2274) scale(1.15,1)" font-size="25">Δθ<tspan font-size="17" dy="6">2</tspan><tspan dy="-6" font-weight="normal">(°)</tspan></text>
</g>
</svg>
</body></html>
